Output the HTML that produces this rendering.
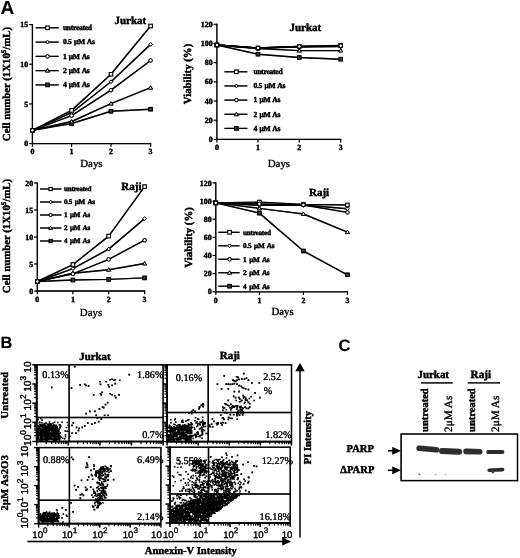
<!DOCTYPE html>
<html><head><meta charset="utf-8"><style>
html,body{margin:0;padding:0;background:#fff;}
svg{display:block;will-change:transform;}
</style></head><body>
<svg width="520" height="558" viewBox="0 0 520 558" text-rendering="geometricPrecision">
<defs><filter id="soft" x="0" y="0" width="520" height="558" filterUnits="userSpaceOnUse" color-interpolation-filters="sRGB">
<feGaussianBlur stdDeviation="0.3"/>
<feComponentTransfer><feFuncR type="gamma" exponent="1.3"/><feFuncG type="gamma" exponent="1.3"/><feFuncB type="gamma" exponent="1.3"/></feComponentTransfer>
</filter><filter id="bb" x="-20%" y="-60%" width="140%" height="220%"><feGaussianBlur stdDeviation="0.5"/></filter></defs>
<g filter="url(#soft)" font-family="Liberation Serif">
<rect width="520" height="558" fill="#fff"/>
<text x="0.60" y="14.20" font-family="Liberation Sans" font-size="19" font-weight="bold">A</text>
<g fill="none" stroke="#000">
<path d="M32.40 24.00L32.40 144.20" stroke="#000" stroke-width="1.3"/>
<path d="M31.80 143.60L151.20 143.60" stroke="#000" stroke-width="1.3"/>
<path d="M29.20 143.60L32.40 143.60" stroke="#000" stroke-width="1.1"/>
<path d="M29.20 103.93L32.40 103.93" stroke="#000" stroke-width="1.1"/>
<path d="M29.20 64.27L32.40 64.27" stroke="#000" stroke-width="1.1"/>
<path d="M29.20 24.60L32.40 24.60" stroke="#000" stroke-width="1.1"/>
<path d="M32.40 143.60L32.40 146.80" stroke="#000" stroke-width="1.1"/>
<path d="M71.60 143.60L71.60 146.80" stroke="#000" stroke-width="1.1"/>
<path d="M111.00 143.60L111.00 146.80" stroke="#000" stroke-width="1.1"/>
<path d="M150.60 143.60L150.60 146.80" stroke="#000" stroke-width="1.1"/>
<path d="M32.40 130.30L71.60 110.40L111.00 74.30L150.60 26.00" stroke-width="1.45" stroke-linejoin="round"/>
<path d="M32.40 130.30L71.60 112.70L111.00 81.70L150.60 44.40" stroke-width="1.45" stroke-linejoin="round"/>
<path d="M32.40 130.30L71.60 115.60L111.00 90.20L150.60 60.50" stroke-width="1.45" stroke-linejoin="round"/>
<path d="M32.40 130.30L71.60 121.50L111.00 103.60L150.60 87.70" stroke-width="1.45" stroke-linejoin="round"/>
<path d="M32.40 130.30L71.60 123.50L111.00 111.30L150.60 109.20" stroke-width="1.45" stroke-linejoin="round"/>
<path d="M35.60 27.80L58.70 27.80" stroke="#000" stroke-width="1.3"/>
<path d="M35.60 42.08L58.70 42.08" stroke="#000" stroke-width="1.3"/>
<path d="M35.60 56.36L58.70 56.36" stroke="#000" stroke-width="1.3"/>
<path d="M35.60 70.64L58.70 70.64" stroke="#000" stroke-width="1.3"/>
<path d="M35.60 84.92L58.70 84.92" stroke="#000" stroke-width="1.3"/>
</g><g stroke="#000">
<rect x="30.60" y="128.50" width="3.60" height="3.60" fill="#555" stroke-width="1"/>
<rect x="69.80" y="121.70" width="3.60" height="3.60" fill="#555" stroke-width="1"/>
<rect x="109.20" y="109.50" width="3.60" height="3.60" fill="#555" stroke-width="1"/>
<rect x="148.80" y="107.40" width="3.60" height="3.60" fill="#555" stroke-width="1"/>
<path d="M32.40 128.30L34.50 131.80L30.30 131.80Z" fill="#fff" stroke-width="1"/>
<path d="M71.60 119.50L73.70 123.00L69.50 123.00Z" fill="#fff" stroke-width="1"/>
<path d="M111.00 101.60L113.10 105.10L108.90 105.10Z" fill="#fff" stroke-width="1"/>
<path d="M150.60 85.70L152.70 89.20L148.50 89.20Z" fill="#fff" stroke-width="1"/>
<path d="M32.40 128.41L34.29 130.30L32.40 132.19L30.51 130.30Z" fill="#fff" stroke-width="1"/>
<path d="M71.60 110.81L73.49 112.70L71.60 114.59L69.71 112.70Z" fill="#fff" stroke-width="1"/>
<path d="M111.00 79.81L112.89 81.70L111.00 83.59L109.11 81.70Z" fill="#fff" stroke-width="1"/>
<path d="M150.60 42.51L152.49 44.40L150.60 46.29L148.71 44.40Z" fill="#fff" stroke-width="1"/>
<rect x="30.60" y="128.50" width="3.60" height="3.60" fill="#fff" stroke-width="1"/>
<rect x="69.80" y="108.60" width="3.60" height="3.60" fill="#fff" stroke-width="1"/>
<rect x="109.20" y="72.50" width="3.60" height="3.60" fill="#fff" stroke-width="1"/>
<rect x="148.80" y="24.20" width="3.60" height="3.60" fill="#fff" stroke-width="1"/>
<circle cx="32.40" cy="130.30" r="1.80" fill="#fff" stroke-width="1"/>
<circle cx="71.60" cy="115.60" r="1.80" fill="#fff" stroke-width="1"/>
<circle cx="111.00" cy="90.20" r="1.80" fill="#fff" stroke-width="1"/>
<circle cx="150.60" cy="60.50" r="1.80" fill="#fff" stroke-width="1"/>
<rect x="45.70" y="26.00" width="3.60" height="3.60" fill="#fff" stroke-width="1"/>
<path d="M47.50 40.19L49.39 42.08L47.50 43.97L45.61 42.08Z" fill="#fff" stroke-width="1"/>
<circle cx="47.50" cy="56.36" r="1.80" fill="#fff" stroke-width="1"/>
<path d="M47.50 68.64L49.60 72.14L45.40 72.14Z" fill="#fff" stroke-width="1"/>
<rect x="45.70" y="83.12" width="3.60" height="3.60" fill="#555" stroke-width="1"/>
</g>
<text x="28.20" y="146.20" font-size="7.9" font-weight="bold" stroke="#000" stroke-width="0.3" text-anchor="end">0</text>
<text x="28.20" y="106.53" font-size="7.9" font-weight="bold" stroke="#000" stroke-width="0.3" text-anchor="end">5</text>
<text x="28.20" y="66.87" font-size="7.9" font-weight="bold" stroke="#000" stroke-width="0.3" text-anchor="end">10</text>
<text x="28.20" y="27.20" font-size="7.9" font-weight="bold" stroke="#000" stroke-width="0.3" text-anchor="end">15</text>
<text x="32.40" y="154.40" font-size="7.9" font-weight="bold" stroke="#000" stroke-width="0.3" text-anchor="middle">0</text>
<text x="71.60" y="154.40" font-size="7.9" font-weight="bold" stroke="#000" stroke-width="0.3" text-anchor="middle">1</text>
<text x="111.00" y="154.40" font-size="7.9" font-weight="bold" stroke="#000" stroke-width="0.3" text-anchor="middle">2</text>
<text x="150.60" y="154.40" font-size="7.9" font-weight="bold" stroke="#000" stroke-width="0.3" text-anchor="middle">3</text>
<text x="62.90" y="30.10" font-size="7.6" font-weight="bold" stroke="#000" stroke-width="0.3" letter-spacing="-0.3" word-spacing="0.8">untreated</text>
<text x="62.90" y="44.38" font-size="7.6" font-weight="bold" stroke="#000" stroke-width="0.3" letter-spacing="-0.3" word-spacing="0.8">0.5 &#956;M As</text>
<text x="62.90" y="58.66" font-size="7.6" font-weight="bold" stroke="#000" stroke-width="0.3" letter-spacing="-0.3" word-spacing="0.8">1 &#956;M As</text>
<text x="62.90" y="72.94" font-size="7.6" font-weight="bold" stroke="#000" stroke-width="0.3" letter-spacing="-0.3" word-spacing="0.8">2 &#956;M As</text>
<text x="62.90" y="87.22" font-size="7.6" font-weight="bold" stroke="#000" stroke-width="0.3" letter-spacing="-0.3" word-spacing="0.8">4 &#956;M As</text>
<text x="114.40" y="24.20" font-size="11" font-weight="bold" stroke="#000" stroke-width="0.3">Jurkat</text>
<text x="80.20" y="166.60" font-size="10.9" stroke="#000" stroke-width="0.22">Days</text>
<text x="9.70" y="84.00" font-size="10.8" font-weight="bold" stroke="#000" stroke-width="0.3" text-anchor="middle" transform="rotate(-90 9.70 84.00)">Cell number (1X10<tspan font-size="7" dy="-4">5</tspan><tspan dy="4">/mL)</tspan></text>
<g fill="none" stroke="#000">
<path d="M216.90 23.70L216.90 140.00" stroke="#000" stroke-width="1.3"/>
<path d="M216.30 139.40L341.30 139.40" stroke="#000" stroke-width="1.3"/>
<path d="M213.70 139.40L216.90 139.40" stroke="#000" stroke-width="1.1"/>
<path d="M213.70 120.22L216.90 120.22" stroke="#000" stroke-width="1.1"/>
<path d="M213.70 101.03L216.90 101.03" stroke="#000" stroke-width="1.1"/>
<path d="M213.70 81.85L216.90 81.85" stroke="#000" stroke-width="1.1"/>
<path d="M213.70 62.67L216.90 62.67" stroke="#000" stroke-width="1.1"/>
<path d="M213.70 43.48L216.90 43.48" stroke="#000" stroke-width="1.1"/>
<path d="M213.70 24.30L216.90 24.30" stroke="#000" stroke-width="1.1"/>
<path d="M216.90 139.40L216.90 142.60" stroke="#000" stroke-width="1.1"/>
<path d="M258.00 139.40L258.00 142.60" stroke="#000" stroke-width="1.1"/>
<path d="M299.30 139.40L299.30 142.60" stroke="#000" stroke-width="1.1"/>
<path d="M340.70 139.40L340.70 142.60" stroke="#000" stroke-width="1.1"/>
<path d="M216.90 45.00L258.00 48.00L299.30 46.50L340.70 45.40" stroke-width="1.45" stroke-linejoin="round"/>
<path d="M216.90 45.00L258.00 48.00L299.30 47.00L340.70 46.60" stroke-width="1.45" stroke-linejoin="round"/>
<path d="M216.90 45.00L258.00 48.00L299.30 46.50L340.70 45.80" stroke-width="1.45" stroke-linejoin="round"/>
<path d="M216.90 45.00L258.00 48.50L299.30 50.60L340.70 50.60" stroke-width="1.45" stroke-linejoin="round"/>
<path d="M216.90 45.00L258.00 54.20L299.30 57.50L340.70 59.20" stroke-width="1.45" stroke-linejoin="round"/>
<path d="M224.40 71.80L247.40 71.80" stroke="#000" stroke-width="1.3"/>
<path d="M224.40 85.95L247.40 85.95" stroke="#000" stroke-width="1.3"/>
<path d="M224.40 100.10L247.40 100.10" stroke="#000" stroke-width="1.3"/>
<path d="M224.40 114.25L247.40 114.25" stroke="#000" stroke-width="1.3"/>
<path d="M224.40 128.40L247.40 128.40" stroke="#000" stroke-width="1.3"/>
</g><g stroke="#000">
<rect x="215.10" y="43.20" width="3.60" height="3.60" fill="#555" stroke-width="1"/>
<rect x="256.20" y="52.40" width="3.60" height="3.60" fill="#555" stroke-width="1"/>
<rect x="297.50" y="55.70" width="3.60" height="3.60" fill="#555" stroke-width="1"/>
<rect x="338.90" y="57.40" width="3.60" height="3.60" fill="#555" stroke-width="1"/>
<path d="M216.90 43.00L219.00 46.50L214.80 46.50Z" fill="#fff" stroke-width="1"/>
<path d="M258.00 46.50L260.10 50.00L255.90 50.00Z" fill="#fff" stroke-width="1"/>
<path d="M299.30 48.60L301.40 52.10L297.20 52.10Z" fill="#fff" stroke-width="1"/>
<path d="M340.70 48.60L342.80 52.10L338.60 52.10Z" fill="#fff" stroke-width="1"/>
<path d="M216.90 43.11L218.79 45.00L216.90 46.89L215.01 45.00Z" fill="#fff" stroke-width="1"/>
<path d="M258.00 46.11L259.89 48.00L258.00 49.89L256.11 48.00Z" fill="#fff" stroke-width="1"/>
<path d="M299.30 45.11L301.19 47.00L299.30 48.89L297.41 47.00Z" fill="#fff" stroke-width="1"/>
<path d="M340.70 44.71L342.59 46.60L340.70 48.49L338.81 46.60Z" fill="#fff" stroke-width="1"/>
<rect x="215.10" y="43.20" width="3.60" height="3.60" fill="#fff" stroke-width="1"/>
<rect x="256.20" y="46.20" width="3.60" height="3.60" fill="#fff" stroke-width="1"/>
<rect x="297.50" y="44.70" width="3.60" height="3.60" fill="#fff" stroke-width="1"/>
<rect x="338.90" y="43.60" width="3.60" height="3.60" fill="#fff" stroke-width="1"/>
<circle cx="216.90" cy="45.00" r="1.80" fill="#fff" stroke-width="1"/>
<circle cx="258.00" cy="48.00" r="1.80" fill="#fff" stroke-width="1"/>
<circle cx="299.30" cy="46.50" r="1.80" fill="#fff" stroke-width="1"/>
<circle cx="340.70" cy="45.80" r="1.80" fill="#fff" stroke-width="1"/>
<rect x="234.60" y="70.00" width="3.60" height="3.60" fill="#fff" stroke-width="1"/>
<path d="M236.40 84.06L238.29 85.95L236.40 87.84L234.51 85.95Z" fill="#fff" stroke-width="1"/>
<circle cx="236.40" cy="100.10" r="1.80" fill="#fff" stroke-width="1"/>
<path d="M236.40 112.25L238.50 115.75L234.30 115.75Z" fill="#fff" stroke-width="1"/>
<rect x="234.60" y="126.60" width="3.60" height="3.60" fill="#555" stroke-width="1"/>
</g>
<text x="212.70" y="142.00" font-size="7.9" font-weight="bold" stroke="#000" stroke-width="0.3" text-anchor="end">0</text>
<text x="212.70" y="122.82" font-size="7.9" font-weight="bold" stroke="#000" stroke-width="0.3" text-anchor="end">20</text>
<text x="212.70" y="103.63" font-size="7.9" font-weight="bold" stroke="#000" stroke-width="0.3" text-anchor="end">40</text>
<text x="212.70" y="84.45" font-size="7.9" font-weight="bold" stroke="#000" stroke-width="0.3" text-anchor="end">60</text>
<text x="212.70" y="65.27" font-size="7.9" font-weight="bold" stroke="#000" stroke-width="0.3" text-anchor="end">80</text>
<text x="212.70" y="46.08" font-size="7.9" font-weight="bold" stroke="#000" stroke-width="0.3" text-anchor="end">100</text>
<text x="212.70" y="26.90" font-size="7.9" font-weight="bold" stroke="#000" stroke-width="0.3" text-anchor="end">120</text>
<text x="216.90" y="150.20" font-size="7.9" font-weight="bold" stroke="#000" stroke-width="0.3" text-anchor="middle">0</text>
<text x="258.00" y="150.20" font-size="7.9" font-weight="bold" stroke="#000" stroke-width="0.3" text-anchor="middle">1</text>
<text x="299.30" y="150.20" font-size="7.9" font-weight="bold" stroke="#000" stroke-width="0.3" text-anchor="middle">2</text>
<text x="340.70" y="150.20" font-size="7.9" font-weight="bold" stroke="#000" stroke-width="0.3" text-anchor="middle">3</text>
<text x="253.50" y="74.10" font-size="7.6" font-weight="bold" stroke="#000" stroke-width="0.3" letter-spacing="-0.3" word-spacing="0.8">untreated</text>
<text x="253.50" y="88.25" font-size="7.6" font-weight="bold" stroke="#000" stroke-width="0.3" letter-spacing="-0.3" word-spacing="0.8">0.5 &#956;M As</text>
<text x="253.50" y="102.40" font-size="7.6" font-weight="bold" stroke="#000" stroke-width="0.3" letter-spacing="-0.3" word-spacing="0.8">1 &#956;M As</text>
<text x="253.50" y="116.55" font-size="7.6" font-weight="bold" stroke="#000" stroke-width="0.3" letter-spacing="-0.3" word-spacing="0.8">2 &#956;M As</text>
<text x="253.50" y="130.70" font-size="7.6" font-weight="bold" stroke="#000" stroke-width="0.3" letter-spacing="-0.3" word-spacing="0.8">4 &#956;M As</text>
<text x="289.50" y="31.20" font-size="11" font-weight="bold" stroke="#000" stroke-width="0.3">Jurkat</text>
<text x="267.70" y="166.50" font-size="10.9" stroke="#000" stroke-width="0.22">Days</text>
<text x="191.20" y="74.00" font-size="10.8" font-weight="bold" stroke="#000" stroke-width="0.3" text-anchor="middle" transform="rotate(-90 191.20 74.00)">Viability (%)</text>
<g fill="none" stroke="#000">
<path d="M37.30 182.40L37.30 291.60" stroke="#000" stroke-width="1.3"/>
<path d="M36.70 291.00L145.20 291.00" stroke="#000" stroke-width="1.3"/>
<path d="M34.10 291.00L37.30 291.00" stroke="#000" stroke-width="1.1"/>
<path d="M34.10 264.00L37.30 264.00" stroke="#000" stroke-width="1.1"/>
<path d="M34.10 237.00L37.30 237.00" stroke="#000" stroke-width="1.1"/>
<path d="M34.10 210.00L37.30 210.00" stroke="#000" stroke-width="1.1"/>
<path d="M34.10 183.00L37.30 183.00" stroke="#000" stroke-width="1.1"/>
<path d="M37.30 291.00L37.30 294.20" stroke="#000" stroke-width="1.1"/>
<path d="M72.90 291.00L72.90 294.20" stroke="#000" stroke-width="1.1"/>
<path d="M108.70 291.00L108.70 294.20" stroke="#000" stroke-width="1.1"/>
<path d="M144.60 291.00L144.60 294.20" stroke="#000" stroke-width="1.1"/>
<path d="M37.30 281.50L72.90 264.60L108.70 236.10L144.60 186.60" stroke-width="1.45" stroke-linejoin="round"/>
<path d="M37.30 281.50L72.90 268.60L108.70 249.10L144.60 218.60" stroke-width="1.45" stroke-linejoin="round"/>
<path d="M37.30 281.50L72.90 273.80L108.70 259.40L144.60 240.20" stroke-width="1.45" stroke-linejoin="round"/>
<path d="M37.30 281.50L72.90 273.30L108.70 269.70L144.60 263.50" stroke-width="1.45" stroke-linejoin="round"/>
<path d="M37.30 281.50L72.90 280.00L108.70 279.40L144.60 277.90" stroke-width="1.45" stroke-linejoin="round"/>
<path d="M40.00 189.00L61.50 189.00" stroke="#000" stroke-width="1.3"/>
<path d="M40.00 202.00L61.50 202.00" stroke="#000" stroke-width="1.3"/>
<path d="M40.00 215.00L61.50 215.00" stroke="#000" stroke-width="1.3"/>
<path d="M40.00 228.00L61.50 228.00" stroke="#000" stroke-width="1.3"/>
<path d="M40.00 241.00L61.50 241.00" stroke="#000" stroke-width="1.3"/>
</g><g stroke="#000">
<rect x="35.50" y="279.70" width="3.60" height="3.60" fill="#555" stroke-width="1"/>
<rect x="71.10" y="278.20" width="3.60" height="3.60" fill="#555" stroke-width="1"/>
<rect x="106.90" y="277.60" width="3.60" height="3.60" fill="#555" stroke-width="1"/>
<rect x="142.80" y="276.10" width="3.60" height="3.60" fill="#555" stroke-width="1"/>
<path d="M37.30 279.50L39.40 283.00L35.20 283.00Z" fill="#fff" stroke-width="1"/>
<path d="M72.90 271.30L75.00 274.80L70.80 274.80Z" fill="#fff" stroke-width="1"/>
<path d="M108.70 267.70L110.80 271.20L106.60 271.20Z" fill="#fff" stroke-width="1"/>
<path d="M144.60 261.50L146.70 265.00L142.50 265.00Z" fill="#fff" stroke-width="1"/>
<path d="M37.30 279.61L39.19 281.50L37.30 283.39L35.41 281.50Z" fill="#fff" stroke-width="1"/>
<path d="M72.90 266.71L74.79 268.60L72.90 270.49L71.01 268.60Z" fill="#fff" stroke-width="1"/>
<path d="M108.70 247.21L110.59 249.10L108.70 250.99L106.81 249.10Z" fill="#fff" stroke-width="1"/>
<path d="M144.60 216.71L146.49 218.60L144.60 220.49L142.71 218.60Z" fill="#fff" stroke-width="1"/>
<rect x="35.50" y="279.70" width="3.60" height="3.60" fill="#fff" stroke-width="1"/>
<rect x="71.10" y="262.80" width="3.60" height="3.60" fill="#fff" stroke-width="1"/>
<rect x="106.90" y="234.30" width="3.60" height="3.60" fill="#fff" stroke-width="1"/>
<rect x="142.80" y="184.80" width="3.60" height="3.60" fill="#fff" stroke-width="1"/>
<circle cx="37.30" cy="281.50" r="1.80" fill="#fff" stroke-width="1"/>
<circle cx="72.90" cy="273.80" r="1.80" fill="#fff" stroke-width="1"/>
<circle cx="108.70" cy="259.40" r="1.80" fill="#fff" stroke-width="1"/>
<circle cx="144.60" cy="240.20" r="1.80" fill="#fff" stroke-width="1"/>
<rect x="49.00" y="187.40" width="3.20" height="3.20" fill="#fff" stroke-width="1"/>
<path d="M50.60 200.32L52.28 202.00L50.60 203.68L48.92 202.00Z" fill="#fff" stroke-width="1"/>
<circle cx="50.60" cy="215.00" r="1.60" fill="#fff" stroke-width="1"/>
<path d="M50.60 226.20L52.50 229.30L48.70 229.30Z" fill="#fff" stroke-width="1"/>
<rect x="49.00" y="239.40" width="3.20" height="3.20" fill="#555" stroke-width="1"/>
</g>
<text x="33.10" y="293.60" font-size="7.9" font-weight="bold" stroke="#000" stroke-width="0.3" text-anchor="end">0</text>
<text x="33.10" y="266.60" font-size="7.9" font-weight="bold" stroke="#000" stroke-width="0.3" text-anchor="end">5</text>
<text x="33.10" y="239.60" font-size="7.9" font-weight="bold" stroke="#000" stroke-width="0.3" text-anchor="end">10</text>
<text x="33.10" y="212.60" font-size="7.9" font-weight="bold" stroke="#000" stroke-width="0.3" text-anchor="end">15</text>
<text x="33.10" y="185.60" font-size="7.9" font-weight="bold" stroke="#000" stroke-width="0.3" text-anchor="end">20</text>
<text x="37.30" y="301.80" font-size="7.9" font-weight="bold" stroke="#000" stroke-width="0.3" text-anchor="middle">0</text>
<text x="72.90" y="301.80" font-size="7.9" font-weight="bold" stroke="#000" stroke-width="0.3" text-anchor="middle">1</text>
<text x="108.70" y="301.80" font-size="7.9" font-weight="bold" stroke="#000" stroke-width="0.3" text-anchor="middle">2</text>
<text x="144.60" y="301.80" font-size="7.9" font-weight="bold" stroke="#000" stroke-width="0.3" text-anchor="middle">3</text>
<text x="64.00" y="191.30" font-size="7.1" font-weight="bold" stroke="#000" stroke-width="0.3" letter-spacing="-0.25" word-spacing="1.2">untreated</text>
<text x="64.00" y="204.30" font-size="7.1" font-weight="bold" stroke="#000" stroke-width="0.3" letter-spacing="-0.25" word-spacing="1.2">0.5 &#956;M As</text>
<text x="64.00" y="217.30" font-size="7.1" font-weight="bold" stroke="#000" stroke-width="0.3" letter-spacing="-0.25" word-spacing="1.2">1 &#956;M As</text>
<text x="64.00" y="230.30" font-size="7.1" font-weight="bold" stroke="#000" stroke-width="0.3" letter-spacing="-0.25" word-spacing="1.2">2 &#956;M As</text>
<text x="64.00" y="243.30" font-size="7.1" font-weight="bold" stroke="#000" stroke-width="0.3" letter-spacing="-0.25" word-spacing="1.2">4 &#956;M As</text>
<text x="121.30" y="189.90" font-size="11" font-weight="bold" stroke="#000" stroke-width="0.3">Raji</text>
<text x="79.80" y="315.60" font-size="10.9" stroke="#000" stroke-width="0.22">Days</text>
<text x="9.70" y="236.00" font-size="10.8" font-weight="bold" stroke="#000" stroke-width="0.3" text-anchor="middle" transform="rotate(-90 9.70 236.00)">Cell number (1X10<tspan font-size="7" dy="-4">5</tspan><tspan dy="4">/mL)</tspan></text>
<g fill="none" stroke="#000">
<path d="M215.80 182.30L215.80 292.40" stroke="#000" stroke-width="1.3"/>
<path d="M215.20 291.80L348.00 291.80" stroke="#000" stroke-width="1.3"/>
<path d="M212.60 291.80L215.80 291.80" stroke="#000" stroke-width="1.1"/>
<path d="M212.60 273.65L215.80 273.65" stroke="#000" stroke-width="1.1"/>
<path d="M212.60 255.50L215.80 255.50" stroke="#000" stroke-width="1.1"/>
<path d="M212.60 237.35L215.80 237.35" stroke="#000" stroke-width="1.1"/>
<path d="M212.60 219.20L215.80 219.20" stroke="#000" stroke-width="1.1"/>
<path d="M212.60 201.05L215.80 201.05" stroke="#000" stroke-width="1.1"/>
<path d="M212.60 182.90L215.80 182.90" stroke="#000" stroke-width="1.1"/>
<path d="M215.80 291.80L215.80 295.00" stroke="#000" stroke-width="1.1"/>
<path d="M259.40 291.80L259.40 295.00" stroke="#000" stroke-width="1.1"/>
<path d="M303.40 291.80L303.40 295.00" stroke="#000" stroke-width="1.1"/>
<path d="M347.40 291.80L347.40 295.00" stroke="#000" stroke-width="1.1"/>
<path d="M215.80 202.90L259.40 202.10L303.40 204.40L347.40 205.00" stroke-width="1.45" stroke-linejoin="round"/>
<path d="M215.80 202.90L259.40 205.30L303.40 205.00L347.40 208.70" stroke-width="1.45" stroke-linejoin="round"/>
<path d="M215.80 202.90L259.40 204.00L303.40 205.00L347.40 212.40" stroke-width="1.45" stroke-linejoin="round"/>
<path d="M215.80 202.90L259.40 208.40L303.40 214.00L347.40 232.10" stroke-width="1.45" stroke-linejoin="round"/>
<path d="M215.80 202.90L259.40 213.10L303.40 251.00L347.40 274.80" stroke-width="1.45" stroke-linejoin="round"/>
<path d="M218.30 232.30L239.60 232.30" stroke="#000" stroke-width="1.3"/>
<path d="M218.30 245.78L239.60 245.78" stroke="#000" stroke-width="1.3"/>
<path d="M218.30 259.26L239.60 259.26" stroke="#000" stroke-width="1.3"/>
<path d="M218.30 272.74L239.60 272.74" stroke="#000" stroke-width="1.3"/>
<path d="M218.30 286.22L239.60 286.22" stroke="#000" stroke-width="1.3"/>
</g><g stroke="#000">
<rect x="214.00" y="201.10" width="3.60" height="3.60" fill="#555" stroke-width="1"/>
<rect x="257.60" y="211.30" width="3.60" height="3.60" fill="#555" stroke-width="1"/>
<rect x="301.60" y="249.20" width="3.60" height="3.60" fill="#555" stroke-width="1"/>
<rect x="345.60" y="273.00" width="3.60" height="3.60" fill="#555" stroke-width="1"/>
<path d="M215.80 200.90L217.90 204.40L213.70 204.40Z" fill="#fff" stroke-width="1"/>
<path d="M259.40 206.40L261.50 209.90L257.30 209.90Z" fill="#fff" stroke-width="1"/>
<path d="M303.40 212.00L305.50 215.50L301.30 215.50Z" fill="#fff" stroke-width="1"/>
<path d="M347.40 230.10L349.50 233.60L345.30 233.60Z" fill="#fff" stroke-width="1"/>
<path d="M215.80 201.01L217.69 202.90L215.80 204.79L213.91 202.90Z" fill="#fff" stroke-width="1"/>
<path d="M259.40 203.41L261.29 205.30L259.40 207.19L257.51 205.30Z" fill="#fff" stroke-width="1"/>
<path d="M303.40 203.11L305.29 205.00L303.40 206.89L301.51 205.00Z" fill="#fff" stroke-width="1"/>
<path d="M347.40 206.81L349.29 208.70L347.40 210.59L345.51 208.70Z" fill="#fff" stroke-width="1"/>
<rect x="214.00" y="201.10" width="3.60" height="3.60" fill="#fff" stroke-width="1"/>
<rect x="257.60" y="200.30" width="3.60" height="3.60" fill="#fff" stroke-width="1"/>
<rect x="301.60" y="202.60" width="3.60" height="3.60" fill="#fff" stroke-width="1"/>
<rect x="345.60" y="203.20" width="3.60" height="3.60" fill="#fff" stroke-width="1"/>
<circle cx="215.80" cy="202.90" r="1.80" fill="#fff" stroke-width="1"/>
<circle cx="259.40" cy="204.00" r="1.80" fill="#fff" stroke-width="1"/>
<circle cx="303.40" cy="205.00" r="1.80" fill="#fff" stroke-width="1"/>
<circle cx="347.40" cy="212.40" r="1.80" fill="#fff" stroke-width="1"/>
<rect x="227.80" y="230.50" width="3.60" height="3.60" fill="#fff" stroke-width="1"/>
<path d="M229.60 243.89L231.49 245.78L229.60 247.67L227.71 245.78Z" fill="#fff" stroke-width="1"/>
<circle cx="229.60" cy="259.26" r="1.80" fill="#fff" stroke-width="1"/>
<path d="M229.60 270.74L231.70 274.24L227.50 274.24Z" fill="#fff" stroke-width="1"/>
<rect x="227.80" y="284.42" width="3.60" height="3.60" fill="#555" stroke-width="1"/>
</g>
<text x="211.60" y="294.40" font-size="7.9" font-weight="bold" stroke="#000" stroke-width="0.3" text-anchor="end">0</text>
<text x="211.60" y="276.25" font-size="7.9" font-weight="bold" stroke="#000" stroke-width="0.3" text-anchor="end">20</text>
<text x="211.60" y="258.10" font-size="7.9" font-weight="bold" stroke="#000" stroke-width="0.3" text-anchor="end">40</text>
<text x="211.60" y="239.95" font-size="7.9" font-weight="bold" stroke="#000" stroke-width="0.3" text-anchor="end">60</text>
<text x="211.60" y="221.80" font-size="7.9" font-weight="bold" stroke="#000" stroke-width="0.3" text-anchor="end">80</text>
<text x="211.60" y="203.65" font-size="7.9" font-weight="bold" stroke="#000" stroke-width="0.3" text-anchor="end">100</text>
<text x="211.60" y="185.50" font-size="7.9" font-weight="bold" stroke="#000" stroke-width="0.3" text-anchor="end">120</text>
<text x="215.80" y="302.60" font-size="7.9" font-weight="bold" stroke="#000" stroke-width="0.3" text-anchor="middle">0</text>
<text x="259.40" y="302.60" font-size="7.9" font-weight="bold" stroke="#000" stroke-width="0.3" text-anchor="middle">1</text>
<text x="303.40" y="302.60" font-size="7.9" font-weight="bold" stroke="#000" stroke-width="0.3" text-anchor="middle">2</text>
<text x="347.40" y="302.60" font-size="7.9" font-weight="bold" stroke="#000" stroke-width="0.3" text-anchor="middle">3</text>
<text x="243.10" y="234.60" font-size="7.2" font-weight="bold" stroke="#000" stroke-width="0.3" letter-spacing="-0.25" word-spacing="1.2">untreated</text>
<text x="243.10" y="248.08" font-size="7.2" font-weight="bold" stroke="#000" stroke-width="0.3" letter-spacing="-0.25" word-spacing="1.2">0.5 &#956;M As</text>
<text x="243.10" y="261.56" font-size="7.2" font-weight="bold" stroke="#000" stroke-width="0.3" letter-spacing="-0.25" word-spacing="1.2">1 &#956;M As</text>
<text x="243.10" y="275.04" font-size="7.2" font-weight="bold" stroke="#000" stroke-width="0.3" letter-spacing="-0.25" word-spacing="1.2">2 &#956;M As</text>
<text x="243.10" y="288.52" font-size="7.2" font-weight="bold" stroke="#000" stroke-width="0.3" letter-spacing="-0.25" word-spacing="1.2">4 &#956;M As</text>
<text x="309.00" y="196.10" font-size="11" font-weight="bold" stroke="#000" stroke-width="0.3">Raji</text>
<text x="271.40" y="315.00" font-size="10.9" stroke="#000" stroke-width="0.22">Days</text>
<text x="192.50" y="237.40" font-size="10.8" font-weight="bold" stroke="#000" stroke-width="0.3" text-anchor="middle" transform="rotate(-90 192.50 237.40)">Viability (%)</text>
<path d="M40.1 417.7h1.5v1.5h-1.5zM37.3 418.7h1.5v1.5h-1.5zM41.4 419.6h1.5v1.5h-1.5zM48.7 421.2h1.5v1.5h-1.5zM53.9 421.4h1.5v1.5h-1.5zM61.3 421.5h1.5v1.5h-1.5zM38.6 422.0h1.5v1.5h-1.5zM39.0 421.6h1.5v1.5h-1.5zM41.1 421.9h1.5v1.5h-1.5zM57.1 421.7h1.5v1.5h-1.5zM66.7 421.7h1.5v1.5h-1.5zM45.3 422.2h1.5v1.5h-1.5zM44.0 422.8h1.5v1.5h-1.5zM49.3 423.0h1.5v1.5h-1.5zM52.2 422.6h1.5v1.5h-1.5zM42.6 423.4h1.5v1.5h-1.5zM44.2 423.1h1.5v1.5h-1.5zM47.3 423.5h1.5v1.5h-1.5zM49.8 423.3h1.5v1.5h-1.5zM50.6 423.4h1.5v1.5h-1.5zM39.6 423.8h1.5v1.5h-1.5zM46.7 423.6h1.5v1.5h-1.5zM48.3 423.6h1.5v1.5h-1.5zM58.7 424.0h1.5v1.5h-1.5zM38.8 424.1h1.5v1.5h-1.5zM40.3 424.2h1.5v1.5h-1.5zM41.5 424.2h1.5v1.5h-1.5zM50.1 424.2h1.5v1.5h-1.5zM50.4 424.4h1.5v1.5h-1.5zM50.4 424.4h1.5v1.5h-1.5zM53.0 424.2h1.5v1.5h-1.5zM55.3 424.4h1.5v1.5h-1.5zM58.5 424.2h1.5v1.5h-1.5zM59.4 424.2h1.5v1.5h-1.5zM67.5 424.4h1.5v1.5h-1.5zM39.6 424.6h1.5v1.5h-1.5zM41.8 424.7h1.5v1.5h-1.5zM42.4 425.0h1.5v1.5h-1.5zM44.0 424.6h1.5v1.5h-1.5zM44.6 425.0h1.5v1.5h-1.5zM47.6 424.7h1.5v1.5h-1.5zM48.9 424.7h1.5v1.5h-1.5zM49.4 424.6h1.5v1.5h-1.5zM51.4 424.8h1.5v1.5h-1.5zM52.1 424.7h1.5v1.5h-1.5zM53.1 425.0h1.5v1.5h-1.5zM53.6 424.6h1.5v1.5h-1.5zM37.3 425.1h1.5v1.5h-1.5zM40.4 425.5h1.5v1.5h-1.5zM40.4 425.4h1.5v1.5h-1.5zM45.2 425.3h1.5v1.5h-1.5zM45.9 425.5h1.5v1.5h-1.5zM47.1 425.4h1.5v1.5h-1.5zM48.5 425.5h1.5v1.5h-1.5zM49.9 425.4h1.5v1.5h-1.5zM49.7 425.3h1.5v1.5h-1.5zM50.3 425.2h1.5v1.5h-1.5zM52.1 425.3h1.5v1.5h-1.5zM54.1 425.3h1.5v1.5h-1.5zM54.9 425.3h1.5v1.5h-1.5zM59.9 425.3h1.5v1.5h-1.5zM37.6 425.8h1.5v1.5h-1.5zM37.8 426.0h1.5v1.5h-1.5zM40.7 425.6h1.5v1.5h-1.5zM40.5 425.8h1.5v1.5h-1.5zM43.6 425.8h1.5v1.5h-1.5zM45.5 425.7h1.5v1.5h-1.5zM45.5 426.0h1.5v1.5h-1.5zM45.7 425.6h1.5v1.5h-1.5zM46.9 426.0h1.5v1.5h-1.5zM46.8 425.8h1.5v1.5h-1.5zM47.3 425.8h1.5v1.5h-1.5zM47.6 425.6h1.5v1.5h-1.5zM49.9 426.0h1.5v1.5h-1.5zM50.4 425.9h1.5v1.5h-1.5zM51.9 425.8h1.5v1.5h-1.5zM53.9 426.0h1.5v1.5h-1.5zM54.2 425.6h1.5v1.5h-1.5zM55.8 425.7h1.5v1.5h-1.5zM38.6 426.5h1.5v1.5h-1.5zM39.0 426.1h1.5v1.5h-1.5zM41.7 426.5h1.5v1.5h-1.5zM42.1 426.1h1.5v1.5h-1.5zM42.4 426.3h1.5v1.5h-1.5zM43.0 426.3h1.5v1.5h-1.5zM44.6 426.1h1.5v1.5h-1.5zM45.1 426.1h1.5v1.5h-1.5zM45.4 426.5h1.5v1.5h-1.5zM47.1 426.5h1.5v1.5h-1.5zM47.8 426.4h1.5v1.5h-1.5zM48.3 426.1h1.5v1.5h-1.5zM49.4 426.5h1.5v1.5h-1.5zM51.3 426.2h1.5v1.5h-1.5zM52.1 426.1h1.5v1.5h-1.5zM52.3 426.4h1.5v1.5h-1.5zM53.1 426.3h1.5v1.5h-1.5zM55.9 426.3h1.5v1.5h-1.5zM56.4 426.1h1.5v1.5h-1.5zM59.3 426.5h1.5v1.5h-1.5zM37.6 426.8h1.5v1.5h-1.5zM44.4 426.9h1.5v1.5h-1.5zM44.8 427.0h1.5v1.5h-1.5zM44.5 427.0h1.5v1.5h-1.5zM45.4 426.9h1.5v1.5h-1.5zM46.6 426.9h1.5v1.5h-1.5zM47.6 427.0h1.5v1.5h-1.5zM48.6 427.0h1.5v1.5h-1.5zM49.4 426.9h1.5v1.5h-1.5zM50.2 426.9h1.5v1.5h-1.5zM51.5 427.0h1.5v1.5h-1.5zM55.2 426.8h1.5v1.5h-1.5zM65.8 426.8h1.5v1.5h-1.5zM37.7 427.5h1.5v1.5h-1.5zM42.9 427.5h1.5v1.5h-1.5zM43.9 427.1h1.5v1.5h-1.5zM44.0 427.2h1.5v1.5h-1.5zM44.6 427.4h1.5v1.5h-1.5zM45.9 427.2h1.5v1.5h-1.5zM46.0 427.1h1.5v1.5h-1.5zM47.4 427.5h1.5v1.5h-1.5zM47.2 427.1h1.5v1.5h-1.5zM48.2 427.4h1.5v1.5h-1.5zM52.2 427.2h1.5v1.5h-1.5zM54.4 427.2h1.5v1.5h-1.5zM54.7 427.2h1.5v1.5h-1.5zM56.6 427.4h1.5v1.5h-1.5zM59.4 427.1h1.5v1.5h-1.5zM39.2 428.0h1.5v1.5h-1.5zM40.2 427.8h1.5v1.5h-1.5zM42.5 428.0h1.5v1.5h-1.5zM43.6 427.9h1.5v1.5h-1.5zM48.6 427.8h1.5v1.5h-1.5zM49.9 427.7h1.5v1.5h-1.5zM50.2 427.8h1.5v1.5h-1.5zM54.0 428.0h1.5v1.5h-1.5zM37.3 428.2h1.5v1.5h-1.5zM39.4 428.2h1.5v1.5h-1.5zM39.5 428.2h1.5v1.5h-1.5zM43.5 428.5h1.5v1.5h-1.5zM51.5 428.3h1.5v1.5h-1.5zM52.2 428.4h1.5v1.5h-1.5zM52.8 428.2h1.5v1.5h-1.5zM55.3 428.5h1.5v1.5h-1.5zM55.9 428.5h1.5v1.5h-1.5zM56.9 428.1h1.5v1.5h-1.5zM57.7 428.4h1.5v1.5h-1.5zM37.9 428.8h1.5v1.5h-1.5zM40.1 428.9h1.5v1.5h-1.5zM41.8 428.6h1.5v1.5h-1.5zM42.9 428.6h1.5v1.5h-1.5zM43.0 428.8h1.5v1.5h-1.5zM44.4 428.9h1.5v1.5h-1.5zM45.8 428.6h1.5v1.5h-1.5zM47.7 428.6h1.5v1.5h-1.5zM48.1 429.0h1.5v1.5h-1.5zM50.3 428.9h1.5v1.5h-1.5zM52.8 429.0h1.5v1.5h-1.5zM53.8 428.6h1.5v1.5h-1.5zM54.5 428.6h1.5v1.5h-1.5zM55.2 429.0h1.5v1.5h-1.5zM58.5 428.7h1.5v1.5h-1.5zM37.2 429.4h1.5v1.5h-1.5zM37.6 429.1h1.5v1.5h-1.5zM38.2 429.4h1.5v1.5h-1.5zM41.6 429.3h1.5v1.5h-1.5zM44.6 429.2h1.5v1.5h-1.5zM46.8 429.2h1.5v1.5h-1.5zM47.7 429.1h1.5v1.5h-1.5zM47.5 429.5h1.5v1.5h-1.5zM49.0 429.3h1.5v1.5h-1.5zM50.0 429.2h1.5v1.5h-1.5zM51.2 429.5h1.5v1.5h-1.5zM53.0 429.4h1.5v1.5h-1.5zM56.4 429.1h1.5v1.5h-1.5zM58.0 429.1h1.5v1.5h-1.5zM37.8 429.9h1.5v1.5h-1.5zM39.1 429.6h1.5v1.5h-1.5zM42.5 430.0h1.5v1.5h-1.5zM42.5 430.0h1.5v1.5h-1.5zM43.3 429.8h1.5v1.5h-1.5zM43.0 429.6h1.5v1.5h-1.5zM43.8 429.9h1.5v1.5h-1.5zM44.4 429.7h1.5v1.5h-1.5zM45.7 430.0h1.5v1.5h-1.5zM45.9 429.6h1.5v1.5h-1.5zM47.0 429.9h1.5v1.5h-1.5zM47.6 429.6h1.5v1.5h-1.5zM50.8 429.6h1.5v1.5h-1.5zM51.8 429.9h1.5v1.5h-1.5zM51.6 429.8h1.5v1.5h-1.5zM52.1 429.9h1.5v1.5h-1.5zM52.0 429.6h1.5v1.5h-1.5zM40.0 430.3h1.5v1.5h-1.5zM41.4 430.2h1.5v1.5h-1.5zM41.4 430.2h1.5v1.5h-1.5zM42.1 430.5h1.5v1.5h-1.5zM42.0 430.4h1.5v1.5h-1.5zM43.4 430.4h1.5v1.5h-1.5zM44.0 430.1h1.5v1.5h-1.5zM44.7 430.5h1.5v1.5h-1.5zM47.4 430.1h1.5v1.5h-1.5zM47.3 430.2h1.5v1.5h-1.5zM47.5 430.1h1.5v1.5h-1.5zM51.2 430.4h1.5v1.5h-1.5zM51.7 430.4h1.5v1.5h-1.5zM53.9 430.3h1.5v1.5h-1.5zM54.2 430.5h1.5v1.5h-1.5zM55.6 430.5h1.5v1.5h-1.5zM55.5 430.3h1.5v1.5h-1.5zM56.8 430.5h1.5v1.5h-1.5zM58.2 430.4h1.5v1.5h-1.5zM64.5 430.2h1.5v1.5h-1.5zM37.4 430.8h1.5v1.5h-1.5zM40.7 430.8h1.5v1.5h-1.5zM40.7 430.6h1.5v1.5h-1.5zM41.2 430.7h1.5v1.5h-1.5zM41.6 430.6h1.5v1.5h-1.5zM43.1 431.0h1.5v1.5h-1.5zM44.8 430.9h1.5v1.5h-1.5zM45.5 431.0h1.5v1.5h-1.5zM48.5 430.7h1.5v1.5h-1.5zM53.2 430.7h1.5v1.5h-1.5zM54.7 430.8h1.5v1.5h-1.5zM57.3 430.6h1.5v1.5h-1.5zM57.3 431.0h1.5v1.5h-1.5zM57.6 430.9h1.5v1.5h-1.5zM58.0 430.8h1.5v1.5h-1.5zM66.3 430.6h1.5v1.5h-1.5zM67.7 430.8h1.5v1.5h-1.5zM36.9 431.1h1.5v1.5h-1.5zM37.1 431.2h1.5v1.5h-1.5zM37.3 431.3h1.5v1.5h-1.5zM37.2 431.2h1.5v1.5h-1.5zM39.1 431.4h1.5v1.5h-1.5zM39.9 431.3h1.5v1.5h-1.5zM43.2 431.2h1.5v1.5h-1.5zM43.6 431.3h1.5v1.5h-1.5zM44.3 431.1h1.5v1.5h-1.5zM44.8 431.4h1.5v1.5h-1.5zM45.5 431.5h1.5v1.5h-1.5zM46.4 431.2h1.5v1.5h-1.5zM47.8 431.1h1.5v1.5h-1.5zM48.7 431.2h1.5v1.5h-1.5zM49.3 431.5h1.5v1.5h-1.5zM51.4 431.3h1.5v1.5h-1.5zM51.2 431.1h1.5v1.5h-1.5zM54.2 431.3h1.5v1.5h-1.5zM57.0 431.1h1.5v1.5h-1.5zM57.5 431.4h1.5v1.5h-1.5zM38.9 431.7h1.5v1.5h-1.5zM39.0 431.9h1.5v1.5h-1.5zM40.9 431.9h1.5v1.5h-1.5zM42.4 431.6h1.5v1.5h-1.5zM42.3 431.8h1.5v1.5h-1.5zM43.3 431.9h1.5v1.5h-1.5zM47.1 431.7h1.5v1.5h-1.5zM48.9 431.7h1.5v1.5h-1.5zM49.2 432.0h1.5v1.5h-1.5zM52.6 432.0h1.5v1.5h-1.5zM54.1 431.7h1.5v1.5h-1.5zM56.5 431.6h1.5v1.5h-1.5zM57.4 431.7h1.5v1.5h-1.5zM57.3 431.7h1.5v1.5h-1.5zM36.9 432.3h1.5v1.5h-1.5zM40.0 432.5h1.5v1.5h-1.5zM41.2 432.4h1.5v1.5h-1.5zM42.4 432.3h1.5v1.5h-1.5zM42.2 432.3h1.5v1.5h-1.5zM43.7 432.3h1.5v1.5h-1.5zM44.2 432.3h1.5v1.5h-1.5zM44.2 432.4h1.5v1.5h-1.5zM44.1 432.3h1.5v1.5h-1.5zM44.7 432.1h1.5v1.5h-1.5zM52.2 432.4h1.5v1.5h-1.5zM52.5 432.5h1.5v1.5h-1.5zM53.3 432.2h1.5v1.5h-1.5zM53.2 432.1h1.5v1.5h-1.5zM53.6 432.4h1.5v1.5h-1.5zM55.6 432.2h1.5v1.5h-1.5zM55.7 432.2h1.5v1.5h-1.5zM56.8 432.1h1.5v1.5h-1.5zM59.5 432.2h1.5v1.5h-1.5zM38.6 432.7h1.5v1.5h-1.5zM39.5 432.6h1.5v1.5h-1.5zM42.6 432.7h1.5v1.5h-1.5zM43.0 432.6h1.5v1.5h-1.5zM43.8 432.8h1.5v1.5h-1.5zM43.5 433.0h1.5v1.5h-1.5zM44.2 432.6h1.5v1.5h-1.5zM44.7 432.7h1.5v1.5h-1.5zM45.2 432.6h1.5v1.5h-1.5zM45.6 432.6h1.5v1.5h-1.5zM49.8 432.6h1.5v1.5h-1.5zM50.0 432.7h1.5v1.5h-1.5zM51.9 432.6h1.5v1.5h-1.5zM52.0 432.6h1.5v1.5h-1.5zM53.6 432.8h1.5v1.5h-1.5zM54.9 432.6h1.5v1.5h-1.5zM56.5 432.9h1.5v1.5h-1.5zM56.5 433.0h1.5v1.5h-1.5zM57.5 432.9h1.5v1.5h-1.5zM58.6 432.9h1.5v1.5h-1.5zM38.6 433.1h1.5v1.5h-1.5zM39.7 433.3h1.5v1.5h-1.5zM40.3 433.5h1.5v1.5h-1.5zM43.9 433.4h1.5v1.5h-1.5zM44.1 433.4h1.5v1.5h-1.5zM44.8 433.1h1.5v1.5h-1.5zM46.3 433.5h1.5v1.5h-1.5zM46.8 433.3h1.5v1.5h-1.5zM47.7 433.2h1.5v1.5h-1.5zM49.6 433.5h1.5v1.5h-1.5zM50.2 433.5h1.5v1.5h-1.5zM50.5 433.5h1.5v1.5h-1.5zM50.6 433.4h1.5v1.5h-1.5zM51.1 433.5h1.5v1.5h-1.5zM51.4 433.1h1.5v1.5h-1.5zM51.7 433.3h1.5v1.5h-1.5zM52.2 433.3h1.5v1.5h-1.5zM53.1 433.1h1.5v1.5h-1.5zM53.1 433.3h1.5v1.5h-1.5zM55.6 433.4h1.5v1.5h-1.5zM57.0 433.2h1.5v1.5h-1.5zM57.0 433.1h1.5v1.5h-1.5zM57.1 433.1h1.5v1.5h-1.5zM57.5 433.2h1.5v1.5h-1.5zM38.0 433.9h1.5v1.5h-1.5zM39.0 434.0h1.5v1.5h-1.5zM39.2 433.8h1.5v1.5h-1.5zM43.5 433.9h1.5v1.5h-1.5zM45.3 433.6h1.5v1.5h-1.5zM46.9 433.7h1.5v1.5h-1.5zM48.0 433.9h1.5v1.5h-1.5zM48.5 433.8h1.5v1.5h-1.5zM48.7 433.8h1.5v1.5h-1.5zM48.6 433.7h1.5v1.5h-1.5zM50.3 433.7h1.5v1.5h-1.5zM50.2 433.8h1.5v1.5h-1.5zM51.0 433.9h1.5v1.5h-1.5zM51.7 434.0h1.5v1.5h-1.5zM53.1 433.8h1.5v1.5h-1.5zM53.5 433.7h1.5v1.5h-1.5zM53.7 433.7h1.5v1.5h-1.5zM56.7 433.8h1.5v1.5h-1.5zM57.8 433.7h1.5v1.5h-1.5zM58.2 433.9h1.5v1.5h-1.5zM36.8 434.1h1.5v1.5h-1.5zM36.9 434.1h1.5v1.5h-1.5zM37.1 434.2h1.5v1.5h-1.5zM37.9 434.4h1.5v1.5h-1.5zM39.2 434.2h1.5v1.5h-1.5zM40.0 434.5h1.5v1.5h-1.5zM41.1 434.1h1.5v1.5h-1.5zM42.7 434.4h1.5v1.5h-1.5zM43.8 434.1h1.5v1.5h-1.5zM46.3 434.3h1.5v1.5h-1.5zM50.5 434.4h1.5v1.5h-1.5zM51.9 434.1h1.5v1.5h-1.5zM54.3 434.2h1.5v1.5h-1.5zM57.2 434.1h1.5v1.5h-1.5zM57.1 434.2h1.5v1.5h-1.5zM58.7 434.5h1.5v1.5h-1.5zM64.7 434.2h1.5v1.5h-1.5zM36.9 435.0h1.5v1.5h-1.5zM36.9 434.7h1.5v1.5h-1.5zM36.8 435.0h1.5v1.5h-1.5zM39.4 434.6h1.5v1.5h-1.5zM39.3 434.8h1.5v1.5h-1.5zM41.8 434.7h1.5v1.5h-1.5zM41.6 434.9h1.5v1.5h-1.5zM43.9 434.9h1.5v1.5h-1.5zM45.4 434.6h1.5v1.5h-1.5zM48.0 434.7h1.5v1.5h-1.5zM48.7 434.6h1.5v1.5h-1.5zM52.1 435.0h1.5v1.5h-1.5zM53.7 434.9h1.5v1.5h-1.5zM54.9 434.7h1.5v1.5h-1.5zM58.5 434.7h1.5v1.5h-1.5zM39.3 435.1h1.5v1.5h-1.5zM39.8 435.1h1.5v1.5h-1.5zM40.2 435.3h1.5v1.5h-1.5zM44.3 435.1h1.5v1.5h-1.5zM44.9 435.2h1.5v1.5h-1.5zM45.6 435.1h1.5v1.5h-1.5zM47.5 435.3h1.5v1.5h-1.5zM52.0 435.2h1.5v1.5h-1.5zM52.2 435.2h1.5v1.5h-1.5zM52.5 435.2h1.5v1.5h-1.5zM53.7 435.3h1.5v1.5h-1.5zM53.5 435.3h1.5v1.5h-1.5zM54.2 435.2h1.5v1.5h-1.5zM56.1 435.4h1.5v1.5h-1.5zM56.5 435.4h1.5v1.5h-1.5zM57.2 435.3h1.5v1.5h-1.5zM57.8 435.5h1.5v1.5h-1.5zM59.2 435.4h1.5v1.5h-1.5zM37.0 435.8h1.5v1.5h-1.5zM39.8 435.9h1.5v1.5h-1.5zM39.8 436.0h1.5v1.5h-1.5zM39.7 435.7h1.5v1.5h-1.5zM39.5 435.6h1.5v1.5h-1.5zM40.7 435.8h1.5v1.5h-1.5zM40.6 435.7h1.5v1.5h-1.5zM41.3 436.0h1.5v1.5h-1.5zM43.4 435.7h1.5v1.5h-1.5zM45.4 435.8h1.5v1.5h-1.5zM47.0 435.6h1.5v1.5h-1.5zM47.7 435.8h1.5v1.5h-1.5zM47.7 436.0h1.5v1.5h-1.5zM49.7 436.0h1.5v1.5h-1.5zM50.8 435.6h1.5v1.5h-1.5zM51.4 435.8h1.5v1.5h-1.5zM51.5 435.6h1.5v1.5h-1.5zM52.5 435.7h1.5v1.5h-1.5zM52.8 436.0h1.5v1.5h-1.5zM54.0 435.7h1.5v1.5h-1.5zM55.0 435.9h1.5v1.5h-1.5zM55.9 435.6h1.5v1.5h-1.5zM57.3 436.0h1.5v1.5h-1.5zM57.4 436.0h1.5v1.5h-1.5zM57.6 435.7h1.5v1.5h-1.5zM69.1 435.6h1.5v1.5h-1.5zM37.5 436.2h1.5v1.5h-1.5zM39.6 436.4h1.5v1.5h-1.5zM40.2 436.4h1.5v1.5h-1.5zM40.0 436.1h1.5v1.5h-1.5zM41.2 436.4h1.5v1.5h-1.5zM45.3 436.5h1.5v1.5h-1.5zM47.2 436.2h1.5v1.5h-1.5zM49.5 436.1h1.5v1.5h-1.5zM50.5 436.2h1.5v1.5h-1.5zM52.4 436.2h1.5v1.5h-1.5zM52.8 436.1h1.5v1.5h-1.5zM53.9 436.4h1.5v1.5h-1.5zM53.8 436.5h1.5v1.5h-1.5zM55.4 436.3h1.5v1.5h-1.5zM56.3 436.3h1.5v1.5h-1.5zM57.7 436.3h1.5v1.5h-1.5zM58.5 436.1h1.5v1.5h-1.5zM58.7 436.2h1.5v1.5h-1.5zM60.3 436.5h1.5v1.5h-1.5zM64.8 436.1h1.5v1.5h-1.5zM36.8 436.7h1.5v1.5h-1.5zM40.2 436.8h1.5v1.5h-1.5zM40.8 437.0h1.5v1.5h-1.5zM42.0 436.7h1.5v1.5h-1.5zM45.1 436.7h1.5v1.5h-1.5zM45.3 436.7h1.5v1.5h-1.5zM45.8 436.9h1.5v1.5h-1.5zM47.2 436.7h1.5v1.5h-1.5zM47.2 436.8h1.5v1.5h-1.5zM47.5 436.6h1.5v1.5h-1.5zM47.8 436.8h1.5v1.5h-1.5zM54.4 436.9h1.5v1.5h-1.5zM55.1 436.6h1.5v1.5h-1.5zM55.5 436.6h1.5v1.5h-1.5zM58.4 436.8h1.5v1.5h-1.5zM58.3 437.0h1.5v1.5h-1.5zM37.7 437.2h1.5v1.5h-1.5zM40.0 437.4h1.5v1.5h-1.5zM40.7 437.5h1.5v1.5h-1.5zM44.2 437.1h1.5v1.5h-1.5zM44.7 437.1h1.5v1.5h-1.5zM45.1 437.3h1.5v1.5h-1.5zM45.5 437.1h1.5v1.5h-1.5zM46.9 437.5h1.5v1.5h-1.5zM46.9 437.3h1.5v1.5h-1.5zM54.5 437.2h1.5v1.5h-1.5zM57.8 437.1h1.5v1.5h-1.5zM61.9 437.5h1.5v1.5h-1.5zM36.9 438.0h1.5v1.5h-1.5zM40.5 437.9h1.5v1.5h-1.5zM41.5 437.8h1.5v1.5h-1.5zM42.0 437.6h1.5v1.5h-1.5zM45.4 437.9h1.5v1.5h-1.5zM47.0 438.0h1.5v1.5h-1.5zM48.4 437.6h1.5v1.5h-1.5zM49.2 437.6h1.5v1.5h-1.5zM49.8 437.7h1.5v1.5h-1.5zM50.4 438.0h1.5v1.5h-1.5zM50.3 437.9h1.5v1.5h-1.5zM53.3 438.0h1.5v1.5h-1.5zM54.7 438.0h1.5v1.5h-1.5zM54.6 437.9h1.5v1.5h-1.5zM55.3 438.0h1.5v1.5h-1.5zM59.1 438.0h1.5v1.5h-1.5zM63.9 437.9h1.5v1.5h-1.5zM37.4 438.3h1.5v1.5h-1.5zM38.9 438.4h1.5v1.5h-1.5zM39.8 438.2h1.5v1.5h-1.5zM39.9 438.2h1.5v1.5h-1.5zM41.9 438.3h1.5v1.5h-1.5zM43.6 438.4h1.5v1.5h-1.5zM45.9 438.3h1.5v1.5h-1.5zM49.4 438.2h1.5v1.5h-1.5zM50.4 438.4h1.5v1.5h-1.5zM52.1 438.1h1.5v1.5h-1.5zM52.6 438.2h1.5v1.5h-1.5zM54.4 438.3h1.5v1.5h-1.5zM56.1 438.1h1.5v1.5h-1.5zM56.7 438.1h1.5v1.5h-1.5zM56.9 438.5h1.5v1.5h-1.5zM56.5 438.2h1.5v1.5h-1.5zM57.4 438.2h1.5v1.5h-1.5zM57.2 438.5h1.5v1.5h-1.5zM57.0 438.5h1.5v1.5h-1.5zM38.4 438.8h1.5v1.5h-1.5zM38.7 438.8h1.5v1.5h-1.5zM39.6 438.9h1.5v1.5h-1.5zM40.2 438.8h1.5v1.5h-1.5zM41.8 438.7h1.5v1.5h-1.5zM43.1 438.7h1.5v1.5h-1.5zM44.2 438.9h1.5v1.5h-1.5zM45.9 438.8h1.5v1.5h-1.5zM46.6 438.6h1.5v1.5h-1.5zM47.1 438.7h1.5v1.5h-1.5zM48.0 438.6h1.5v1.5h-1.5zM51.9 438.7h1.5v1.5h-1.5zM52.9 438.9h1.5v1.5h-1.5zM53.0 438.8h1.5v1.5h-1.5zM53.1 438.6h1.5v1.5h-1.5zM54.3 438.8h1.5v1.5h-1.5zM55.3 438.9h1.5v1.5h-1.5zM55.6 438.9h1.5v1.5h-1.5zM38.8 439.4h1.5v1.5h-1.5zM39.9 439.2h1.5v1.5h-1.5zM41.4 439.2h1.5v1.5h-1.5zM42.2 439.3h1.5v1.5h-1.5zM45.7 439.4h1.5v1.5h-1.5zM47.1 439.2h1.5v1.5h-1.5zM53.0 439.5h1.5v1.5h-1.5zM53.0 439.4h1.5v1.5h-1.5zM53.7 439.4h1.5v1.5h-1.5zM55.4 439.3h1.5v1.5h-1.5zM55.9 439.5h1.5v1.5h-1.5zM58.8 439.2h1.5v1.5h-1.5zM250.4 395.9h1.5v1.5h-1.5zM242.8 397.2h1.5v1.5h-1.5zM248.6 397.7h1.5v1.5h-1.5zM244.6 399.0h1.5v1.5h-1.5zM245.4 399.4h1.5v1.5h-1.5zM235.5 399.8h1.5v1.5h-1.5zM253.4 399.8h1.5v1.5h-1.5zM238.7 401.0h1.5v1.5h-1.5zM239.9 400.7h1.5v1.5h-1.5zM244.3 401.4h1.5v1.5h-1.5zM243.7 402.5h1.5v1.5h-1.5zM234.6 405.2h1.5v1.5h-1.5zM236.0 405.2h1.5v1.5h-1.5zM236.7 405.4h1.5v1.5h-1.5zM222.0 406.3h1.5v1.5h-1.5zM231.3 406.1h1.5v1.5h-1.5zM233.4 406.1h1.5v1.5h-1.5zM223.7 407.0h1.5v1.5h-1.5zM229.3 407.0h1.5v1.5h-1.5zM236.5 407.0h1.5v1.5h-1.5zM230.4 407.9h1.5v1.5h-1.5zM235.9 408.5h1.5v1.5h-1.5zM225.5 409.1h1.5v1.5h-1.5zM230.0 409.3h1.5v1.5h-1.5zM201.9 416.4h1.5v1.5h-1.5zM194.8 417.1h1.5v1.5h-1.5zM174.5 418.1h1.5v1.5h-1.5zM197.0 418.2h1.5v1.5h-1.5zM197.8 418.4h1.5v1.5h-1.5zM169.9 419.0h1.5v1.5h-1.5zM174.0 418.9h1.5v1.5h-1.5zM188.1 418.9h1.5v1.5h-1.5zM182.0 419.4h1.5v1.5h-1.5zM186.9 419.4h1.5v1.5h-1.5zM201.9 419.4h1.5v1.5h-1.5zM181.1 420.0h1.5v1.5h-1.5zM181.8 420.4h1.5v1.5h-1.5zM185.3 420.3h1.5v1.5h-1.5zM194.3 420.1h1.5v1.5h-1.5zM185.1 420.6h1.5v1.5h-1.5zM196.3 421.0h1.5v1.5h-1.5zM201.8 420.6h1.5v1.5h-1.5zM175.0 421.3h1.5v1.5h-1.5zM181.3 421.2h1.5v1.5h-1.5zM182.3 421.4h1.5v1.5h-1.5zM200.7 421.4h1.5v1.5h-1.5zM202.8 421.5h1.5v1.5h-1.5zM170.1 421.9h1.5v1.5h-1.5zM199.4 421.6h1.5v1.5h-1.5zM204.5 421.9h1.5v1.5h-1.5zM190.4 422.1h1.5v1.5h-1.5zM195.3 422.3h1.5v1.5h-1.5zM201.7 422.4h1.5v1.5h-1.5zM202.4 422.1h1.5v1.5h-1.5zM203.1 422.5h1.5v1.5h-1.5zM203.9 422.3h1.5v1.5h-1.5zM187.6 423.0h1.5v1.5h-1.5zM197.2 422.7h1.5v1.5h-1.5zM198.9 423.0h1.5v1.5h-1.5zM202.1 423.0h1.5v1.5h-1.5zM204.3 423.0h1.5v1.5h-1.5zM190.8 423.1h1.5v1.5h-1.5zM191.5 423.5h1.5v1.5h-1.5zM173.2 423.6h1.5v1.5h-1.5zM179.1 424.0h1.5v1.5h-1.5zM183.9 424.0h1.5v1.5h-1.5zM188.2 423.9h1.5v1.5h-1.5zM188.5 423.7h1.5v1.5h-1.5zM189.4 423.9h1.5v1.5h-1.5zM199.2 424.0h1.5v1.5h-1.5zM199.5 423.7h1.5v1.5h-1.5zM202.8 423.7h1.5v1.5h-1.5zM174.3 424.1h1.5v1.5h-1.5zM177.6 424.1h1.5v1.5h-1.5zM189.5 424.2h1.5v1.5h-1.5zM197.0 424.3h1.5v1.5h-1.5zM202.1 424.5h1.5v1.5h-1.5zM168.6 424.6h1.5v1.5h-1.5zM176.0 424.9h1.5v1.5h-1.5zM181.8 425.0h1.5v1.5h-1.5zM182.0 424.6h1.5v1.5h-1.5zM182.9 425.0h1.5v1.5h-1.5zM184.3 424.8h1.5v1.5h-1.5zM186.1 424.7h1.5v1.5h-1.5zM197.0 424.9h1.5v1.5h-1.5zM179.3 425.1h1.5v1.5h-1.5zM183.6 425.4h1.5v1.5h-1.5zM185.6 425.4h1.5v1.5h-1.5zM187.5 425.4h1.5v1.5h-1.5zM190.8 425.5h1.5v1.5h-1.5zM202.9 425.4h1.5v1.5h-1.5zM169.4 425.6h1.5v1.5h-1.5zM170.6 426.0h1.5v1.5h-1.5zM173.2 425.9h1.5v1.5h-1.5zM176.7 425.6h1.5v1.5h-1.5zM178.0 426.0h1.5v1.5h-1.5zM178.7 425.9h1.5v1.5h-1.5zM180.6 426.0h1.5v1.5h-1.5zM180.4 425.8h1.5v1.5h-1.5zM181.7 425.9h1.5v1.5h-1.5zM183.7 425.8h1.5v1.5h-1.5zM184.2 425.7h1.5v1.5h-1.5zM184.6 425.6h1.5v1.5h-1.5zM185.1 426.0h1.5v1.5h-1.5zM185.8 425.9h1.5v1.5h-1.5zM186.3 425.6h1.5v1.5h-1.5zM187.1 425.9h1.5v1.5h-1.5zM188.0 425.7h1.5v1.5h-1.5zM196.0 425.8h1.5v1.5h-1.5zM202.7 426.0h1.5v1.5h-1.5zM204.8 425.8h1.5v1.5h-1.5zM167.5 426.4h1.5v1.5h-1.5zM168.4 426.4h1.5v1.5h-1.5zM173.2 426.2h1.5v1.5h-1.5zM176.7 426.2h1.5v1.5h-1.5zM177.4 426.3h1.5v1.5h-1.5zM178.9 426.5h1.5v1.5h-1.5zM182.2 426.2h1.5v1.5h-1.5zM184.7 426.3h1.5v1.5h-1.5zM184.6 426.5h1.5v1.5h-1.5zM185.7 426.3h1.5v1.5h-1.5zM185.6 426.5h1.5v1.5h-1.5zM185.6 426.2h1.5v1.5h-1.5zM188.7 426.3h1.5v1.5h-1.5zM200.8 426.5h1.5v1.5h-1.5zM167.9 426.7h1.5v1.5h-1.5zM174.8 426.7h1.5v1.5h-1.5zM176.1 427.0h1.5v1.5h-1.5zM177.3 426.6h1.5v1.5h-1.5zM179.0 426.8h1.5v1.5h-1.5zM180.2 426.9h1.5v1.5h-1.5zM181.3 426.8h1.5v1.5h-1.5zM184.1 426.8h1.5v1.5h-1.5zM184.5 426.6h1.5v1.5h-1.5zM188.1 426.6h1.5v1.5h-1.5zM191.5 426.8h1.5v1.5h-1.5zM193.6 426.7h1.5v1.5h-1.5zM168.8 427.4h1.5v1.5h-1.5zM168.9 427.5h1.5v1.5h-1.5zM169.5 427.1h1.5v1.5h-1.5zM170.3 427.3h1.5v1.5h-1.5zM171.3 427.2h1.5v1.5h-1.5zM174.6 427.1h1.5v1.5h-1.5zM181.6 427.3h1.5v1.5h-1.5zM181.6 427.1h1.5v1.5h-1.5zM182.2 427.4h1.5v1.5h-1.5zM183.9 427.2h1.5v1.5h-1.5zM184.3 427.2h1.5v1.5h-1.5zM187.3 427.2h1.5v1.5h-1.5zM187.3 427.5h1.5v1.5h-1.5zM187.4 427.5h1.5v1.5h-1.5zM189.2 427.1h1.5v1.5h-1.5zM189.1 427.4h1.5v1.5h-1.5zM190.2 427.1h1.5v1.5h-1.5zM190.5 427.5h1.5v1.5h-1.5zM201.3 427.1h1.5v1.5h-1.5zM170.5 427.7h1.5v1.5h-1.5zM172.3 427.6h1.5v1.5h-1.5zM173.8 427.9h1.5v1.5h-1.5zM175.2 428.0h1.5v1.5h-1.5zM178.0 427.7h1.5v1.5h-1.5zM179.1 427.6h1.5v1.5h-1.5zM179.3 427.9h1.5v1.5h-1.5zM181.8 427.8h1.5v1.5h-1.5zM181.5 427.7h1.5v1.5h-1.5zM184.3 427.6h1.5v1.5h-1.5zM185.7 427.7h1.5v1.5h-1.5zM187.3 427.9h1.5v1.5h-1.5zM188.3 427.7h1.5v1.5h-1.5zM188.4 427.9h1.5v1.5h-1.5zM189.1 427.6h1.5v1.5h-1.5zM199.6 427.7h1.5v1.5h-1.5zM199.7 427.8h1.5v1.5h-1.5zM169.5 428.2h1.5v1.5h-1.5zM175.0 428.4h1.5v1.5h-1.5zM175.5 428.4h1.5v1.5h-1.5zM175.9 428.4h1.5v1.5h-1.5zM176.5 428.2h1.5v1.5h-1.5zM180.0 428.2h1.5v1.5h-1.5zM182.9 428.5h1.5v1.5h-1.5zM185.5 428.5h1.5v1.5h-1.5zM186.1 428.3h1.5v1.5h-1.5zM186.4 428.5h1.5v1.5h-1.5zM198.8 428.2h1.5v1.5h-1.5zM170.6 428.7h1.5v1.5h-1.5zM171.4 428.8h1.5v1.5h-1.5zM174.0 428.7h1.5v1.5h-1.5zM174.2 428.8h1.5v1.5h-1.5zM177.2 428.8h1.5v1.5h-1.5zM177.1 429.0h1.5v1.5h-1.5zM180.8 428.6h1.5v1.5h-1.5zM181.9 428.7h1.5v1.5h-1.5zM188.3 428.6h1.5v1.5h-1.5zM189.1 428.6h1.5v1.5h-1.5zM194.0 428.6h1.5v1.5h-1.5zM201.7 428.7h1.5v1.5h-1.5zM202.6 428.9h1.5v1.5h-1.5zM170.1 429.2h1.5v1.5h-1.5zM171.6 429.5h1.5v1.5h-1.5zM172.8 429.3h1.5v1.5h-1.5zM173.6 429.1h1.5v1.5h-1.5zM177.0 429.2h1.5v1.5h-1.5zM177.0 429.3h1.5v1.5h-1.5zM182.3 429.4h1.5v1.5h-1.5zM182.5 429.4h1.5v1.5h-1.5zM183.8 429.1h1.5v1.5h-1.5zM184.0 429.4h1.5v1.5h-1.5zM186.1 429.1h1.5v1.5h-1.5zM187.3 429.5h1.5v1.5h-1.5zM189.0 429.1h1.5v1.5h-1.5zM189.3 429.4h1.5v1.5h-1.5zM190.1 429.1h1.5v1.5h-1.5zM201.2 429.2h1.5v1.5h-1.5zM168.5 430.0h1.5v1.5h-1.5zM171.3 429.9h1.5v1.5h-1.5zM172.5 429.7h1.5v1.5h-1.5zM174.7 429.7h1.5v1.5h-1.5zM174.4 430.0h1.5v1.5h-1.5zM177.6 429.6h1.5v1.5h-1.5zM177.8 430.0h1.5v1.5h-1.5zM178.1 429.6h1.5v1.5h-1.5zM179.3 429.9h1.5v1.5h-1.5zM179.1 429.6h1.5v1.5h-1.5zM183.2 429.6h1.5v1.5h-1.5zM185.4 429.7h1.5v1.5h-1.5zM185.7 429.9h1.5v1.5h-1.5zM186.6 430.0h1.5v1.5h-1.5zM189.8 429.8h1.5v1.5h-1.5zM189.7 429.7h1.5v1.5h-1.5zM190.3 429.8h1.5v1.5h-1.5zM203.8 429.8h1.5v1.5h-1.5zM167.2 430.2h1.5v1.5h-1.5zM168.6 430.2h1.5v1.5h-1.5zM169.4 430.1h1.5v1.5h-1.5zM171.6 430.1h1.5v1.5h-1.5zM173.4 430.1h1.5v1.5h-1.5zM173.9 430.4h1.5v1.5h-1.5zM177.8 430.4h1.5v1.5h-1.5zM179.1 430.3h1.5v1.5h-1.5zM181.1 430.1h1.5v1.5h-1.5zM181.6 430.4h1.5v1.5h-1.5zM181.7 430.4h1.5v1.5h-1.5zM182.1 430.3h1.5v1.5h-1.5zM182.9 430.1h1.5v1.5h-1.5zM186.1 430.2h1.5v1.5h-1.5zM186.5 430.1h1.5v1.5h-1.5zM187.6 430.5h1.5v1.5h-1.5zM188.0 430.2h1.5v1.5h-1.5zM189.0 430.1h1.5v1.5h-1.5zM190.0 430.2h1.5v1.5h-1.5zM190.8 430.1h1.5v1.5h-1.5zM190.8 430.5h1.5v1.5h-1.5zM190.5 430.3h1.5v1.5h-1.5zM201.7 430.5h1.5v1.5h-1.5zM167.2 430.8h1.5v1.5h-1.5zM168.5 430.8h1.5v1.5h-1.5zM168.8 431.0h1.5v1.5h-1.5zM170.2 430.6h1.5v1.5h-1.5zM170.9 431.0h1.5v1.5h-1.5zM177.6 430.9h1.5v1.5h-1.5zM179.0 430.8h1.5v1.5h-1.5zM181.6 431.0h1.5v1.5h-1.5zM185.7 430.8h1.5v1.5h-1.5zM185.7 431.0h1.5v1.5h-1.5zM185.7 431.0h1.5v1.5h-1.5zM189.5 430.8h1.5v1.5h-1.5zM200.8 430.6h1.5v1.5h-1.5zM169.4 431.3h1.5v1.5h-1.5zM171.3 431.1h1.5v1.5h-1.5zM173.2 431.1h1.5v1.5h-1.5zM173.9 431.5h1.5v1.5h-1.5zM176.2 431.5h1.5v1.5h-1.5zM177.1 431.1h1.5v1.5h-1.5zM182.0 431.3h1.5v1.5h-1.5zM182.8 431.2h1.5v1.5h-1.5zM186.3 431.4h1.5v1.5h-1.5zM187.4 431.1h1.5v1.5h-1.5zM190.2 431.2h1.5v1.5h-1.5zM189.9 431.1h1.5v1.5h-1.5zM190.9 431.1h1.5v1.5h-1.5zM191.0 431.5h1.5v1.5h-1.5zM196.9 431.1h1.5v1.5h-1.5zM201.9 431.2h1.5v1.5h-1.5zM169.8 431.9h1.5v1.5h-1.5zM172.0 431.7h1.5v1.5h-1.5zM172.4 431.6h1.5v1.5h-1.5zM175.5 432.0h1.5v1.5h-1.5zM175.7 432.0h1.5v1.5h-1.5zM178.1 431.9h1.5v1.5h-1.5zM178.5 432.0h1.5v1.5h-1.5zM179.9 431.9h1.5v1.5h-1.5zM179.9 432.0h1.5v1.5h-1.5zM181.0 432.0h1.5v1.5h-1.5zM183.0 431.7h1.5v1.5h-1.5zM184.7 431.7h1.5v1.5h-1.5zM185.8 431.8h1.5v1.5h-1.5zM186.0 431.6h1.5v1.5h-1.5zM187.5 431.9h1.5v1.5h-1.5zM195.9 432.0h1.5v1.5h-1.5zM197.1 432.0h1.5v1.5h-1.5zM201.6 431.8h1.5v1.5h-1.5zM172.1 432.2h1.5v1.5h-1.5zM173.6 432.3h1.5v1.5h-1.5zM174.2 432.1h1.5v1.5h-1.5zM175.8 432.1h1.5v1.5h-1.5zM176.4 432.5h1.5v1.5h-1.5zM178.7 432.5h1.5v1.5h-1.5zM178.6 432.3h1.5v1.5h-1.5zM180.0 432.2h1.5v1.5h-1.5zM180.7 432.2h1.5v1.5h-1.5zM182.2 432.2h1.5v1.5h-1.5zM187.3 432.2h1.5v1.5h-1.5zM189.0 432.2h1.5v1.5h-1.5zM190.4 432.4h1.5v1.5h-1.5zM191.0 432.1h1.5v1.5h-1.5zM196.8 432.4h1.5v1.5h-1.5zM197.3 432.5h1.5v1.5h-1.5zM174.2 432.9h1.5v1.5h-1.5zM175.2 432.6h1.5v1.5h-1.5zM179.7 433.0h1.5v1.5h-1.5zM180.2 432.6h1.5v1.5h-1.5zM179.9 432.8h1.5v1.5h-1.5zM180.0 432.6h1.5v1.5h-1.5zM182.8 432.9h1.5v1.5h-1.5zM184.3 432.9h1.5v1.5h-1.5zM187.2 432.8h1.5v1.5h-1.5zM187.4 432.6h1.5v1.5h-1.5zM188.1 432.7h1.5v1.5h-1.5zM189.3 432.9h1.5v1.5h-1.5zM201.4 432.6h1.5v1.5h-1.5zM205.5 432.7h1.5v1.5h-1.5zM206.5 432.8h1.5v1.5h-1.5zM170.5 433.5h1.5v1.5h-1.5zM173.3 433.3h1.5v1.5h-1.5zM174.2 433.5h1.5v1.5h-1.5zM174.8 433.1h1.5v1.5h-1.5zM175.4 433.1h1.5v1.5h-1.5zM176.1 433.5h1.5v1.5h-1.5zM176.8 433.4h1.5v1.5h-1.5zM176.6 433.3h1.5v1.5h-1.5zM177.5 433.1h1.5v1.5h-1.5zM179.0 433.4h1.5v1.5h-1.5zM180.8 433.1h1.5v1.5h-1.5zM180.9 433.3h1.5v1.5h-1.5zM181.1 433.3h1.5v1.5h-1.5zM182.9 433.4h1.5v1.5h-1.5zM184.2 433.2h1.5v1.5h-1.5zM189.3 433.1h1.5v1.5h-1.5zM194.3 433.4h1.5v1.5h-1.5zM197.1 433.4h1.5v1.5h-1.5zM197.6 433.2h1.5v1.5h-1.5zM201.9 433.2h1.5v1.5h-1.5zM168.0 433.9h1.5v1.5h-1.5zM168.3 433.9h1.5v1.5h-1.5zM169.5 433.7h1.5v1.5h-1.5zM170.2 433.8h1.5v1.5h-1.5zM169.9 434.0h1.5v1.5h-1.5zM173.9 433.7h1.5v1.5h-1.5zM176.5 433.8h1.5v1.5h-1.5zM178.5 433.8h1.5v1.5h-1.5zM181.2 433.9h1.5v1.5h-1.5zM181.1 433.7h1.5v1.5h-1.5zM181.3 433.7h1.5v1.5h-1.5zM182.6 434.0h1.5v1.5h-1.5zM184.1 433.6h1.5v1.5h-1.5zM185.9 433.8h1.5v1.5h-1.5zM195.3 434.0h1.5v1.5h-1.5zM168.3 434.4h1.5v1.5h-1.5zM168.9 434.4h1.5v1.5h-1.5zM172.3 434.1h1.5v1.5h-1.5zM172.3 434.3h1.5v1.5h-1.5zM173.4 434.2h1.5v1.5h-1.5zM183.1 434.4h1.5v1.5h-1.5zM183.7 434.1h1.5v1.5h-1.5zM185.4 434.5h1.5v1.5h-1.5zM193.4 434.4h1.5v1.5h-1.5zM194.3 434.3h1.5v1.5h-1.5zM201.7 434.1h1.5v1.5h-1.5zM167.9 434.6h1.5v1.5h-1.5zM168.8 434.8h1.5v1.5h-1.5zM169.8 434.7h1.5v1.5h-1.5zM172.6 434.7h1.5v1.5h-1.5zM175.8 434.7h1.5v1.5h-1.5zM176.7 435.0h1.5v1.5h-1.5zM180.8 434.8h1.5v1.5h-1.5zM181.6 435.0h1.5v1.5h-1.5zM183.3 434.8h1.5v1.5h-1.5zM183.8 435.0h1.5v1.5h-1.5zM191.1 434.8h1.5v1.5h-1.5zM192.2 434.7h1.5v1.5h-1.5zM192.1 434.7h1.5v1.5h-1.5zM194.7 434.9h1.5v1.5h-1.5zM199.1 434.9h1.5v1.5h-1.5zM200.4 434.6h1.5v1.5h-1.5zM168.6 435.1h1.5v1.5h-1.5zM168.9 435.5h1.5v1.5h-1.5zM170.7 435.1h1.5v1.5h-1.5zM172.3 435.3h1.5v1.5h-1.5zM174.7 435.2h1.5v1.5h-1.5zM179.2 435.5h1.5v1.5h-1.5zM184.2 435.2h1.5v1.5h-1.5zM186.0 435.4h1.5v1.5h-1.5zM187.6 435.4h1.5v1.5h-1.5zM188.9 435.5h1.5v1.5h-1.5zM189.5 435.1h1.5v1.5h-1.5zM192.0 435.3h1.5v1.5h-1.5zM195.7 435.3h1.5v1.5h-1.5zM167.5 436.0h1.5v1.5h-1.5zM167.5 435.9h1.5v1.5h-1.5zM167.4 435.8h1.5v1.5h-1.5zM173.9 435.6h1.5v1.5h-1.5zM180.7 436.0h1.5v1.5h-1.5zM185.1 435.8h1.5v1.5h-1.5zM186.5 435.8h1.5v1.5h-1.5zM188.6 435.6h1.5v1.5h-1.5zM190.2 435.6h1.5v1.5h-1.5zM190.4 435.8h1.5v1.5h-1.5zM190.9 435.9h1.5v1.5h-1.5zM197.5 435.7h1.5v1.5h-1.5zM170.6 436.5h1.5v1.5h-1.5zM170.5 436.5h1.5v1.5h-1.5zM171.9 436.2h1.5v1.5h-1.5zM172.5 436.2h1.5v1.5h-1.5zM175.3 436.1h1.5v1.5h-1.5zM182.6 436.1h1.5v1.5h-1.5zM183.5 436.2h1.5v1.5h-1.5zM184.6 436.2h1.5v1.5h-1.5zM195.1 436.5h1.5v1.5h-1.5zM199.2 436.1h1.5v1.5h-1.5zM169.1 436.8h1.5v1.5h-1.5zM169.6 437.0h1.5v1.5h-1.5zM172.2 436.9h1.5v1.5h-1.5zM177.3 436.7h1.5v1.5h-1.5zM179.0 436.8h1.5v1.5h-1.5zM184.4 436.8h1.5v1.5h-1.5zM186.3 437.0h1.5v1.5h-1.5zM187.5 436.7h1.5v1.5h-1.5zM188.9 436.9h1.5v1.5h-1.5zM189.2 436.9h1.5v1.5h-1.5zM189.0 436.8h1.5v1.5h-1.5zM189.9 436.9h1.5v1.5h-1.5zM167.4 437.4h1.5v1.5h-1.5zM170.6 437.3h1.5v1.5h-1.5zM171.4 437.1h1.5v1.5h-1.5zM173.8 437.4h1.5v1.5h-1.5zM179.9 437.5h1.5v1.5h-1.5zM182.0 437.3h1.5v1.5h-1.5zM182.3 437.2h1.5v1.5h-1.5zM184.8 437.4h1.5v1.5h-1.5zM185.3 437.1h1.5v1.5h-1.5zM184.9 437.2h1.5v1.5h-1.5zM186.6 437.1h1.5v1.5h-1.5zM190.0 437.5h1.5v1.5h-1.5zM167.5 437.9h1.5v1.5h-1.5zM170.1 437.9h1.5v1.5h-1.5zM169.9 438.0h1.5v1.5h-1.5zM171.7 437.9h1.5v1.5h-1.5zM172.6 438.0h1.5v1.5h-1.5zM173.8 438.0h1.5v1.5h-1.5zM174.2 437.9h1.5v1.5h-1.5zM175.8 437.8h1.5v1.5h-1.5zM177.3 438.0h1.5v1.5h-1.5zM177.0 437.8h1.5v1.5h-1.5zM178.4 438.0h1.5v1.5h-1.5zM180.1 437.6h1.5v1.5h-1.5zM180.2 437.7h1.5v1.5h-1.5zM180.8 437.7h1.5v1.5h-1.5zM181.6 437.7h1.5v1.5h-1.5zM181.8 437.7h1.5v1.5h-1.5zM182.9 438.0h1.5v1.5h-1.5zM184.8 437.7h1.5v1.5h-1.5zM184.4 437.7h1.5v1.5h-1.5zM189.4 438.0h1.5v1.5h-1.5zM192.5 437.7h1.5v1.5h-1.5zM201.3 437.6h1.5v1.5h-1.5zM167.3 438.4h1.5v1.5h-1.5zM171.1 438.3h1.5v1.5h-1.5zM179.4 438.5h1.5v1.5h-1.5zM180.2 438.3h1.5v1.5h-1.5zM185.9 438.5h1.5v1.5h-1.5zM189.6 438.3h1.5v1.5h-1.5zM190.2 438.4h1.5v1.5h-1.5zM167.9 438.8h1.5v1.5h-1.5zM168.0 438.9h1.5v1.5h-1.5zM169.0 438.6h1.5v1.5h-1.5zM170.5 439.0h1.5v1.5h-1.5zM170.4 438.6h1.5v1.5h-1.5zM171.0 438.6h1.5v1.5h-1.5zM175.6 438.8h1.5v1.5h-1.5zM178.6 438.8h1.5v1.5h-1.5zM178.7 439.0h1.5v1.5h-1.5zM179.2 438.9h1.5v1.5h-1.5zM179.8 438.8h1.5v1.5h-1.5zM184.5 438.7h1.5v1.5h-1.5zM184.4 439.0h1.5v1.5h-1.5zM186.2 438.9h1.5v1.5h-1.5zM186.9 438.8h1.5v1.5h-1.5zM187.5 438.6h1.5v1.5h-1.5zM168.4 439.5h1.5v1.5h-1.5zM169.5 439.2h1.5v1.5h-1.5zM170.2 439.1h1.5v1.5h-1.5zM170.2 439.3h1.5v1.5h-1.5zM171.4 439.1h1.5v1.5h-1.5zM172.1 439.3h1.5v1.5h-1.5zM173.6 439.4h1.5v1.5h-1.5zM175.7 439.3h1.5v1.5h-1.5zM176.0 439.1h1.5v1.5h-1.5zM177.3 439.4h1.5v1.5h-1.5zM177.1 439.4h1.5v1.5h-1.5zM180.1 439.1h1.5v1.5h-1.5zM184.4 439.1h1.5v1.5h-1.5zM185.7 439.4h1.5v1.5h-1.5zM185.6 439.4h1.5v1.5h-1.5zM186.9 439.4h1.5v1.5h-1.5zM188.6 439.3h1.5v1.5h-1.5zM190.3 439.4h1.5v1.5h-1.5zM104.5 465.4h1.5v1.5h-1.5zM102.5 466.1h1.5v1.5h-1.5zM100.5 466.6h1.5v1.5h-1.5zM101.8 466.5h1.5v1.5h-1.5zM105.9 466.4h1.5v1.5h-1.5zM101.6 467.2h1.5v1.5h-1.5zM107.0 467.0h1.5v1.5h-1.5zM99.8 467.5h1.5v1.5h-1.5zM101.4 467.7h1.5v1.5h-1.5zM102.1 467.5h1.5v1.5h-1.5zM102.9 467.4h1.5v1.5h-1.5zM104.6 467.8h1.5v1.5h-1.5zM106.1 467.5h1.5v1.5h-1.5zM99.9 468.0h1.5v1.5h-1.5zM103.1 468.2h1.5v1.5h-1.5zM103.9 468.0h1.5v1.5h-1.5zM106.2 468.2h1.5v1.5h-1.5zM99.2 468.7h1.5v1.5h-1.5zM100.7 468.8h1.5v1.5h-1.5zM100.9 468.4h1.5v1.5h-1.5zM102.4 468.7h1.5v1.5h-1.5zM98.4 469.3h1.5v1.5h-1.5zM99.4 469.1h1.5v1.5h-1.5zM107.0 469.1h1.5v1.5h-1.5zM98.7 469.6h1.5v1.5h-1.5zM103.6 469.8h1.5v1.5h-1.5zM103.8 469.6h1.5v1.5h-1.5zM104.4 469.8h1.5v1.5h-1.5zM107.6 469.4h1.5v1.5h-1.5zM107.9 469.7h1.5v1.5h-1.5zM96.7 470.1h1.5v1.5h-1.5zM98.4 470.2h1.5v1.5h-1.5zM102.4 469.9h1.5v1.5h-1.5zM104.3 470.0h1.5v1.5h-1.5zM95.2 470.6h1.5v1.5h-1.5zM95.4 470.8h1.5v1.5h-1.5zM99.9 470.6h1.5v1.5h-1.5zM100.2 470.4h1.5v1.5h-1.5zM103.1 470.6h1.5v1.5h-1.5zM106.3 470.8h1.5v1.5h-1.5zM97.8 471.1h1.5v1.5h-1.5zM98.1 471.3h1.5v1.5h-1.5zM98.8 471.0h1.5v1.5h-1.5zM101.8 471.0h1.5v1.5h-1.5zM103.3 471.1h1.5v1.5h-1.5zM104.0 471.1h1.5v1.5h-1.5zM95.1 471.5h1.5v1.5h-1.5zM95.5 471.7h1.5v1.5h-1.5zM101.4 471.6h1.5v1.5h-1.5zM108.2 471.6h1.5v1.5h-1.5zM94.9 472.3h1.5v1.5h-1.5zM96.6 472.0h1.5v1.5h-1.5zM97.5 472.2h1.5v1.5h-1.5zM99.6 472.2h1.5v1.5h-1.5zM95.6 472.7h1.5v1.5h-1.5zM100.5 472.4h1.5v1.5h-1.5zM100.5 472.8h1.5v1.5h-1.5zM101.5 472.8h1.5v1.5h-1.5zM98.3 473.2h1.5v1.5h-1.5zM98.0 472.9h1.5v1.5h-1.5zM99.2 473.2h1.5v1.5h-1.5zM104.4 473.0h1.5v1.5h-1.5zM98.8 473.7h1.5v1.5h-1.5zM94.3 474.3h1.5v1.5h-1.5zM95.6 474.3h1.5v1.5h-1.5zM98.7 474.2h1.5v1.5h-1.5zM99.1 474.0h1.5v1.5h-1.5zM99.9 474.0h1.5v1.5h-1.5zM102.2 473.9h1.5v1.5h-1.5zM105.1 473.9h1.5v1.5h-1.5zM99.8 474.5h1.5v1.5h-1.5zM99.9 474.8h1.5v1.5h-1.5zM102.8 474.4h1.5v1.5h-1.5zM107.0 474.4h1.5v1.5h-1.5zM98.7 475.2h1.5v1.5h-1.5zM98.8 475.1h1.5v1.5h-1.5zM100.2 474.9h1.5v1.5h-1.5zM101.1 475.0h1.5v1.5h-1.5zM95.4 475.5h1.5v1.5h-1.5zM98.0 475.5h1.5v1.5h-1.5zM106.3 475.4h1.5v1.5h-1.5zM104.4 476.3h1.5v1.5h-1.5zM99.8 476.8h1.5v1.5h-1.5zM104.4 476.6h1.5v1.5h-1.5zM97.6 477.0h1.5v1.5h-1.5zM98.4 477.3h1.5v1.5h-1.5zM104.4 477.2h1.5v1.5h-1.5zM104.4 476.9h1.5v1.5h-1.5zM104.4 477.0h1.5v1.5h-1.5zM105.6 477.0h1.5v1.5h-1.5zM100.2 477.4h1.5v1.5h-1.5zM98.9 478.1h1.5v1.5h-1.5zM101.8 478.3h1.5v1.5h-1.5zM102.5 478.3h1.5v1.5h-1.5zM103.3 478.8h1.5v1.5h-1.5zM98.6 479.1h1.5v1.5h-1.5zM98.9 479.1h1.5v1.5h-1.5zM104.9 479.3h1.5v1.5h-1.5zM99.1 479.6h1.5v1.5h-1.5zM104.5 480.3h1.5v1.5h-1.5zM105.0 480.3h1.5v1.5h-1.5zM103.1 480.8h1.5v1.5h-1.5zM101.1 481.2h1.5v1.5h-1.5zM96.7 481.6h1.5v1.5h-1.5zM97.1 481.7h1.5v1.5h-1.5zM96.3 482.1h1.5v1.5h-1.5zM96.9 482.0h1.5v1.5h-1.5zM98.7 482.1h1.5v1.5h-1.5zM97.6 482.7h1.5v1.5h-1.5zM101.1 482.6h1.5v1.5h-1.5zM98.9 483.1h1.5v1.5h-1.5zM102.1 483.3h1.5v1.5h-1.5zM98.9 483.7h1.5v1.5h-1.5zM101.9 483.7h1.5v1.5h-1.5zM106.7 483.7h1.5v1.5h-1.5zM99.0 484.1h1.5v1.5h-1.5zM99.6 484.2h1.5v1.5h-1.5zM100.1 484.0h1.5v1.5h-1.5zM102.7 484.2h1.5v1.5h-1.5zM100.1 484.7h1.5v1.5h-1.5zM102.6 484.7h1.5v1.5h-1.5zM97.8 485.8h1.5v1.5h-1.5zM106.3 485.5h1.5v1.5h-1.5zM97.4 485.9h1.5v1.5h-1.5zM103.7 486.3h1.5v1.5h-1.5zM105.2 486.1h1.5v1.5h-1.5zM101.6 486.5h1.5v1.5h-1.5zM101.9 486.8h1.5v1.5h-1.5zM104.3 486.7h1.5v1.5h-1.5zM96.1 487.0h1.5v1.5h-1.5zM100.0 487.0h1.5v1.5h-1.5zM102.7 487.3h1.5v1.5h-1.5zM101.3 487.8h1.5v1.5h-1.5zM104.5 487.7h1.5v1.5h-1.5zM105.1 487.4h1.5v1.5h-1.5zM97.9 487.9h1.5v1.5h-1.5zM98.2 488.3h1.5v1.5h-1.5zM102.5 488.6h1.5v1.5h-1.5zM102.7 489.0h1.5v1.5h-1.5zM96.6 489.8h1.5v1.5h-1.5zM99.2 489.7h1.5v1.5h-1.5zM101.7 490.1h1.5v1.5h-1.5zM102.9 490.1h1.5v1.5h-1.5zM96.7 490.7h1.5v1.5h-1.5zM100.9 490.4h1.5v1.5h-1.5zM104.6 490.4h1.5v1.5h-1.5zM101.9 491.2h1.5v1.5h-1.5zM94.5 491.8h1.5v1.5h-1.5zM101.6 491.8h1.5v1.5h-1.5zM102.2 491.7h1.5v1.5h-1.5zM101.9 491.8h1.5v1.5h-1.5zM103.2 491.7h1.5v1.5h-1.5zM103.8 491.6h1.5v1.5h-1.5zM100.5 492.1h1.5v1.5h-1.5zM103.3 491.9h1.5v1.5h-1.5zM94.5 492.4h1.5v1.5h-1.5zM101.3 492.4h1.5v1.5h-1.5zM102.1 492.7h1.5v1.5h-1.5zM104.0 492.8h1.5v1.5h-1.5zM104.9 492.6h1.5v1.5h-1.5zM97.4 493.3h1.5v1.5h-1.5zM99.3 492.9h1.5v1.5h-1.5zM95.0 493.5h1.5v1.5h-1.5zM99.6 493.4h1.5v1.5h-1.5zM105.6 493.4h1.5v1.5h-1.5zM101.7 494.3h1.5v1.5h-1.5zM103.0 493.9h1.5v1.5h-1.5zM96.7 494.7h1.5v1.5h-1.5zM98.2 494.4h1.5v1.5h-1.5zM98.7 494.8h1.5v1.5h-1.5zM102.5 494.5h1.5v1.5h-1.5zM103.1 494.7h1.5v1.5h-1.5zM105.7 494.6h1.5v1.5h-1.5zM94.4 494.9h1.5v1.5h-1.5zM100.1 495.3h1.5v1.5h-1.5zM100.7 495.2h1.5v1.5h-1.5zM96.1 495.6h1.5v1.5h-1.5zM96.1 495.6h1.5v1.5h-1.5zM103.9 495.8h1.5v1.5h-1.5zM99.0 496.2h1.5v1.5h-1.5zM101.3 496.3h1.5v1.5h-1.5zM98.2 496.8h1.5v1.5h-1.5zM99.3 496.8h1.5v1.5h-1.5zM99.7 496.6h1.5v1.5h-1.5zM103.6 497.0h1.5v1.5h-1.5zM104.1 497.0h1.5v1.5h-1.5zM105.1 496.9h1.5v1.5h-1.5zM96.9 497.6h1.5v1.5h-1.5zM99.1 497.7h1.5v1.5h-1.5zM97.2 497.9h1.5v1.5h-1.5zM99.6 498.3h1.5v1.5h-1.5zM100.3 498.2h1.5v1.5h-1.5zM101.4 498.1h1.5v1.5h-1.5zM95.0 498.4h1.5v1.5h-1.5zM98.0 498.7h1.5v1.5h-1.5zM96.7 499.2h1.5v1.5h-1.5zM101.9 499.2h1.5v1.5h-1.5zM101.9 498.9h1.5v1.5h-1.5zM97.7 499.7h1.5v1.5h-1.5zM102.3 499.6h1.5v1.5h-1.5zM103.2 499.6h1.5v1.5h-1.5zM97.1 500.0h1.5v1.5h-1.5zM97.8 500.1h1.5v1.5h-1.5zM95.9 500.7h1.5v1.5h-1.5zM96.5 501.2h1.5v1.5h-1.5zM94.4 501.6h1.5v1.5h-1.5zM98.5 501.4h1.5v1.5h-1.5zM99.3 501.8h1.5v1.5h-1.5zM97.3 502.2h1.5v1.5h-1.5zM97.6 502.2h1.5v1.5h-1.5zM102.1 502.0h1.5v1.5h-1.5zM94.1 502.7h1.5v1.5h-1.5zM97.5 502.5h1.5v1.5h-1.5zM97.8 502.5h1.5v1.5h-1.5zM100.5 502.7h1.5v1.5h-1.5zM98.7 503.3h1.5v1.5h-1.5zM99.5 503.1h1.5v1.5h-1.5zM98.9 503.4h1.5v1.5h-1.5zM98.6 504.2h1.5v1.5h-1.5zM94.5 504.8h1.5v1.5h-1.5zM96.9 504.4h1.5v1.5h-1.5zM97.7 504.8h1.5v1.5h-1.5zM92.0 505.3h1.5v1.5h-1.5zM97.1 505.1h1.5v1.5h-1.5zM96.7 505.4h1.5v1.5h-1.5zM92.0 506.1h1.5v1.5h-1.5zM92.8 506.2h1.5v1.5h-1.5zM97.3 506.1h1.5v1.5h-1.5zM97.3 506.7h1.5v1.5h-1.5zM96.2 507.1h1.5v1.5h-1.5zM93.4 508.8h1.5v1.5h-1.5zM93.9 509.0h1.5v1.5h-1.5zM45.8 511.2h1.5v1.5h-1.5zM48.8 511.6h1.5v1.5h-1.5zM56.6 511.5h1.5v1.5h-1.5zM43.2 511.9h1.5v1.5h-1.5zM44.4 512.0h1.5v1.5h-1.5zM53.5 512.2h1.5v1.5h-1.5zM42.6 512.5h1.5v1.5h-1.5zM46.7 512.7h1.5v1.5h-1.5zM47.0 512.7h1.5v1.5h-1.5zM47.2 512.5h1.5v1.5h-1.5zM47.9 512.4h1.5v1.5h-1.5zM49.5 512.7h1.5v1.5h-1.5zM49.8 512.7h1.5v1.5h-1.5zM51.4 512.5h1.5v1.5h-1.5zM53.1 512.6h1.5v1.5h-1.5zM39.7 512.9h1.5v1.5h-1.5zM43.4 513.0h1.5v1.5h-1.5zM46.4 513.3h1.5v1.5h-1.5zM47.5 512.9h1.5v1.5h-1.5zM47.8 513.3h1.5v1.5h-1.5zM49.2 513.3h1.5v1.5h-1.5zM52.9 513.2h1.5v1.5h-1.5zM54.0 513.2h1.5v1.5h-1.5zM54.6 513.2h1.5v1.5h-1.5zM56.7 513.0h1.5v1.5h-1.5zM57.3 512.9h1.5v1.5h-1.5zM57.5 513.3h1.5v1.5h-1.5zM62.6 513.3h1.5v1.5h-1.5zM42.0 513.8h1.5v1.5h-1.5zM42.7 513.7h1.5v1.5h-1.5zM42.7 513.5h1.5v1.5h-1.5zM44.3 513.4h1.5v1.5h-1.5zM45.2 513.7h1.5v1.5h-1.5zM45.5 513.6h1.5v1.5h-1.5zM46.2 513.7h1.5v1.5h-1.5zM46.8 513.6h1.5v1.5h-1.5zM47.4 513.6h1.5v1.5h-1.5zM50.8 513.7h1.5v1.5h-1.5zM52.0 513.4h1.5v1.5h-1.5zM55.8 513.4h1.5v1.5h-1.5zM41.7 514.0h1.5v1.5h-1.5zM41.9 514.2h1.5v1.5h-1.5zM41.9 514.1h1.5v1.5h-1.5zM43.7 514.0h1.5v1.5h-1.5zM43.8 514.1h1.5v1.5h-1.5zM45.2 514.2h1.5v1.5h-1.5zM46.0 514.2h1.5v1.5h-1.5zM47.4 514.3h1.5v1.5h-1.5zM47.7 514.1h1.5v1.5h-1.5zM54.2 514.0h1.5v1.5h-1.5zM39.7 514.5h1.5v1.5h-1.5zM41.6 514.8h1.5v1.5h-1.5zM42.1 514.7h1.5v1.5h-1.5zM43.0 514.5h1.5v1.5h-1.5zM47.0 514.7h1.5v1.5h-1.5zM50.6 514.4h1.5v1.5h-1.5zM51.1 514.8h1.5v1.5h-1.5zM51.5 514.6h1.5v1.5h-1.5zM53.0 514.4h1.5v1.5h-1.5zM53.4 514.5h1.5v1.5h-1.5zM53.5 514.6h1.5v1.5h-1.5zM54.2 514.7h1.5v1.5h-1.5zM56.8 514.8h1.5v1.5h-1.5zM65.7 514.4h1.5v1.5h-1.5zM40.2 515.0h1.5v1.5h-1.5zM40.4 515.1h1.5v1.5h-1.5zM43.3 515.0h1.5v1.5h-1.5zM44.3 514.9h1.5v1.5h-1.5zM45.1 515.0h1.5v1.5h-1.5zM45.9 514.9h1.5v1.5h-1.5zM47.4 515.3h1.5v1.5h-1.5zM48.7 514.9h1.5v1.5h-1.5zM51.6 515.0h1.5v1.5h-1.5zM52.1 514.9h1.5v1.5h-1.5zM52.6 515.3h1.5v1.5h-1.5zM55.1 514.9h1.5v1.5h-1.5zM55.2 515.3h1.5v1.5h-1.5zM56.6 515.2h1.5v1.5h-1.5zM56.5 515.1h1.5v1.5h-1.5zM58.2 515.0h1.5v1.5h-1.5zM39.0 515.6h1.5v1.5h-1.5zM39.5 515.7h1.5v1.5h-1.5zM40.7 515.8h1.5v1.5h-1.5zM46.0 515.8h1.5v1.5h-1.5zM46.4 515.7h1.5v1.5h-1.5zM48.0 515.5h1.5v1.5h-1.5zM48.8 515.4h1.5v1.5h-1.5zM49.7 515.7h1.5v1.5h-1.5zM52.1 515.8h1.5v1.5h-1.5zM66.2 515.5h1.5v1.5h-1.5zM38.8 516.1h1.5v1.5h-1.5zM39.3 516.0h1.5v1.5h-1.5zM39.4 516.3h1.5v1.5h-1.5zM42.3 516.3h1.5v1.5h-1.5zM42.3 516.0h1.5v1.5h-1.5zM43.4 516.3h1.5v1.5h-1.5zM50.1 516.1h1.5v1.5h-1.5zM52.0 516.3h1.5v1.5h-1.5zM53.1 516.1h1.5v1.5h-1.5zM57.8 515.9h1.5v1.5h-1.5zM40.2 516.7h1.5v1.5h-1.5zM39.9 516.4h1.5v1.5h-1.5zM41.7 516.7h1.5v1.5h-1.5zM42.8 516.4h1.5v1.5h-1.5zM43.0 516.4h1.5v1.5h-1.5zM45.4 516.4h1.5v1.5h-1.5zM50.9 516.4h1.5v1.5h-1.5zM53.1 516.5h1.5v1.5h-1.5zM53.8 516.6h1.5v1.5h-1.5zM55.9 516.4h1.5v1.5h-1.5zM56.6 516.8h1.5v1.5h-1.5zM39.0 516.9h1.5v1.5h-1.5zM39.5 516.9h1.5v1.5h-1.5zM40.8 517.0h1.5v1.5h-1.5zM40.9 516.9h1.5v1.5h-1.5zM40.9 517.3h1.5v1.5h-1.5zM42.3 517.3h1.5v1.5h-1.5zM43.0 516.9h1.5v1.5h-1.5zM46.5 516.9h1.5v1.5h-1.5zM48.6 517.3h1.5v1.5h-1.5zM49.2 517.1h1.5v1.5h-1.5zM51.9 516.9h1.5v1.5h-1.5zM56.4 517.2h1.5v1.5h-1.5zM58.2 516.9h1.5v1.5h-1.5zM61.3 517.3h1.5v1.5h-1.5zM39.0 517.8h1.5v1.5h-1.5zM42.9 517.4h1.5v1.5h-1.5zM43.7 517.5h1.5v1.5h-1.5zM46.6 517.5h1.5v1.5h-1.5zM48.0 517.6h1.5v1.5h-1.5zM48.2 517.6h1.5v1.5h-1.5zM48.7 517.7h1.5v1.5h-1.5zM48.5 517.4h1.5v1.5h-1.5zM49.6 517.7h1.5v1.5h-1.5zM50.7 517.4h1.5v1.5h-1.5zM53.1 517.7h1.5v1.5h-1.5zM56.3 517.6h1.5v1.5h-1.5zM57.0 517.5h1.5v1.5h-1.5zM57.5 517.6h1.5v1.5h-1.5zM40.0 518.1h1.5v1.5h-1.5zM40.2 518.2h1.5v1.5h-1.5zM43.3 518.2h1.5v1.5h-1.5zM43.3 518.3h1.5v1.5h-1.5zM44.7 518.2h1.5v1.5h-1.5zM44.4 517.9h1.5v1.5h-1.5zM45.4 518.1h1.5v1.5h-1.5zM48.6 518.2h1.5v1.5h-1.5zM49.2 518.0h1.5v1.5h-1.5zM49.7 518.3h1.5v1.5h-1.5zM51.3 518.0h1.5v1.5h-1.5zM52.2 518.1h1.5v1.5h-1.5zM52.8 518.0h1.5v1.5h-1.5zM53.5 517.9h1.5v1.5h-1.5zM54.3 518.1h1.5v1.5h-1.5zM54.9 518.2h1.5v1.5h-1.5zM55.9 517.9h1.5v1.5h-1.5zM38.7 518.4h1.5v1.5h-1.5zM40.5 518.4h1.5v1.5h-1.5zM40.9 518.4h1.5v1.5h-1.5zM41.7 518.6h1.5v1.5h-1.5zM42.4 518.6h1.5v1.5h-1.5zM43.7 518.5h1.5v1.5h-1.5zM44.0 518.7h1.5v1.5h-1.5zM46.6 518.4h1.5v1.5h-1.5zM46.4 518.5h1.5v1.5h-1.5zM47.9 518.8h1.5v1.5h-1.5zM49.8 518.7h1.5v1.5h-1.5zM49.7 518.4h1.5v1.5h-1.5zM50.0 518.8h1.5v1.5h-1.5zM51.5 518.4h1.5v1.5h-1.5zM52.1 518.5h1.5v1.5h-1.5zM54.3 518.7h1.5v1.5h-1.5zM53.9 518.6h1.5v1.5h-1.5zM55.0 518.5h1.5v1.5h-1.5zM56.3 518.4h1.5v1.5h-1.5zM40.3 519.0h1.5v1.5h-1.5zM40.0 519.2h1.5v1.5h-1.5zM42.8 519.3h1.5v1.5h-1.5zM44.3 519.3h1.5v1.5h-1.5zM47.4 519.2h1.5v1.5h-1.5zM47.6 519.2h1.5v1.5h-1.5zM49.5 519.2h1.5v1.5h-1.5zM51.3 519.0h1.5v1.5h-1.5zM53.8 519.0h1.5v1.5h-1.5zM56.4 518.9h1.5v1.5h-1.5zM42.0 519.8h1.5v1.5h-1.5zM44.0 519.5h1.5v1.5h-1.5zM44.0 519.6h1.5v1.5h-1.5zM44.7 519.6h1.5v1.5h-1.5zM45.6 519.8h1.5v1.5h-1.5zM46.6 519.5h1.5v1.5h-1.5zM47.2 519.6h1.5v1.5h-1.5zM50.6 519.4h1.5v1.5h-1.5zM51.2 519.8h1.5v1.5h-1.5zM52.8 519.4h1.5v1.5h-1.5zM53.6 519.4h1.5v1.5h-1.5zM55.1 519.7h1.5v1.5h-1.5zM55.8 519.4h1.5v1.5h-1.5zM56.7 519.4h1.5v1.5h-1.5zM40.3 519.9h1.5v1.5h-1.5zM40.1 520.0h1.5v1.5h-1.5zM41.3 520.2h1.5v1.5h-1.5zM42.6 519.9h1.5v1.5h-1.5zM43.8 520.2h1.5v1.5h-1.5zM44.6 520.2h1.5v1.5h-1.5zM44.9 519.9h1.5v1.5h-1.5zM46.1 520.2h1.5v1.5h-1.5zM46.5 520.1h1.5v1.5h-1.5zM50.2 520.3h1.5v1.5h-1.5zM52.7 520.2h1.5v1.5h-1.5zM52.9 520.1h1.5v1.5h-1.5zM53.0 519.9h1.5v1.5h-1.5zM55.6 520.2h1.5v1.5h-1.5zM56.2 520.3h1.5v1.5h-1.5zM57.6 520.3h1.5v1.5h-1.5zM57.5 520.3h1.5v1.5h-1.5zM41.6 520.6h1.5v1.5h-1.5zM42.0 520.5h1.5v1.5h-1.5zM42.7 520.6h1.5v1.5h-1.5zM43.8 520.4h1.5v1.5h-1.5zM44.1 520.5h1.5v1.5h-1.5zM44.5 520.4h1.5v1.5h-1.5zM45.2 520.4h1.5v1.5h-1.5zM46.1 520.6h1.5v1.5h-1.5zM47.9 520.5h1.5v1.5h-1.5zM48.3 520.5h1.5v1.5h-1.5zM48.6 520.7h1.5v1.5h-1.5zM52.5 520.6h1.5v1.5h-1.5zM52.9 520.4h1.5v1.5h-1.5zM54.3 520.6h1.5v1.5h-1.5zM41.4 521.3h1.5v1.5h-1.5zM42.6 521.3h1.5v1.5h-1.5zM44.2 520.9h1.5v1.5h-1.5zM45.6 521.0h1.5v1.5h-1.5zM45.6 520.9h1.5v1.5h-1.5zM46.2 521.1h1.5v1.5h-1.5zM47.7 521.1h1.5v1.5h-1.5zM50.3 521.3h1.5v1.5h-1.5zM51.3 521.2h1.5v1.5h-1.5zM51.8 521.0h1.5v1.5h-1.5zM51.6 521.1h1.5v1.5h-1.5zM52.8 521.2h1.5v1.5h-1.5zM52.6 521.1h1.5v1.5h-1.5zM57.7 520.9h1.5v1.5h-1.5zM62.2 521.2h1.5v1.5h-1.5zM225.7 457.3h1.5v1.5h-1.5zM215.4 458.8h1.5v1.5h-1.5zM219.1 458.7h1.5v1.5h-1.5zM200.0 459.0h1.5v1.5h-1.5zM213.6 459.4h1.5v1.5h-1.5zM216.8 459.3h1.5v1.5h-1.5zM217.8 459.1h1.5v1.5h-1.5zM222.9 459.0h1.5v1.5h-1.5zM222.9 459.1h1.5v1.5h-1.5zM193.6 459.5h1.5v1.5h-1.5zM203.8 459.8h1.5v1.5h-1.5zM205.5 459.6h1.5v1.5h-1.5zM228.3 459.7h1.5v1.5h-1.5zM228.6 459.6h1.5v1.5h-1.5zM192.3 460.0h1.5v1.5h-1.5zM193.6 460.2h1.5v1.5h-1.5zM194.4 460.4h1.5v1.5h-1.5zM195.6 460.1h1.5v1.5h-1.5zM196.6 460.3h1.5v1.5h-1.5zM197.5 460.2h1.5v1.5h-1.5zM198.9 460.3h1.5v1.5h-1.5zM200.5 460.2h1.5v1.5h-1.5zM202.7 460.2h1.5v1.5h-1.5zM222.1 460.2h1.5v1.5h-1.5zM235.2 460.3h1.5v1.5h-1.5zM236.7 460.3h1.5v1.5h-1.5zM194.5 460.8h1.5v1.5h-1.5zM196.5 460.8h1.5v1.5h-1.5zM199.1 460.8h1.5v1.5h-1.5zM203.5 460.6h1.5v1.5h-1.5zM212.0 460.5h1.5v1.5h-1.5zM217.2 460.5h1.5v1.5h-1.5zM220.2 460.9h1.5v1.5h-1.5zM221.3 460.7h1.5v1.5h-1.5zM226.5 460.9h1.5v1.5h-1.5zM230.9 460.6h1.5v1.5h-1.5zM235.3 460.7h1.5v1.5h-1.5zM193.9 461.4h1.5v1.5h-1.5zM197.0 461.1h1.5v1.5h-1.5zM203.8 461.0h1.5v1.5h-1.5zM204.6 461.2h1.5v1.5h-1.5zM212.5 461.4h1.5v1.5h-1.5zM220.2 461.1h1.5v1.5h-1.5zM231.5 461.4h1.5v1.5h-1.5zM235.5 461.2h1.5v1.5h-1.5zM194.9 461.9h1.5v1.5h-1.5zM220.9 461.7h1.5v1.5h-1.5zM222.4 461.9h1.5v1.5h-1.5zM222.9 461.9h1.5v1.5h-1.5zM229.6 461.8h1.5v1.5h-1.5zM231.8 461.6h1.5v1.5h-1.5zM192.1 462.3h1.5v1.5h-1.5zM192.1 462.3h1.5v1.5h-1.5zM193.8 462.2h1.5v1.5h-1.5zM197.5 462.2h1.5v1.5h-1.5zM198.1 462.2h1.5v1.5h-1.5zM211.6 462.3h1.5v1.5h-1.5zM212.7 462.1h1.5v1.5h-1.5zM213.4 462.3h1.5v1.5h-1.5zM215.3 462.1h1.5v1.5h-1.5zM217.8 462.2h1.5v1.5h-1.5zM225.0 462.1h1.5v1.5h-1.5zM232.8 462.3h1.5v1.5h-1.5zM197.1 462.8h1.5v1.5h-1.5zM196.8 462.8h1.5v1.5h-1.5zM199.2 462.6h1.5v1.5h-1.5zM204.3 462.7h1.5v1.5h-1.5zM216.6 462.9h1.5v1.5h-1.5zM219.3 462.5h1.5v1.5h-1.5zM219.7 462.7h1.5v1.5h-1.5zM223.1 462.7h1.5v1.5h-1.5zM228.9 462.7h1.5v1.5h-1.5zM234.3 462.6h1.5v1.5h-1.5zM178.8 463.2h1.5v1.5h-1.5zM195.0 463.0h1.5v1.5h-1.5zM202.4 463.3h1.5v1.5h-1.5zM207.7 463.3h1.5v1.5h-1.5zM217.0 463.0h1.5v1.5h-1.5zM220.1 463.2h1.5v1.5h-1.5zM220.5 463.1h1.5v1.5h-1.5zM221.5 463.0h1.5v1.5h-1.5zM223.1 463.0h1.5v1.5h-1.5zM223.2 463.4h1.5v1.5h-1.5zM223.9 463.2h1.5v1.5h-1.5zM224.2 463.1h1.5v1.5h-1.5zM225.4 463.3h1.5v1.5h-1.5zM226.0 463.2h1.5v1.5h-1.5zM191.8 463.6h1.5v1.5h-1.5zM195.4 463.9h1.5v1.5h-1.5zM195.7 463.5h1.5v1.5h-1.5zM196.5 463.6h1.5v1.5h-1.5zM198.2 463.6h1.5v1.5h-1.5zM198.9 463.6h1.5v1.5h-1.5zM201.7 463.5h1.5v1.5h-1.5zM205.3 463.9h1.5v1.5h-1.5zM205.4 463.9h1.5v1.5h-1.5zM213.1 463.5h1.5v1.5h-1.5zM216.7 463.6h1.5v1.5h-1.5zM219.6 463.7h1.5v1.5h-1.5zM222.5 463.7h1.5v1.5h-1.5zM227.3 463.5h1.5v1.5h-1.5zM228.1 463.9h1.5v1.5h-1.5zM229.2 463.7h1.5v1.5h-1.5zM229.2 463.5h1.5v1.5h-1.5zM231.4 463.8h1.5v1.5h-1.5zM235.0 463.5h1.5v1.5h-1.5zM188.7 464.3h1.5v1.5h-1.5zM193.6 464.4h1.5v1.5h-1.5zM199.3 464.2h1.5v1.5h-1.5zM199.9 464.4h1.5v1.5h-1.5zM200.5 464.0h1.5v1.5h-1.5zM213.6 464.3h1.5v1.5h-1.5zM218.7 464.3h1.5v1.5h-1.5zM227.5 464.2h1.5v1.5h-1.5zM229.4 464.4h1.5v1.5h-1.5zM229.5 464.1h1.5v1.5h-1.5zM233.0 464.0h1.5v1.5h-1.5zM232.8 464.3h1.5v1.5h-1.5zM233.1 464.1h1.5v1.5h-1.5zM233.4 464.0h1.5v1.5h-1.5zM236.6 464.3h1.5v1.5h-1.5zM192.9 464.5h1.5v1.5h-1.5zM202.2 464.9h1.5v1.5h-1.5zM212.7 464.8h1.5v1.5h-1.5zM216.7 464.5h1.5v1.5h-1.5zM222.3 464.6h1.5v1.5h-1.5zM222.5 464.7h1.5v1.5h-1.5zM233.1 464.6h1.5v1.5h-1.5zM235.6 464.6h1.5v1.5h-1.5zM198.1 465.1h1.5v1.5h-1.5zM199.6 465.1h1.5v1.5h-1.5zM203.2 465.4h1.5v1.5h-1.5zM205.1 465.4h1.5v1.5h-1.5zM215.5 465.3h1.5v1.5h-1.5zM216.8 465.2h1.5v1.5h-1.5zM221.1 465.0h1.5v1.5h-1.5zM221.6 465.2h1.5v1.5h-1.5zM232.7 465.3h1.5v1.5h-1.5zM173.9 465.9h1.5v1.5h-1.5zM192.6 465.9h1.5v1.5h-1.5zM193.8 465.5h1.5v1.5h-1.5zM197.7 465.5h1.5v1.5h-1.5zM200.2 465.9h1.5v1.5h-1.5zM201.4 465.8h1.5v1.5h-1.5zM202.9 465.8h1.5v1.5h-1.5zM211.7 465.5h1.5v1.5h-1.5zM217.4 465.7h1.5v1.5h-1.5zM218.7 465.9h1.5v1.5h-1.5zM224.1 465.5h1.5v1.5h-1.5zM224.6 465.6h1.5v1.5h-1.5zM234.7 465.6h1.5v1.5h-1.5zM180.2 466.2h1.5v1.5h-1.5zM195.7 466.2h1.5v1.5h-1.5zM196.0 466.3h1.5v1.5h-1.5zM200.4 466.3h1.5v1.5h-1.5zM216.2 466.2h1.5v1.5h-1.5zM216.7 466.2h1.5v1.5h-1.5zM221.6 466.1h1.5v1.5h-1.5zM223.7 466.2h1.5v1.5h-1.5zM227.0 466.4h1.5v1.5h-1.5zM228.0 466.4h1.5v1.5h-1.5zM233.2 466.2h1.5v1.5h-1.5zM233.9 466.4h1.5v1.5h-1.5zM235.8 466.3h1.5v1.5h-1.5zM236.3 466.1h1.5v1.5h-1.5zM176.9 466.7h1.5v1.5h-1.5zM199.8 466.9h1.5v1.5h-1.5zM203.8 466.8h1.5v1.5h-1.5zM204.6 466.7h1.5v1.5h-1.5zM211.9 466.7h1.5v1.5h-1.5zM213.6 466.8h1.5v1.5h-1.5zM216.3 466.7h1.5v1.5h-1.5zM226.1 466.5h1.5v1.5h-1.5zM227.7 466.6h1.5v1.5h-1.5zM231.2 466.8h1.5v1.5h-1.5zM230.9 466.5h1.5v1.5h-1.5zM231.4 466.7h1.5v1.5h-1.5zM233.6 466.5h1.5v1.5h-1.5zM235.6 466.5h1.5v1.5h-1.5zM198.5 467.1h1.5v1.5h-1.5zM200.2 467.4h1.5v1.5h-1.5zM206.0 467.4h1.5v1.5h-1.5zM209.2 467.2h1.5v1.5h-1.5zM212.7 467.0h1.5v1.5h-1.5zM216.4 467.2h1.5v1.5h-1.5zM218.2 467.3h1.5v1.5h-1.5zM220.5 467.3h1.5v1.5h-1.5zM221.1 467.2h1.5v1.5h-1.5zM224.9 467.1h1.5v1.5h-1.5zM226.3 467.4h1.5v1.5h-1.5zM229.8 467.1h1.5v1.5h-1.5zM234.9 467.1h1.5v1.5h-1.5zM236.5 467.0h1.5v1.5h-1.5zM195.6 467.7h1.5v1.5h-1.5zM198.9 467.6h1.5v1.5h-1.5zM201.1 467.5h1.5v1.5h-1.5zM203.2 467.6h1.5v1.5h-1.5zM205.0 467.6h1.5v1.5h-1.5zM205.4 467.7h1.5v1.5h-1.5zM206.4 467.5h1.5v1.5h-1.5zM212.6 467.6h1.5v1.5h-1.5zM217.1 467.5h1.5v1.5h-1.5zM218.7 467.9h1.5v1.5h-1.5zM219.5 467.6h1.5v1.5h-1.5zM219.7 467.6h1.5v1.5h-1.5zM224.2 467.5h1.5v1.5h-1.5zM226.1 467.8h1.5v1.5h-1.5zM229.7 467.5h1.5v1.5h-1.5zM231.2 467.9h1.5v1.5h-1.5zM231.3 467.8h1.5v1.5h-1.5zM232.1 467.8h1.5v1.5h-1.5zM232.7 467.6h1.5v1.5h-1.5zM236.6 467.9h1.5v1.5h-1.5zM236.8 467.5h1.5v1.5h-1.5zM192.1 468.4h1.5v1.5h-1.5zM193.1 468.4h1.5v1.5h-1.5zM204.9 468.0h1.5v1.5h-1.5zM210.5 468.4h1.5v1.5h-1.5zM214.6 468.3h1.5v1.5h-1.5zM216.7 468.3h1.5v1.5h-1.5zM218.9 468.0h1.5v1.5h-1.5zM233.9 468.4h1.5v1.5h-1.5zM234.2 468.0h1.5v1.5h-1.5zM235.9 468.0h1.5v1.5h-1.5zM202.6 468.5h1.5v1.5h-1.5zM202.7 468.7h1.5v1.5h-1.5zM202.8 468.8h1.5v1.5h-1.5zM203.9 468.8h1.5v1.5h-1.5zM212.1 468.9h1.5v1.5h-1.5zM214.4 468.8h1.5v1.5h-1.5zM218.0 468.9h1.5v1.5h-1.5zM225.1 468.6h1.5v1.5h-1.5zM226.0 468.9h1.5v1.5h-1.5zM229.8 468.8h1.5v1.5h-1.5zM231.6 468.9h1.5v1.5h-1.5zM236.1 468.6h1.5v1.5h-1.5zM194.3 469.1h1.5v1.5h-1.5zM200.1 469.0h1.5v1.5h-1.5zM201.1 469.0h1.5v1.5h-1.5zM204.2 469.4h1.5v1.5h-1.5zM220.3 469.0h1.5v1.5h-1.5zM236.7 469.0h1.5v1.5h-1.5zM236.3 469.3h1.5v1.5h-1.5zM237.2 469.1h1.5v1.5h-1.5zM238.2 469.2h1.5v1.5h-1.5zM190.5 469.5h1.5v1.5h-1.5zM191.9 469.9h1.5v1.5h-1.5zM193.0 469.7h1.5v1.5h-1.5zM194.4 469.9h1.5v1.5h-1.5zM196.0 469.8h1.5v1.5h-1.5zM199.4 469.7h1.5v1.5h-1.5zM202.9 469.9h1.5v1.5h-1.5zM203.4 469.9h1.5v1.5h-1.5zM215.5 469.6h1.5v1.5h-1.5zM215.6 469.6h1.5v1.5h-1.5zM215.4 469.5h1.5v1.5h-1.5zM222.6 469.7h1.5v1.5h-1.5zM223.4 469.5h1.5v1.5h-1.5zM229.7 469.9h1.5v1.5h-1.5zM233.5 469.8h1.5v1.5h-1.5zM234.3 469.6h1.5v1.5h-1.5zM236.5 469.6h1.5v1.5h-1.5zM194.2 470.3h1.5v1.5h-1.5zM198.3 470.4h1.5v1.5h-1.5zM198.9 470.3h1.5v1.5h-1.5zM200.4 470.2h1.5v1.5h-1.5zM201.8 470.2h1.5v1.5h-1.5zM204.6 470.4h1.5v1.5h-1.5zM204.6 470.1h1.5v1.5h-1.5zM205.9 470.3h1.5v1.5h-1.5zM213.8 470.0h1.5v1.5h-1.5zM221.0 470.2h1.5v1.5h-1.5zM221.2 470.0h1.5v1.5h-1.5zM223.9 470.0h1.5v1.5h-1.5zM227.7 470.0h1.5v1.5h-1.5zM229.2 470.4h1.5v1.5h-1.5zM233.3 470.0h1.5v1.5h-1.5zM237.0 470.0h1.5v1.5h-1.5zM198.8 470.8h1.5v1.5h-1.5zM199.0 470.8h1.5v1.5h-1.5zM199.7 470.8h1.5v1.5h-1.5zM201.0 470.9h1.5v1.5h-1.5zM201.4 470.9h1.5v1.5h-1.5zM205.6 470.9h1.5v1.5h-1.5zM205.9 470.8h1.5v1.5h-1.5zM207.8 470.9h1.5v1.5h-1.5zM218.2 470.6h1.5v1.5h-1.5zM229.7 470.9h1.5v1.5h-1.5zM233.1 470.8h1.5v1.5h-1.5zM236.4 470.7h1.5v1.5h-1.5zM197.6 471.4h1.5v1.5h-1.5zM198.7 471.1h1.5v1.5h-1.5zM198.6 471.3h1.5v1.5h-1.5zM204.0 471.2h1.5v1.5h-1.5zM204.2 471.3h1.5v1.5h-1.5zM203.9 471.3h1.5v1.5h-1.5zM212.2 471.4h1.5v1.5h-1.5zM216.2 471.0h1.5v1.5h-1.5zM221.6 471.1h1.5v1.5h-1.5zM221.9 471.3h1.5v1.5h-1.5zM221.9 471.3h1.5v1.5h-1.5zM222.2 471.2h1.5v1.5h-1.5zM235.6 471.4h1.5v1.5h-1.5zM236.5 471.2h1.5v1.5h-1.5zM176.9 471.7h1.5v1.5h-1.5zM197.6 471.8h1.5v1.5h-1.5zM200.1 471.9h1.5v1.5h-1.5zM201.5 471.6h1.5v1.5h-1.5zM224.2 471.6h1.5v1.5h-1.5zM225.8 471.8h1.5v1.5h-1.5zM229.9 471.7h1.5v1.5h-1.5zM230.7 471.6h1.5v1.5h-1.5zM233.5 471.8h1.5v1.5h-1.5zM195.2 472.3h1.5v1.5h-1.5zM197.2 472.3h1.5v1.5h-1.5zM203.4 472.3h1.5v1.5h-1.5zM205.6 472.2h1.5v1.5h-1.5zM211.8 472.4h1.5v1.5h-1.5zM213.2 472.3h1.5v1.5h-1.5zM218.9 472.2h1.5v1.5h-1.5zM218.8 472.2h1.5v1.5h-1.5zM221.9 472.4h1.5v1.5h-1.5zM223.0 472.4h1.5v1.5h-1.5zM225.2 472.1h1.5v1.5h-1.5zM227.6 472.2h1.5v1.5h-1.5zM230.0 472.3h1.5v1.5h-1.5zM233.8 472.3h1.5v1.5h-1.5zM199.2 472.5h1.5v1.5h-1.5zM199.7 472.9h1.5v1.5h-1.5zM211.8 472.6h1.5v1.5h-1.5zM215.6 472.7h1.5v1.5h-1.5zM222.5 472.5h1.5v1.5h-1.5zM224.7 472.8h1.5v1.5h-1.5zM230.2 472.7h1.5v1.5h-1.5zM230.5 472.7h1.5v1.5h-1.5zM230.7 472.8h1.5v1.5h-1.5zM233.5 472.8h1.5v1.5h-1.5zM210.6 473.3h1.5v1.5h-1.5zM215.9 473.2h1.5v1.5h-1.5zM216.6 473.3h1.5v1.5h-1.5zM221.7 473.0h1.5v1.5h-1.5zM225.2 473.2h1.5v1.5h-1.5zM227.7 473.4h1.5v1.5h-1.5zM228.1 473.3h1.5v1.5h-1.5zM228.6 473.0h1.5v1.5h-1.5zM229.1 473.1h1.5v1.5h-1.5zM231.6 473.0h1.5v1.5h-1.5zM187.4 473.6h1.5v1.5h-1.5zM220.4 473.8h1.5v1.5h-1.5zM223.2 473.7h1.5v1.5h-1.5zM222.8 473.6h1.5v1.5h-1.5zM224.8 473.9h1.5v1.5h-1.5zM228.1 473.8h1.5v1.5h-1.5zM178.5 474.0h1.5v1.5h-1.5zM180.1 474.3h1.5v1.5h-1.5zM199.0 474.0h1.5v1.5h-1.5zM199.8 474.4h1.5v1.5h-1.5zM202.9 474.0h1.5v1.5h-1.5zM203.7 474.1h1.5v1.5h-1.5zM209.1 474.1h1.5v1.5h-1.5zM213.5 474.3h1.5v1.5h-1.5zM218.5 474.2h1.5v1.5h-1.5zM221.8 474.4h1.5v1.5h-1.5zM225.2 474.2h1.5v1.5h-1.5zM230.1 474.3h1.5v1.5h-1.5zM234.0 474.1h1.5v1.5h-1.5zM236.0 474.3h1.5v1.5h-1.5zM236.8 474.3h1.5v1.5h-1.5zM192.5 474.8h1.5v1.5h-1.5zM201.8 474.5h1.5v1.5h-1.5zM213.8 474.9h1.5v1.5h-1.5zM215.4 474.9h1.5v1.5h-1.5zM217.9 474.5h1.5v1.5h-1.5zM225.6 474.8h1.5v1.5h-1.5zM229.3 474.6h1.5v1.5h-1.5zM235.5 474.5h1.5v1.5h-1.5zM171.7 475.1h1.5v1.5h-1.5zM194.9 475.1h1.5v1.5h-1.5zM214.9 475.4h1.5v1.5h-1.5zM223.0 475.2h1.5v1.5h-1.5zM222.8 475.1h1.5v1.5h-1.5zM224.1 475.3h1.5v1.5h-1.5zM225.2 475.2h1.5v1.5h-1.5zM225.7 475.3h1.5v1.5h-1.5zM227.8 475.4h1.5v1.5h-1.5zM231.1 475.4h1.5v1.5h-1.5zM233.0 475.3h1.5v1.5h-1.5zM190.5 475.7h1.5v1.5h-1.5zM197.9 475.6h1.5v1.5h-1.5zM205.5 475.5h1.5v1.5h-1.5zM205.8 475.5h1.5v1.5h-1.5zM214.9 475.5h1.5v1.5h-1.5zM218.9 475.8h1.5v1.5h-1.5zM221.5 475.6h1.5v1.5h-1.5zM223.5 475.5h1.5v1.5h-1.5zM224.0 475.6h1.5v1.5h-1.5zM224.4 475.7h1.5v1.5h-1.5zM225.0 475.6h1.5v1.5h-1.5zM225.1 475.9h1.5v1.5h-1.5zM232.0 475.5h1.5v1.5h-1.5zM232.9 475.5h1.5v1.5h-1.5zM233.9 475.9h1.5v1.5h-1.5zM233.9 475.7h1.5v1.5h-1.5zM173.1 476.3h1.5v1.5h-1.5zM209.2 476.2h1.5v1.5h-1.5zM215.8 476.1h1.5v1.5h-1.5zM216.9 476.0h1.5v1.5h-1.5zM216.8 476.0h1.5v1.5h-1.5zM217.4 476.3h1.5v1.5h-1.5zM224.3 476.1h1.5v1.5h-1.5zM224.8 476.3h1.5v1.5h-1.5zM226.3 476.4h1.5v1.5h-1.5zM226.8 476.3h1.5v1.5h-1.5zM226.9 476.0h1.5v1.5h-1.5zM228.7 476.0h1.5v1.5h-1.5zM233.8 476.0h1.5v1.5h-1.5zM198.9 476.5h1.5v1.5h-1.5zM204.4 476.9h1.5v1.5h-1.5zM214.9 476.8h1.5v1.5h-1.5zM214.8 476.9h1.5v1.5h-1.5zM216.0 476.6h1.5v1.5h-1.5zM219.8 476.5h1.5v1.5h-1.5zM225.0 476.8h1.5v1.5h-1.5zM226.9 476.9h1.5v1.5h-1.5zM230.5 476.6h1.5v1.5h-1.5zM231.3 476.8h1.5v1.5h-1.5zM233.2 476.5h1.5v1.5h-1.5zM237.3 476.9h1.5v1.5h-1.5zM190.2 477.1h1.5v1.5h-1.5zM195.9 477.4h1.5v1.5h-1.5zM217.1 477.2h1.5v1.5h-1.5zM218.2 477.1h1.5v1.5h-1.5zM220.3 477.0h1.5v1.5h-1.5zM220.3 477.3h1.5v1.5h-1.5zM221.1 477.4h1.5v1.5h-1.5zM224.8 477.0h1.5v1.5h-1.5zM229.7 477.2h1.5v1.5h-1.5zM232.3 477.1h1.5v1.5h-1.5zM248.0 477.1h1.5v1.5h-1.5zM192.1 477.6h1.5v1.5h-1.5zM196.5 477.6h1.5v1.5h-1.5zM208.3 477.9h1.5v1.5h-1.5zM214.3 477.8h1.5v1.5h-1.5zM214.9 477.9h1.5v1.5h-1.5zM218.2 477.8h1.5v1.5h-1.5zM220.3 477.9h1.5v1.5h-1.5zM221.9 477.9h1.5v1.5h-1.5zM223.9 477.8h1.5v1.5h-1.5zM225.4 477.9h1.5v1.5h-1.5zM231.5 477.5h1.5v1.5h-1.5zM231.9 477.8h1.5v1.5h-1.5zM237.4 477.9h1.5v1.5h-1.5zM182.9 478.0h1.5v1.5h-1.5zM224.8 478.3h1.5v1.5h-1.5zM229.5 478.2h1.5v1.5h-1.5zM229.9 478.4h1.5v1.5h-1.5zM233.2 478.2h1.5v1.5h-1.5zM243.3 478.4h1.5v1.5h-1.5zM187.6 478.6h1.5v1.5h-1.5zM196.7 478.7h1.5v1.5h-1.5zM198.7 478.8h1.5v1.5h-1.5zM223.4 478.9h1.5v1.5h-1.5zM227.4 478.7h1.5v1.5h-1.5zM236.5 478.8h1.5v1.5h-1.5zM211.9 479.0h1.5v1.5h-1.5zM214.4 479.2h1.5v1.5h-1.5zM220.2 479.2h1.5v1.5h-1.5zM224.2 479.0h1.5v1.5h-1.5zM180.2 479.8h1.5v1.5h-1.5zM195.2 479.7h1.5v1.5h-1.5zM198.4 479.6h1.5v1.5h-1.5zM208.9 479.9h1.5v1.5h-1.5zM211.1 479.7h1.5v1.5h-1.5zM221.5 479.8h1.5v1.5h-1.5zM222.2 479.9h1.5v1.5h-1.5zM228.0 479.6h1.5v1.5h-1.5zM189.1 480.1h1.5v1.5h-1.5zM202.9 480.2h1.5v1.5h-1.5zM216.9 480.3h1.5v1.5h-1.5zM217.2 480.1h1.5v1.5h-1.5zM220.3 480.3h1.5v1.5h-1.5zM221.2 480.0h1.5v1.5h-1.5zM226.7 480.2h1.5v1.5h-1.5zM244.4 480.3h1.5v1.5h-1.5zM191.5 480.9h1.5v1.5h-1.5zM204.2 480.5h1.5v1.5h-1.5zM213.0 480.8h1.5v1.5h-1.5zM215.3 480.7h1.5v1.5h-1.5zM217.7 480.5h1.5v1.5h-1.5zM224.2 480.8h1.5v1.5h-1.5zM230.1 480.5h1.5v1.5h-1.5zM238.9 480.8h1.5v1.5h-1.5zM174.4 481.1h1.5v1.5h-1.5zM198.9 481.2h1.5v1.5h-1.5zM205.9 481.0h1.5v1.5h-1.5zM210.0 481.3h1.5v1.5h-1.5zM213.9 481.3h1.5v1.5h-1.5zM215.5 481.2h1.5v1.5h-1.5zM216.9 481.0h1.5v1.5h-1.5zM218.5 481.2h1.5v1.5h-1.5zM222.4 481.4h1.5v1.5h-1.5zM228.4 481.3h1.5v1.5h-1.5zM229.9 481.0h1.5v1.5h-1.5zM193.1 481.9h1.5v1.5h-1.5zM195.2 481.7h1.5v1.5h-1.5zM201.2 481.5h1.5v1.5h-1.5zM204.9 481.6h1.5v1.5h-1.5zM212.0 481.5h1.5v1.5h-1.5zM215.0 481.9h1.5v1.5h-1.5zM221.3 481.8h1.5v1.5h-1.5zM225.6 481.7h1.5v1.5h-1.5zM227.3 481.8h1.5v1.5h-1.5zM228.2 481.6h1.5v1.5h-1.5zM233.6 481.6h1.5v1.5h-1.5zM234.0 481.8h1.5v1.5h-1.5zM240.1 481.9h1.5v1.5h-1.5zM184.6 482.3h1.5v1.5h-1.5zM187.4 482.0h1.5v1.5h-1.5zM217.3 482.2h1.5v1.5h-1.5zM228.9 482.4h1.5v1.5h-1.5zM230.7 482.1h1.5v1.5h-1.5zM231.7 482.4h1.5v1.5h-1.5zM237.5 482.4h1.5v1.5h-1.5zM194.8 482.9h1.5v1.5h-1.5zM202.1 482.9h1.5v1.5h-1.5zM202.1 482.8h1.5v1.5h-1.5zM203.6 482.7h1.5v1.5h-1.5zM215.0 482.7h1.5v1.5h-1.5zM223.8 482.9h1.5v1.5h-1.5zM224.5 482.8h1.5v1.5h-1.5zM225.3 482.8h1.5v1.5h-1.5zM226.0 482.5h1.5v1.5h-1.5zM229.2 482.8h1.5v1.5h-1.5zM202.6 483.0h1.5v1.5h-1.5zM202.8 483.0h1.5v1.5h-1.5zM206.0 483.0h1.5v1.5h-1.5zM212.4 483.1h1.5v1.5h-1.5zM218.6 483.4h1.5v1.5h-1.5zM221.0 483.0h1.5v1.5h-1.5zM226.2 483.0h1.5v1.5h-1.5zM196.1 483.9h1.5v1.5h-1.5zM209.0 483.6h1.5v1.5h-1.5zM223.4 483.5h1.5v1.5h-1.5zM230.3 483.8h1.5v1.5h-1.5zM231.7 483.9h1.5v1.5h-1.5zM234.7 483.6h1.5v1.5h-1.5zM238.9 483.9h1.5v1.5h-1.5zM239.7 483.9h1.5v1.5h-1.5zM185.6 484.4h1.5v1.5h-1.5zM187.8 484.2h1.5v1.5h-1.5zM191.5 484.1h1.5v1.5h-1.5zM193.5 484.4h1.5v1.5h-1.5zM194.0 484.4h1.5v1.5h-1.5zM195.5 484.3h1.5v1.5h-1.5zM199.9 484.0h1.5v1.5h-1.5zM201.3 484.3h1.5v1.5h-1.5zM207.5 484.1h1.5v1.5h-1.5zM209.3 484.2h1.5v1.5h-1.5zM213.6 484.3h1.5v1.5h-1.5zM218.0 484.3h1.5v1.5h-1.5zM220.8 484.4h1.5v1.5h-1.5zM221.5 484.3h1.5v1.5h-1.5zM226.5 484.3h1.5v1.5h-1.5zM231.2 484.3h1.5v1.5h-1.5zM231.7 484.4h1.5v1.5h-1.5zM197.2 484.7h1.5v1.5h-1.5zM202.7 484.5h1.5v1.5h-1.5zM206.5 484.6h1.5v1.5h-1.5zM209.4 484.5h1.5v1.5h-1.5zM216.2 484.5h1.5v1.5h-1.5zM219.1 484.6h1.5v1.5h-1.5zM220.4 484.8h1.5v1.5h-1.5zM229.1 484.5h1.5v1.5h-1.5zM229.6 484.8h1.5v1.5h-1.5zM172.5 485.0h1.5v1.5h-1.5zM199.4 485.4h1.5v1.5h-1.5zM210.9 485.0h1.5v1.5h-1.5zM182.7 485.9h1.5v1.5h-1.5zM195.2 485.7h1.5v1.5h-1.5zM196.2 485.5h1.5v1.5h-1.5zM197.2 485.7h1.5v1.5h-1.5zM204.1 485.9h1.5v1.5h-1.5zM211.2 485.6h1.5v1.5h-1.5zM218.5 485.5h1.5v1.5h-1.5zM222.3 485.5h1.5v1.5h-1.5zM225.2 485.5h1.5v1.5h-1.5zM226.5 485.9h1.5v1.5h-1.5zM227.1 485.7h1.5v1.5h-1.5zM230.7 485.5h1.5v1.5h-1.5zM191.7 486.3h1.5v1.5h-1.5zM196.0 486.4h1.5v1.5h-1.5zM199.3 486.4h1.5v1.5h-1.5zM203.2 486.2h1.5v1.5h-1.5zM207.6 486.4h1.5v1.5h-1.5zM209.0 486.1h1.5v1.5h-1.5zM220.1 486.1h1.5v1.5h-1.5zM224.6 486.0h1.5v1.5h-1.5zM232.2 486.2h1.5v1.5h-1.5zM239.6 486.2h1.5v1.5h-1.5zM240.4 486.2h1.5v1.5h-1.5zM194.4 486.8h1.5v1.5h-1.5zM200.9 486.8h1.5v1.5h-1.5zM204.1 486.8h1.5v1.5h-1.5zM204.8 486.7h1.5v1.5h-1.5zM206.7 486.5h1.5v1.5h-1.5zM222.5 486.9h1.5v1.5h-1.5zM238.7 486.7h1.5v1.5h-1.5zM183.1 487.4h1.5v1.5h-1.5zM202.5 487.2h1.5v1.5h-1.5zM206.8 487.3h1.5v1.5h-1.5zM211.2 487.1h1.5v1.5h-1.5zM220.3 487.4h1.5v1.5h-1.5zM222.3 487.1h1.5v1.5h-1.5zM230.1 487.3h1.5v1.5h-1.5zM238.6 487.1h1.5v1.5h-1.5zM240.7 487.0h1.5v1.5h-1.5zM192.3 487.7h1.5v1.5h-1.5zM198.4 487.6h1.5v1.5h-1.5zM198.8 487.9h1.5v1.5h-1.5zM207.9 487.9h1.5v1.5h-1.5zM217.6 487.6h1.5v1.5h-1.5zM219.3 487.7h1.5v1.5h-1.5zM222.0 487.6h1.5v1.5h-1.5zM222.4 487.8h1.5v1.5h-1.5zM228.2 487.9h1.5v1.5h-1.5zM234.1 487.7h1.5v1.5h-1.5zM182.3 488.1h1.5v1.5h-1.5zM197.2 488.1h1.5v1.5h-1.5zM217.3 488.2h1.5v1.5h-1.5zM220.5 488.3h1.5v1.5h-1.5zM222.0 488.0h1.5v1.5h-1.5zM226.4 488.0h1.5v1.5h-1.5zM227.0 488.3h1.5v1.5h-1.5zM231.2 488.1h1.5v1.5h-1.5zM238.3 488.2h1.5v1.5h-1.5zM187.4 488.5h1.5v1.5h-1.5zM188.5 488.5h1.5v1.5h-1.5zM190.2 488.7h1.5v1.5h-1.5zM203.1 488.9h1.5v1.5h-1.5zM215.0 488.7h1.5v1.5h-1.5zM220.5 488.8h1.5v1.5h-1.5zM220.9 488.6h1.5v1.5h-1.5zM225.9 488.9h1.5v1.5h-1.5zM227.7 488.8h1.5v1.5h-1.5zM185.1 489.2h1.5v1.5h-1.5zM193.4 489.3h1.5v1.5h-1.5zM193.3 489.0h1.5v1.5h-1.5zM200.9 489.1h1.5v1.5h-1.5zM201.8 489.4h1.5v1.5h-1.5zM202.4 489.4h1.5v1.5h-1.5zM211.5 489.0h1.5v1.5h-1.5zM214.0 489.3h1.5v1.5h-1.5zM215.4 489.3h1.5v1.5h-1.5zM234.8 489.1h1.5v1.5h-1.5zM181.3 489.7h1.5v1.5h-1.5zM189.5 489.8h1.5v1.5h-1.5zM217.4 489.9h1.5v1.5h-1.5zM223.2 489.8h1.5v1.5h-1.5zM224.9 489.5h1.5v1.5h-1.5zM229.3 489.6h1.5v1.5h-1.5zM244.9 489.8h1.5v1.5h-1.5zM181.3 490.2h1.5v1.5h-1.5zM185.1 490.3h1.5v1.5h-1.5zM188.1 490.4h1.5v1.5h-1.5zM191.3 490.4h1.5v1.5h-1.5zM200.1 490.1h1.5v1.5h-1.5zM204.1 490.4h1.5v1.5h-1.5zM216.6 490.4h1.5v1.5h-1.5zM227.6 490.1h1.5v1.5h-1.5zM236.5 490.0h1.5v1.5h-1.5zM239.3 490.3h1.5v1.5h-1.5zM245.1 490.0h1.5v1.5h-1.5zM179.1 490.6h1.5v1.5h-1.5zM187.4 490.5h1.5v1.5h-1.5zM194.0 490.8h1.5v1.5h-1.5zM193.9 490.8h1.5v1.5h-1.5zM198.0 490.9h1.5v1.5h-1.5zM205.3 490.6h1.5v1.5h-1.5zM206.6 490.8h1.5v1.5h-1.5zM206.4 490.6h1.5v1.5h-1.5zM214.5 490.5h1.5v1.5h-1.5zM226.2 490.8h1.5v1.5h-1.5zM227.2 490.7h1.5v1.5h-1.5zM228.9 490.9h1.5v1.5h-1.5zM234.9 490.7h1.5v1.5h-1.5zM193.5 491.4h1.5v1.5h-1.5zM200.6 491.0h1.5v1.5h-1.5zM200.8 491.4h1.5v1.5h-1.5zM216.0 491.3h1.5v1.5h-1.5zM225.0 491.3h1.5v1.5h-1.5zM233.2 491.0h1.5v1.5h-1.5zM188.8 491.8h1.5v1.5h-1.5zM201.1 491.8h1.5v1.5h-1.5zM206.3 491.6h1.5v1.5h-1.5zM223.3 491.6h1.5v1.5h-1.5zM228.3 491.6h1.5v1.5h-1.5zM197.7 492.3h1.5v1.5h-1.5zM199.7 492.0h1.5v1.5h-1.5zM217.2 492.0h1.5v1.5h-1.5zM233.3 492.1h1.5v1.5h-1.5zM192.5 492.5h1.5v1.5h-1.5zM205.2 492.6h1.5v1.5h-1.5zM205.6 492.6h1.5v1.5h-1.5zM213.5 492.6h1.5v1.5h-1.5zM219.2 492.9h1.5v1.5h-1.5zM224.1 492.9h1.5v1.5h-1.5zM226.1 492.7h1.5v1.5h-1.5zM229.8 492.6h1.5v1.5h-1.5zM239.1 492.6h1.5v1.5h-1.5zM191.2 493.0h1.5v1.5h-1.5zM194.1 493.2h1.5v1.5h-1.5zM203.5 493.3h1.5v1.5h-1.5zM205.6 493.4h1.5v1.5h-1.5zM209.8 493.0h1.5v1.5h-1.5zM210.5 493.3h1.5v1.5h-1.5zM214.9 493.1h1.5v1.5h-1.5zM214.9 493.4h1.5v1.5h-1.5zM226.0 493.3h1.5v1.5h-1.5zM227.6 493.2h1.5v1.5h-1.5zM231.2 493.4h1.5v1.5h-1.5zM233.0 493.2h1.5v1.5h-1.5zM237.6 493.3h1.5v1.5h-1.5zM240.8 493.1h1.5v1.5h-1.5zM177.0 493.6h1.5v1.5h-1.5zM177.5 493.9h1.5v1.5h-1.5zM179.2 493.7h1.5v1.5h-1.5zM182.6 493.6h1.5v1.5h-1.5zM194.7 493.6h1.5v1.5h-1.5zM194.7 493.6h1.5v1.5h-1.5zM202.7 493.9h1.5v1.5h-1.5zM210.2 493.6h1.5v1.5h-1.5zM210.3 493.7h1.5v1.5h-1.5zM213.7 493.7h1.5v1.5h-1.5zM214.1 493.7h1.5v1.5h-1.5zM215.2 493.7h1.5v1.5h-1.5zM218.5 493.6h1.5v1.5h-1.5zM219.6 493.5h1.5v1.5h-1.5zM222.7 493.7h1.5v1.5h-1.5zM223.5 493.9h1.5v1.5h-1.5zM228.8 493.6h1.5v1.5h-1.5zM231.0 493.5h1.5v1.5h-1.5zM185.9 494.2h1.5v1.5h-1.5zM193.3 494.1h1.5v1.5h-1.5zM193.9 494.0h1.5v1.5h-1.5zM198.2 494.4h1.5v1.5h-1.5zM202.1 494.3h1.5v1.5h-1.5zM209.9 494.0h1.5v1.5h-1.5zM212.5 494.1h1.5v1.5h-1.5zM213.7 494.1h1.5v1.5h-1.5zM215.2 494.1h1.5v1.5h-1.5zM223.7 494.1h1.5v1.5h-1.5zM224.0 494.1h1.5v1.5h-1.5zM225.0 494.2h1.5v1.5h-1.5zM224.9 494.3h1.5v1.5h-1.5zM226.9 494.4h1.5v1.5h-1.5zM227.2 494.1h1.5v1.5h-1.5zM229.8 494.1h1.5v1.5h-1.5zM232.9 494.0h1.5v1.5h-1.5zM236.6 494.1h1.5v1.5h-1.5zM180.3 494.6h1.5v1.5h-1.5zM193.3 494.7h1.5v1.5h-1.5zM194.7 494.9h1.5v1.5h-1.5zM203.4 494.8h1.5v1.5h-1.5zM204.0 494.9h1.5v1.5h-1.5zM204.3 494.5h1.5v1.5h-1.5zM204.6 494.7h1.5v1.5h-1.5zM204.8 494.8h1.5v1.5h-1.5zM205.9 494.7h1.5v1.5h-1.5zM212.2 494.7h1.5v1.5h-1.5zM213.0 494.9h1.5v1.5h-1.5zM213.4 494.7h1.5v1.5h-1.5zM216.5 494.6h1.5v1.5h-1.5zM219.0 494.5h1.5v1.5h-1.5zM219.3 494.9h1.5v1.5h-1.5zM220.9 494.5h1.5v1.5h-1.5zM223.6 494.9h1.5v1.5h-1.5zM223.8 494.8h1.5v1.5h-1.5zM224.1 494.5h1.5v1.5h-1.5zM226.5 494.7h1.5v1.5h-1.5zM228.1 494.8h1.5v1.5h-1.5zM228.5 494.6h1.5v1.5h-1.5zM231.4 494.9h1.5v1.5h-1.5zM235.3 494.7h1.5v1.5h-1.5zM236.4 494.9h1.5v1.5h-1.5zM238.4 494.8h1.5v1.5h-1.5zM176.0 495.0h1.5v1.5h-1.5zM193.3 495.3h1.5v1.5h-1.5zM198.8 495.2h1.5v1.5h-1.5zM200.5 495.1h1.5v1.5h-1.5zM203.8 495.4h1.5v1.5h-1.5zM208.0 495.2h1.5v1.5h-1.5zM208.5 495.3h1.5v1.5h-1.5zM209.2 495.3h1.5v1.5h-1.5zM210.1 495.4h1.5v1.5h-1.5zM210.7 495.1h1.5v1.5h-1.5zM212.3 495.0h1.5v1.5h-1.5zM216.5 495.2h1.5v1.5h-1.5zM218.6 495.3h1.5v1.5h-1.5zM218.5 495.2h1.5v1.5h-1.5zM219.3 495.4h1.5v1.5h-1.5zM220.1 495.2h1.5v1.5h-1.5zM223.9 495.2h1.5v1.5h-1.5zM224.5 495.2h1.5v1.5h-1.5zM225.8 495.3h1.5v1.5h-1.5zM231.0 495.1h1.5v1.5h-1.5zM233.1 495.3h1.5v1.5h-1.5zM234.5 495.0h1.5v1.5h-1.5zM235.1 495.0h1.5v1.5h-1.5zM235.8 495.4h1.5v1.5h-1.5zM236.8 495.0h1.5v1.5h-1.5zM200.3 495.6h1.5v1.5h-1.5zM200.3 495.7h1.5v1.5h-1.5zM203.9 495.8h1.5v1.5h-1.5zM204.7 495.9h1.5v1.5h-1.5zM206.2 495.7h1.5v1.5h-1.5zM206.7 495.8h1.5v1.5h-1.5zM211.3 495.7h1.5v1.5h-1.5zM212.5 495.9h1.5v1.5h-1.5zM212.8 495.7h1.5v1.5h-1.5zM217.6 495.5h1.5v1.5h-1.5zM218.9 495.6h1.5v1.5h-1.5zM219.7 495.9h1.5v1.5h-1.5zM219.5 495.8h1.5v1.5h-1.5zM221.1 495.7h1.5v1.5h-1.5zM223.5 495.5h1.5v1.5h-1.5zM178.1 496.1h1.5v1.5h-1.5zM194.2 496.3h1.5v1.5h-1.5zM196.3 496.3h1.5v1.5h-1.5zM202.6 496.0h1.5v1.5h-1.5zM202.8 496.0h1.5v1.5h-1.5zM207.1 496.3h1.5v1.5h-1.5zM207.5 496.2h1.5v1.5h-1.5zM211.4 496.4h1.5v1.5h-1.5zM213.8 496.0h1.5v1.5h-1.5zM216.7 496.1h1.5v1.5h-1.5zM218.6 496.0h1.5v1.5h-1.5zM222.2 496.2h1.5v1.5h-1.5zM224.0 496.3h1.5v1.5h-1.5zM224.4 496.0h1.5v1.5h-1.5zM225.9 496.1h1.5v1.5h-1.5zM229.2 496.1h1.5v1.5h-1.5zM229.9 496.0h1.5v1.5h-1.5zM231.0 496.1h1.5v1.5h-1.5zM233.8 496.3h1.5v1.5h-1.5zM235.2 496.0h1.5v1.5h-1.5zM235.6 496.2h1.5v1.5h-1.5zM236.1 496.1h1.5v1.5h-1.5zM179.8 496.9h1.5v1.5h-1.5zM200.2 496.5h1.5v1.5h-1.5zM200.6 496.9h1.5v1.5h-1.5zM200.9 496.6h1.5v1.5h-1.5zM201.1 496.7h1.5v1.5h-1.5zM209.4 496.9h1.5v1.5h-1.5zM210.1 496.6h1.5v1.5h-1.5zM211.1 496.9h1.5v1.5h-1.5zM213.9 496.7h1.5v1.5h-1.5zM219.3 496.9h1.5v1.5h-1.5zM221.4 496.6h1.5v1.5h-1.5zM224.8 496.6h1.5v1.5h-1.5zM227.0 496.6h1.5v1.5h-1.5zM227.5 496.9h1.5v1.5h-1.5zM227.8 496.5h1.5v1.5h-1.5zM228.0 496.9h1.5v1.5h-1.5zM230.0 496.5h1.5v1.5h-1.5zM231.4 496.9h1.5v1.5h-1.5zM232.1 496.7h1.5v1.5h-1.5zM232.3 496.8h1.5v1.5h-1.5zM232.8 496.6h1.5v1.5h-1.5zM233.6 496.6h1.5v1.5h-1.5zM234.0 496.7h1.5v1.5h-1.5zM235.4 496.8h1.5v1.5h-1.5zM172.6 497.2h1.5v1.5h-1.5zM173.0 497.4h1.5v1.5h-1.5zM178.7 497.2h1.5v1.5h-1.5zM189.2 497.1h1.5v1.5h-1.5zM195.7 497.2h1.5v1.5h-1.5zM199.0 497.2h1.5v1.5h-1.5zM204.8 497.2h1.5v1.5h-1.5zM205.9 497.3h1.5v1.5h-1.5zM206.1 497.0h1.5v1.5h-1.5zM206.4 497.1h1.5v1.5h-1.5zM207.5 497.4h1.5v1.5h-1.5zM207.8 497.3h1.5v1.5h-1.5zM212.3 497.4h1.5v1.5h-1.5zM213.9 497.4h1.5v1.5h-1.5zM214.3 497.3h1.5v1.5h-1.5zM215.4 497.3h1.5v1.5h-1.5zM217.3 497.2h1.5v1.5h-1.5zM217.9 497.1h1.5v1.5h-1.5zM218.0 497.2h1.5v1.5h-1.5zM218.7 497.3h1.5v1.5h-1.5zM219.1 497.4h1.5v1.5h-1.5zM219.3 497.0h1.5v1.5h-1.5zM219.5 497.2h1.5v1.5h-1.5zM220.2 497.3h1.5v1.5h-1.5zM220.6 497.4h1.5v1.5h-1.5zM220.9 497.3h1.5v1.5h-1.5zM221.5 497.1h1.5v1.5h-1.5zM223.7 497.2h1.5v1.5h-1.5zM225.0 497.0h1.5v1.5h-1.5zM226.0 497.4h1.5v1.5h-1.5zM227.4 497.4h1.5v1.5h-1.5zM229.9 497.3h1.5v1.5h-1.5zM231.1 497.3h1.5v1.5h-1.5zM232.0 497.3h1.5v1.5h-1.5zM233.0 497.1h1.5v1.5h-1.5zM233.6 497.1h1.5v1.5h-1.5zM234.3 497.2h1.5v1.5h-1.5zM235.2 497.0h1.5v1.5h-1.5zM176.4 497.7h1.5v1.5h-1.5zM198.8 497.7h1.5v1.5h-1.5zM206.2 497.5h1.5v1.5h-1.5zM206.7 497.5h1.5v1.5h-1.5zM207.3 497.7h1.5v1.5h-1.5zM210.6 497.9h1.5v1.5h-1.5zM210.5 497.7h1.5v1.5h-1.5zM215.0 497.9h1.5v1.5h-1.5zM215.5 497.7h1.5v1.5h-1.5zM221.3 497.9h1.5v1.5h-1.5zM221.4 497.5h1.5v1.5h-1.5zM221.8 497.6h1.5v1.5h-1.5zM224.2 497.6h1.5v1.5h-1.5zM225.4 497.5h1.5v1.5h-1.5zM227.4 497.8h1.5v1.5h-1.5zM229.7 497.6h1.5v1.5h-1.5zM233.1 497.8h1.5v1.5h-1.5zM178.9 498.0h1.5v1.5h-1.5zM190.2 498.3h1.5v1.5h-1.5zM197.0 498.1h1.5v1.5h-1.5zM198.6 498.4h1.5v1.5h-1.5zM201.7 498.0h1.5v1.5h-1.5zM202.2 498.4h1.5v1.5h-1.5zM202.0 498.4h1.5v1.5h-1.5zM203.0 498.0h1.5v1.5h-1.5zM203.6 498.0h1.5v1.5h-1.5zM203.9 498.2h1.5v1.5h-1.5zM204.2 498.3h1.5v1.5h-1.5zM204.8 498.0h1.5v1.5h-1.5zM205.6 498.3h1.5v1.5h-1.5zM207.4 498.0h1.5v1.5h-1.5zM208.0 498.3h1.5v1.5h-1.5zM208.3 498.3h1.5v1.5h-1.5zM209.4 498.0h1.5v1.5h-1.5zM210.6 498.3h1.5v1.5h-1.5zM213.5 498.0h1.5v1.5h-1.5zM216.8 498.1h1.5v1.5h-1.5zM218.6 498.4h1.5v1.5h-1.5zM218.7 498.2h1.5v1.5h-1.5zM220.4 498.3h1.5v1.5h-1.5zM221.1 498.4h1.5v1.5h-1.5zM221.5 498.0h1.5v1.5h-1.5zM225.7 498.3h1.5v1.5h-1.5zM228.9 498.1h1.5v1.5h-1.5zM228.9 498.0h1.5v1.5h-1.5zM229.8 498.2h1.5v1.5h-1.5zM232.2 498.4h1.5v1.5h-1.5zM232.2 498.1h1.5v1.5h-1.5zM232.6 498.0h1.5v1.5h-1.5zM232.3 498.2h1.5v1.5h-1.5zM232.3 498.3h1.5v1.5h-1.5zM182.4 498.8h1.5v1.5h-1.5zM195.1 498.9h1.5v1.5h-1.5zM199.1 498.6h1.5v1.5h-1.5zM204.1 498.6h1.5v1.5h-1.5zM204.6 498.7h1.5v1.5h-1.5zM204.5 498.7h1.5v1.5h-1.5zM205.7 498.5h1.5v1.5h-1.5zM207.8 498.8h1.5v1.5h-1.5zM209.2 498.9h1.5v1.5h-1.5zM210.7 498.6h1.5v1.5h-1.5zM210.4 498.6h1.5v1.5h-1.5zM213.3 498.9h1.5v1.5h-1.5zM215.1 498.5h1.5v1.5h-1.5zM227.5 498.8h1.5v1.5h-1.5zM231.7 498.7h1.5v1.5h-1.5zM172.6 499.0h1.5v1.5h-1.5zM183.7 499.4h1.5v1.5h-1.5zM191.6 499.2h1.5v1.5h-1.5zM192.3 499.2h1.5v1.5h-1.5zM194.0 499.2h1.5v1.5h-1.5zM196.6 499.4h1.5v1.5h-1.5zM197.0 499.1h1.5v1.5h-1.5zM197.7 499.1h1.5v1.5h-1.5zM197.5 499.3h1.5v1.5h-1.5zM197.3 499.2h1.5v1.5h-1.5zM198.8 499.3h1.5v1.5h-1.5zM199.3 499.1h1.5v1.5h-1.5zM199.9 499.0h1.5v1.5h-1.5zM202.4 499.1h1.5v1.5h-1.5zM203.0 499.3h1.5v1.5h-1.5zM207.5 499.1h1.5v1.5h-1.5zM209.2 499.1h1.5v1.5h-1.5zM211.4 499.2h1.5v1.5h-1.5zM212.6 499.2h1.5v1.5h-1.5zM212.4 499.2h1.5v1.5h-1.5zM213.0 499.3h1.5v1.5h-1.5zM218.1 499.4h1.5v1.5h-1.5zM218.4 499.4h1.5v1.5h-1.5zM220.6 499.4h1.5v1.5h-1.5zM221.1 499.2h1.5v1.5h-1.5zM222.3 499.3h1.5v1.5h-1.5zM222.6 499.1h1.5v1.5h-1.5zM228.0 499.1h1.5v1.5h-1.5zM231.5 499.1h1.5v1.5h-1.5zM231.9 499.4h1.5v1.5h-1.5zM181.6 499.7h1.5v1.5h-1.5zM184.0 499.7h1.5v1.5h-1.5zM185.1 499.8h1.5v1.5h-1.5zM195.3 499.6h1.5v1.5h-1.5zM196.0 499.6h1.5v1.5h-1.5zM196.1 499.9h1.5v1.5h-1.5zM197.0 499.6h1.5v1.5h-1.5zM204.0 499.7h1.5v1.5h-1.5zM205.0 499.6h1.5v1.5h-1.5zM205.4 499.5h1.5v1.5h-1.5zM205.9 499.6h1.5v1.5h-1.5zM207.4 499.7h1.5v1.5h-1.5zM209.1 499.9h1.5v1.5h-1.5zM209.5 499.5h1.5v1.5h-1.5zM209.5 499.8h1.5v1.5h-1.5zM215.3 499.7h1.5v1.5h-1.5zM215.9 499.7h1.5v1.5h-1.5zM221.3 499.9h1.5v1.5h-1.5zM221.6 499.9h1.5v1.5h-1.5zM221.3 499.9h1.5v1.5h-1.5zM226.1 499.9h1.5v1.5h-1.5zM226.7 499.8h1.5v1.5h-1.5zM228.4 499.6h1.5v1.5h-1.5zM228.8 499.6h1.5v1.5h-1.5zM229.5 499.9h1.5v1.5h-1.5zM229.9 499.6h1.5v1.5h-1.5zM171.3 500.2h1.5v1.5h-1.5zM190.0 500.1h1.5v1.5h-1.5zM191.4 500.1h1.5v1.5h-1.5zM192.1 500.1h1.5v1.5h-1.5zM192.6 500.2h1.5v1.5h-1.5zM196.9 500.1h1.5v1.5h-1.5zM199.2 500.3h1.5v1.5h-1.5zM199.0 500.1h1.5v1.5h-1.5zM199.4 500.0h1.5v1.5h-1.5zM199.9 500.1h1.5v1.5h-1.5zM200.2 500.3h1.5v1.5h-1.5zM202.7 500.1h1.5v1.5h-1.5zM206.3 500.3h1.5v1.5h-1.5zM212.0 500.0h1.5v1.5h-1.5zM212.3 500.4h1.5v1.5h-1.5zM213.3 500.2h1.5v1.5h-1.5zM215.3 500.4h1.5v1.5h-1.5zM219.4 500.1h1.5v1.5h-1.5zM223.2 500.1h1.5v1.5h-1.5zM223.4 500.3h1.5v1.5h-1.5zM224.5 500.2h1.5v1.5h-1.5zM226.2 500.2h1.5v1.5h-1.5zM227.2 500.3h1.5v1.5h-1.5zM227.4 500.2h1.5v1.5h-1.5zM230.2 500.4h1.5v1.5h-1.5zM170.2 500.8h1.5v1.5h-1.5zM187.6 500.5h1.5v1.5h-1.5zM189.0 500.6h1.5v1.5h-1.5zM193.5 500.5h1.5v1.5h-1.5zM194.6 500.6h1.5v1.5h-1.5zM194.6 500.7h1.5v1.5h-1.5zM195.9 500.8h1.5v1.5h-1.5zM196.9 500.9h1.5v1.5h-1.5zM199.5 500.7h1.5v1.5h-1.5zM199.3 500.7h1.5v1.5h-1.5zM201.1 500.8h1.5v1.5h-1.5zM200.9 500.5h1.5v1.5h-1.5zM204.7 500.9h1.5v1.5h-1.5zM207.2 500.9h1.5v1.5h-1.5zM207.6 500.7h1.5v1.5h-1.5zM210.2 500.5h1.5v1.5h-1.5zM210.1 500.5h1.5v1.5h-1.5zM209.8 500.8h1.5v1.5h-1.5zM211.1 500.7h1.5v1.5h-1.5zM214.5 500.7h1.5v1.5h-1.5zM215.4 500.8h1.5v1.5h-1.5zM215.8 500.9h1.5v1.5h-1.5zM217.3 500.8h1.5v1.5h-1.5zM219.7 500.8h1.5v1.5h-1.5zM221.5 500.5h1.5v1.5h-1.5zM221.9 500.6h1.5v1.5h-1.5zM223.6 500.5h1.5v1.5h-1.5zM224.2 500.5h1.5v1.5h-1.5zM224.4 500.7h1.5v1.5h-1.5zM225.4 500.6h1.5v1.5h-1.5zM189.6 501.3h1.5v1.5h-1.5zM193.6 501.2h1.5v1.5h-1.5zM193.9 501.2h1.5v1.5h-1.5zM196.6 501.4h1.5v1.5h-1.5zM197.4 501.2h1.5v1.5h-1.5zM200.1 501.1h1.5v1.5h-1.5zM200.5 501.0h1.5v1.5h-1.5zM201.7 501.4h1.5v1.5h-1.5zM209.3 501.0h1.5v1.5h-1.5zM209.6 501.3h1.5v1.5h-1.5zM211.6 501.1h1.5v1.5h-1.5zM216.4 501.0h1.5v1.5h-1.5zM217.6 501.4h1.5v1.5h-1.5zM218.6 501.4h1.5v1.5h-1.5zM218.7 501.0h1.5v1.5h-1.5zM219.2 501.1h1.5v1.5h-1.5zM219.4 501.4h1.5v1.5h-1.5zM223.3 501.1h1.5v1.5h-1.5zM174.6 501.8h1.5v1.5h-1.5zM179.7 501.9h1.5v1.5h-1.5zM186.0 501.6h1.5v1.5h-1.5zM191.5 501.7h1.5v1.5h-1.5zM193.6 501.5h1.5v1.5h-1.5zM194.3 501.8h1.5v1.5h-1.5zM199.8 501.6h1.5v1.5h-1.5zM200.3 501.5h1.5v1.5h-1.5zM202.0 501.9h1.5v1.5h-1.5zM203.3 501.6h1.5v1.5h-1.5zM203.9 501.9h1.5v1.5h-1.5zM207.4 501.7h1.5v1.5h-1.5zM208.4 501.8h1.5v1.5h-1.5zM210.6 501.8h1.5v1.5h-1.5zM212.2 501.9h1.5v1.5h-1.5zM213.4 501.7h1.5v1.5h-1.5zM216.2 501.7h1.5v1.5h-1.5zM219.2 501.8h1.5v1.5h-1.5zM219.9 501.6h1.5v1.5h-1.5zM224.3 501.9h1.5v1.5h-1.5zM224.3 501.8h1.5v1.5h-1.5zM227.1 501.9h1.5v1.5h-1.5zM228.6 501.8h1.5v1.5h-1.5zM180.4 502.1h1.5v1.5h-1.5zM182.7 502.1h1.5v1.5h-1.5zM185.7 502.2h1.5v1.5h-1.5zM185.5 502.0h1.5v1.5h-1.5zM186.1 502.3h1.5v1.5h-1.5zM187.8 502.4h1.5v1.5h-1.5zM189.1 502.3h1.5v1.5h-1.5zM189.6 502.3h1.5v1.5h-1.5zM190.3 502.0h1.5v1.5h-1.5zM192.8 502.1h1.5v1.5h-1.5zM196.2 502.4h1.5v1.5h-1.5zM197.7 502.1h1.5v1.5h-1.5zM199.0 502.4h1.5v1.5h-1.5zM199.1 502.1h1.5v1.5h-1.5zM201.0 502.2h1.5v1.5h-1.5zM204.2 502.0h1.5v1.5h-1.5zM206.1 502.0h1.5v1.5h-1.5zM208.5 502.2h1.5v1.5h-1.5zM210.1 502.0h1.5v1.5h-1.5zM211.7 502.4h1.5v1.5h-1.5zM213.4 502.3h1.5v1.5h-1.5zM215.1 502.0h1.5v1.5h-1.5zM215.6 502.3h1.5v1.5h-1.5zM220.0 502.2h1.5v1.5h-1.5zM220.4 502.3h1.5v1.5h-1.5zM220.7 502.4h1.5v1.5h-1.5zM221.7 502.0h1.5v1.5h-1.5zM222.1 502.0h1.5v1.5h-1.5zM221.8 502.4h1.5v1.5h-1.5zM224.1 502.4h1.5v1.5h-1.5zM224.5 502.2h1.5v1.5h-1.5zM224.5 502.3h1.5v1.5h-1.5zM225.6 502.4h1.5v1.5h-1.5zM227.7 502.3h1.5v1.5h-1.5zM190.7 502.7h1.5v1.5h-1.5zM191.7 502.8h1.5v1.5h-1.5zM191.7 502.8h1.5v1.5h-1.5zM192.7 502.5h1.5v1.5h-1.5zM192.9 502.7h1.5v1.5h-1.5zM193.4 502.7h1.5v1.5h-1.5zM194.1 502.8h1.5v1.5h-1.5zM195.2 502.7h1.5v1.5h-1.5zM198.0 502.8h1.5v1.5h-1.5zM201.2 502.6h1.5v1.5h-1.5zM202.3 502.8h1.5v1.5h-1.5zM203.0 502.8h1.5v1.5h-1.5zM203.8 502.5h1.5v1.5h-1.5zM205.3 502.9h1.5v1.5h-1.5zM206.0 502.6h1.5v1.5h-1.5zM206.8 502.7h1.5v1.5h-1.5zM209.8 502.6h1.5v1.5h-1.5zM210.6 502.9h1.5v1.5h-1.5zM210.5 502.9h1.5v1.5h-1.5zM211.2 502.7h1.5v1.5h-1.5zM217.0 502.8h1.5v1.5h-1.5zM218.6 502.7h1.5v1.5h-1.5zM222.1 502.8h1.5v1.5h-1.5zM223.0 502.6h1.5v1.5h-1.5zM224.0 502.8h1.5v1.5h-1.5zM225.5 502.5h1.5v1.5h-1.5zM226.0 502.9h1.5v1.5h-1.5zM226.7 502.7h1.5v1.5h-1.5zM174.2 503.4h1.5v1.5h-1.5zM173.9 503.3h1.5v1.5h-1.5zM183.5 503.0h1.5v1.5h-1.5zM184.5 503.2h1.5v1.5h-1.5zM184.5 503.2h1.5v1.5h-1.5zM187.7 503.2h1.5v1.5h-1.5zM188.4 503.3h1.5v1.5h-1.5zM190.6 503.1h1.5v1.5h-1.5zM192.2 503.2h1.5v1.5h-1.5zM194.8 503.3h1.5v1.5h-1.5zM195.3 503.1h1.5v1.5h-1.5zM196.8 503.0h1.5v1.5h-1.5zM197.8 503.3h1.5v1.5h-1.5zM198.2 503.0h1.5v1.5h-1.5zM202.1 503.2h1.5v1.5h-1.5zM202.7 503.0h1.5v1.5h-1.5zM203.9 503.3h1.5v1.5h-1.5zM206.0 503.4h1.5v1.5h-1.5zM206.5 503.3h1.5v1.5h-1.5zM207.2 503.3h1.5v1.5h-1.5zM211.8 503.1h1.5v1.5h-1.5zM212.5 503.2h1.5v1.5h-1.5zM213.2 503.4h1.5v1.5h-1.5zM215.6 503.4h1.5v1.5h-1.5zM217.2 503.0h1.5v1.5h-1.5zM219.7 503.2h1.5v1.5h-1.5zM220.9 503.3h1.5v1.5h-1.5zM220.8 503.3h1.5v1.5h-1.5zM221.1 503.0h1.5v1.5h-1.5zM223.9 503.1h1.5v1.5h-1.5zM224.7 503.3h1.5v1.5h-1.5zM225.1 503.3h1.5v1.5h-1.5zM184.2 503.5h1.5v1.5h-1.5zM189.1 503.5h1.5v1.5h-1.5zM189.0 503.6h1.5v1.5h-1.5zM192.0 503.6h1.5v1.5h-1.5zM194.5 503.7h1.5v1.5h-1.5zM196.7 503.8h1.5v1.5h-1.5zM198.3 503.6h1.5v1.5h-1.5zM200.7 503.5h1.5v1.5h-1.5zM201.0 503.8h1.5v1.5h-1.5zM204.1 503.9h1.5v1.5h-1.5zM206.7 503.7h1.5v1.5h-1.5zM209.3 503.7h1.5v1.5h-1.5zM210.5 503.9h1.5v1.5h-1.5zM213.7 503.5h1.5v1.5h-1.5zM214.3 503.9h1.5v1.5h-1.5zM214.6 503.6h1.5v1.5h-1.5zM214.6 503.8h1.5v1.5h-1.5zM217.2 503.5h1.5v1.5h-1.5zM216.9 503.8h1.5v1.5h-1.5zM218.9 503.6h1.5v1.5h-1.5zM219.3 503.9h1.5v1.5h-1.5zM220.5 503.6h1.5v1.5h-1.5zM182.2 504.3h1.5v1.5h-1.5zM184.6 504.2h1.5v1.5h-1.5zM184.8 504.3h1.5v1.5h-1.5zM185.6 504.2h1.5v1.5h-1.5zM185.9 504.4h1.5v1.5h-1.5zM186.7 504.1h1.5v1.5h-1.5zM186.5 504.1h1.5v1.5h-1.5zM187.8 504.2h1.5v1.5h-1.5zM188.7 504.2h1.5v1.5h-1.5zM190.8 504.3h1.5v1.5h-1.5zM191.8 504.2h1.5v1.5h-1.5zM193.0 504.1h1.5v1.5h-1.5zM197.3 504.2h1.5v1.5h-1.5zM198.1 504.0h1.5v1.5h-1.5zM204.0 504.2h1.5v1.5h-1.5zM205.7 504.3h1.5v1.5h-1.5zM207.7 504.1h1.5v1.5h-1.5zM211.2 504.4h1.5v1.5h-1.5zM212.3 504.4h1.5v1.5h-1.5zM212.9 504.4h1.5v1.5h-1.5zM213.2 504.0h1.5v1.5h-1.5zM217.9 504.1h1.5v1.5h-1.5zM217.9 504.0h1.5v1.5h-1.5zM219.7 504.4h1.5v1.5h-1.5zM222.0 504.0h1.5v1.5h-1.5zM224.7 504.3h1.5v1.5h-1.5zM226.2 504.0h1.5v1.5h-1.5zM175.6 504.9h1.5v1.5h-1.5zM176.3 504.8h1.5v1.5h-1.5zM177.3 504.7h1.5v1.5h-1.5zM177.5 504.5h1.5v1.5h-1.5zM178.4 504.6h1.5v1.5h-1.5zM180.8 504.5h1.5v1.5h-1.5zM182.1 504.7h1.5v1.5h-1.5zM184.4 504.8h1.5v1.5h-1.5zM187.0 504.7h1.5v1.5h-1.5zM187.9 504.6h1.5v1.5h-1.5zM191.8 504.5h1.5v1.5h-1.5zM191.8 504.8h1.5v1.5h-1.5zM192.2 504.5h1.5v1.5h-1.5zM193.5 504.9h1.5v1.5h-1.5zM195.6 504.9h1.5v1.5h-1.5zM196.6 504.9h1.5v1.5h-1.5zM196.9 504.5h1.5v1.5h-1.5zM196.8 504.9h1.5v1.5h-1.5zM198.9 504.9h1.5v1.5h-1.5zM200.6 504.6h1.5v1.5h-1.5zM201.5 504.6h1.5v1.5h-1.5zM202.3 504.9h1.5v1.5h-1.5zM203.2 504.6h1.5v1.5h-1.5zM203.4 504.7h1.5v1.5h-1.5zM204.9 504.6h1.5v1.5h-1.5zM205.3 504.6h1.5v1.5h-1.5zM208.1 504.5h1.5v1.5h-1.5zM209.4 504.7h1.5v1.5h-1.5zM209.8 504.6h1.5v1.5h-1.5zM213.8 504.7h1.5v1.5h-1.5zM215.4 504.8h1.5v1.5h-1.5zM215.8 504.5h1.5v1.5h-1.5zM217.6 504.7h1.5v1.5h-1.5zM219.3 504.8h1.5v1.5h-1.5zM178.0 505.1h1.5v1.5h-1.5zM179.0 505.0h1.5v1.5h-1.5zM182.8 505.1h1.5v1.5h-1.5zM183.3 505.2h1.5v1.5h-1.5zM185.5 505.2h1.5v1.5h-1.5zM188.6 505.0h1.5v1.5h-1.5zM190.2 505.2h1.5v1.5h-1.5zM191.3 505.2h1.5v1.5h-1.5zM195.6 505.0h1.5v1.5h-1.5zM199.5 505.3h1.5v1.5h-1.5zM199.9 505.1h1.5v1.5h-1.5zM201.9 505.2h1.5v1.5h-1.5zM204.5 505.4h1.5v1.5h-1.5zM205.4 505.0h1.5v1.5h-1.5zM205.4 505.3h1.5v1.5h-1.5zM206.5 505.0h1.5v1.5h-1.5zM208.2 505.4h1.5v1.5h-1.5zM208.7 505.1h1.5v1.5h-1.5zM209.5 505.2h1.5v1.5h-1.5zM216.3 505.0h1.5v1.5h-1.5zM217.7 505.2h1.5v1.5h-1.5zM219.4 505.0h1.5v1.5h-1.5zM221.9 505.1h1.5v1.5h-1.5zM223.0 505.1h1.5v1.5h-1.5zM224.1 505.1h1.5v1.5h-1.5zM223.8 505.1h1.5v1.5h-1.5zM171.4 505.8h1.5v1.5h-1.5zM171.9 505.6h1.5v1.5h-1.5zM175.8 505.5h1.5v1.5h-1.5zM177.8 505.5h1.5v1.5h-1.5zM180.7 505.9h1.5v1.5h-1.5zM181.6 505.6h1.5v1.5h-1.5zM181.7 505.9h1.5v1.5h-1.5zM182.9 505.5h1.5v1.5h-1.5zM183.0 505.6h1.5v1.5h-1.5zM183.6 505.9h1.5v1.5h-1.5zM183.6 505.9h1.5v1.5h-1.5zM184.6 505.7h1.5v1.5h-1.5zM188.2 505.7h1.5v1.5h-1.5zM188.8 505.6h1.5v1.5h-1.5zM189.6 505.9h1.5v1.5h-1.5zM192.6 505.8h1.5v1.5h-1.5zM197.0 505.6h1.5v1.5h-1.5zM197.9 505.5h1.5v1.5h-1.5zM201.8 505.9h1.5v1.5h-1.5zM203.8 505.8h1.5v1.5h-1.5zM206.9 505.7h1.5v1.5h-1.5zM207.8 505.8h1.5v1.5h-1.5zM208.0 505.9h1.5v1.5h-1.5zM208.7 505.8h1.5v1.5h-1.5zM209.4 505.5h1.5v1.5h-1.5zM209.3 505.7h1.5v1.5h-1.5zM210.6 505.5h1.5v1.5h-1.5zM212.6 505.9h1.5v1.5h-1.5zM216.2 505.8h1.5v1.5h-1.5zM216.6 505.9h1.5v1.5h-1.5zM219.0 505.7h1.5v1.5h-1.5zM220.4 505.7h1.5v1.5h-1.5zM171.2 506.3h1.5v1.5h-1.5zM175.5 506.1h1.5v1.5h-1.5zM177.2 506.3h1.5v1.5h-1.5zM176.9 506.2h1.5v1.5h-1.5zM177.3 506.0h1.5v1.5h-1.5zM179.8 506.0h1.5v1.5h-1.5zM180.3 506.4h1.5v1.5h-1.5zM180.9 506.0h1.5v1.5h-1.5zM185.4 506.3h1.5v1.5h-1.5zM185.8 506.0h1.5v1.5h-1.5zM188.2 506.2h1.5v1.5h-1.5zM190.1 506.4h1.5v1.5h-1.5zM190.5 506.0h1.5v1.5h-1.5zM192.9 506.1h1.5v1.5h-1.5zM193.8 506.0h1.5v1.5h-1.5zM195.2 506.3h1.5v1.5h-1.5zM196.2 506.2h1.5v1.5h-1.5zM196.4 506.0h1.5v1.5h-1.5zM196.4 506.1h1.5v1.5h-1.5zM198.1 506.2h1.5v1.5h-1.5zM199.5 506.4h1.5v1.5h-1.5zM201.3 506.1h1.5v1.5h-1.5zM201.5 506.0h1.5v1.5h-1.5zM204.0 506.4h1.5v1.5h-1.5zM206.6 506.1h1.5v1.5h-1.5zM207.7 506.0h1.5v1.5h-1.5zM207.5 506.3h1.5v1.5h-1.5zM212.2 506.1h1.5v1.5h-1.5zM212.4 506.4h1.5v1.5h-1.5zM215.5 506.4h1.5v1.5h-1.5zM215.8 506.0h1.5v1.5h-1.5zM216.2 506.4h1.5v1.5h-1.5zM220.7 506.4h1.5v1.5h-1.5zM175.2 506.5h1.5v1.5h-1.5zM180.9 506.6h1.5v1.5h-1.5zM181.2 506.9h1.5v1.5h-1.5zM180.9 506.8h1.5v1.5h-1.5zM185.1 506.6h1.5v1.5h-1.5zM188.0 506.7h1.5v1.5h-1.5zM190.0 506.7h1.5v1.5h-1.5zM190.6 506.6h1.5v1.5h-1.5zM191.2 506.6h1.5v1.5h-1.5zM191.8 506.6h1.5v1.5h-1.5zM196.2 506.8h1.5v1.5h-1.5zM198.9 506.7h1.5v1.5h-1.5zM201.0 506.7h1.5v1.5h-1.5zM203.1 506.8h1.5v1.5h-1.5zM206.9 506.8h1.5v1.5h-1.5zM207.3 506.7h1.5v1.5h-1.5zM208.0 506.7h1.5v1.5h-1.5zM210.5 506.7h1.5v1.5h-1.5zM213.7 506.5h1.5v1.5h-1.5zM213.5 506.6h1.5v1.5h-1.5zM214.4 506.5h1.5v1.5h-1.5zM215.1 506.8h1.5v1.5h-1.5zM215.7 506.6h1.5v1.5h-1.5zM218.3 506.7h1.5v1.5h-1.5zM218.9 506.8h1.5v1.5h-1.5zM219.5 506.9h1.5v1.5h-1.5zM220.3 506.9h1.5v1.5h-1.5zM221.6 506.6h1.5v1.5h-1.5zM174.0 507.2h1.5v1.5h-1.5zM179.0 507.2h1.5v1.5h-1.5zM181.1 507.3h1.5v1.5h-1.5zM185.3 507.3h1.5v1.5h-1.5zM185.5 507.2h1.5v1.5h-1.5zM186.9 507.2h1.5v1.5h-1.5zM186.9 507.3h1.5v1.5h-1.5zM188.2 507.4h1.5v1.5h-1.5zM189.4 507.2h1.5v1.5h-1.5zM190.7 507.2h1.5v1.5h-1.5zM191.9 507.3h1.5v1.5h-1.5zM192.3 507.0h1.5v1.5h-1.5zM192.8 507.3h1.5v1.5h-1.5zM193.5 507.0h1.5v1.5h-1.5zM196.2 507.2h1.5v1.5h-1.5zM200.3 507.4h1.5v1.5h-1.5zM201.2 507.2h1.5v1.5h-1.5zM201.4 507.2h1.5v1.5h-1.5zM202.6 507.3h1.5v1.5h-1.5zM202.7 507.1h1.5v1.5h-1.5zM205.0 507.2h1.5v1.5h-1.5zM207.5 507.2h1.5v1.5h-1.5zM208.7 507.3h1.5v1.5h-1.5zM209.6 507.3h1.5v1.5h-1.5zM211.3 507.3h1.5v1.5h-1.5zM214.6 507.2h1.5v1.5h-1.5zM215.0 507.3h1.5v1.5h-1.5zM220.7 507.0h1.5v1.5h-1.5zM173.3 507.6h1.5v1.5h-1.5zM174.7 507.7h1.5v1.5h-1.5zM181.5 507.8h1.5v1.5h-1.5zM181.8 507.7h1.5v1.5h-1.5zM185.1 507.7h1.5v1.5h-1.5zM187.3 507.8h1.5v1.5h-1.5zM190.1 507.7h1.5v1.5h-1.5zM191.5 507.9h1.5v1.5h-1.5zM195.1 507.7h1.5v1.5h-1.5zM196.2 507.9h1.5v1.5h-1.5zM196.8 507.8h1.5v1.5h-1.5zM203.5 507.5h1.5v1.5h-1.5zM204.7 507.8h1.5v1.5h-1.5zM205.6 507.5h1.5v1.5h-1.5zM206.4 507.9h1.5v1.5h-1.5zM208.3 507.6h1.5v1.5h-1.5zM212.6 507.7h1.5v1.5h-1.5zM215.9 507.9h1.5v1.5h-1.5zM217.6 507.6h1.5v1.5h-1.5zM218.1 507.9h1.5v1.5h-1.5zM220.2 507.6h1.5v1.5h-1.5zM175.1 508.3h1.5v1.5h-1.5zM176.1 508.3h1.5v1.5h-1.5zM176.4 508.1h1.5v1.5h-1.5zM178.1 508.4h1.5v1.5h-1.5zM179.2 508.1h1.5v1.5h-1.5zM179.6 508.1h1.5v1.5h-1.5zM181.1 508.4h1.5v1.5h-1.5zM181.2 508.0h1.5v1.5h-1.5zM180.9 508.2h1.5v1.5h-1.5zM183.5 508.3h1.5v1.5h-1.5zM186.7 508.4h1.5v1.5h-1.5zM187.1 508.0h1.5v1.5h-1.5zM187.4 508.1h1.5v1.5h-1.5zM188.1 508.4h1.5v1.5h-1.5zM189.4 508.0h1.5v1.5h-1.5zM191.7 508.3h1.5v1.5h-1.5zM196.7 508.3h1.5v1.5h-1.5zM197.6 508.2h1.5v1.5h-1.5zM198.5 508.0h1.5v1.5h-1.5zM199.3 508.0h1.5v1.5h-1.5zM199.3 508.1h1.5v1.5h-1.5zM201.2 508.0h1.5v1.5h-1.5zM200.8 508.1h1.5v1.5h-1.5zM201.3 508.0h1.5v1.5h-1.5zM202.2 508.3h1.5v1.5h-1.5zM207.6 508.3h1.5v1.5h-1.5zM209.2 508.4h1.5v1.5h-1.5zM210.5 508.2h1.5v1.5h-1.5zM210.9 508.0h1.5v1.5h-1.5zM211.3 508.2h1.5v1.5h-1.5zM212.2 508.2h1.5v1.5h-1.5zM212.4 508.2h1.5v1.5h-1.5zM213.4 508.1h1.5v1.5h-1.5zM216.4 508.2h1.5v1.5h-1.5zM217.9 508.2h1.5v1.5h-1.5zM219.1 508.0h1.5v1.5h-1.5zM220.1 508.2h1.5v1.5h-1.5zM171.7 508.5h1.5v1.5h-1.5zM171.3 508.9h1.5v1.5h-1.5zM171.5 508.8h1.5v1.5h-1.5zM171.5 508.7h1.5v1.5h-1.5zM172.2 508.7h1.5v1.5h-1.5zM172.6 508.5h1.5v1.5h-1.5zM175.5 508.8h1.5v1.5h-1.5zM176.8 508.6h1.5v1.5h-1.5zM181.6 508.6h1.5v1.5h-1.5zM181.9 508.6h1.5v1.5h-1.5zM185.2 508.8h1.5v1.5h-1.5zM185.5 508.6h1.5v1.5h-1.5zM185.7 508.9h1.5v1.5h-1.5zM186.8 508.9h1.5v1.5h-1.5zM190.1 508.6h1.5v1.5h-1.5zM190.4 508.6h1.5v1.5h-1.5zM192.7 508.9h1.5v1.5h-1.5zM193.6 508.5h1.5v1.5h-1.5zM197.4 508.9h1.5v1.5h-1.5zM199.0 508.9h1.5v1.5h-1.5zM200.9 508.8h1.5v1.5h-1.5zM202.3 508.8h1.5v1.5h-1.5zM203.8 508.9h1.5v1.5h-1.5zM207.0 508.9h1.5v1.5h-1.5zM211.2 508.8h1.5v1.5h-1.5zM211.2 508.5h1.5v1.5h-1.5zM216.7 508.9h1.5v1.5h-1.5zM218.0 508.7h1.5v1.5h-1.5zM218.7 508.6h1.5v1.5h-1.5zM218.5 508.8h1.5v1.5h-1.5zM170.8 509.2h1.5v1.5h-1.5zM172.6 509.2h1.5v1.5h-1.5zM176.6 509.4h1.5v1.5h-1.5zM176.8 509.4h1.5v1.5h-1.5zM179.0 509.4h1.5v1.5h-1.5zM181.4 509.4h1.5v1.5h-1.5zM186.9 509.0h1.5v1.5h-1.5zM186.9 509.0h1.5v1.5h-1.5zM189.2 509.0h1.5v1.5h-1.5zM191.4 509.3h1.5v1.5h-1.5zM192.8 509.3h1.5v1.5h-1.5zM194.0 509.1h1.5v1.5h-1.5zM196.1 509.4h1.5v1.5h-1.5zM196.0 509.1h1.5v1.5h-1.5zM196.7 509.2h1.5v1.5h-1.5zM196.9 509.0h1.5v1.5h-1.5zM197.6 509.3h1.5v1.5h-1.5zM201.5 509.1h1.5v1.5h-1.5zM204.5 509.1h1.5v1.5h-1.5zM205.1 509.4h1.5v1.5h-1.5zM209.0 509.2h1.5v1.5h-1.5zM208.9 509.2h1.5v1.5h-1.5zM211.2 509.3h1.5v1.5h-1.5zM214.0 509.4h1.5v1.5h-1.5zM215.2 509.1h1.5v1.5h-1.5zM216.0 509.3h1.5v1.5h-1.5zM217.7 509.3h1.5v1.5h-1.5zM170.9 509.5h1.5v1.5h-1.5zM172.1 509.9h1.5v1.5h-1.5zM174.5 509.7h1.5v1.5h-1.5zM175.6 509.5h1.5v1.5h-1.5zM180.6 509.5h1.5v1.5h-1.5zM182.1 509.7h1.5v1.5h-1.5zM181.8 509.8h1.5v1.5h-1.5zM182.6 509.5h1.5v1.5h-1.5zM183.3 509.8h1.5v1.5h-1.5zM184.1 509.9h1.5v1.5h-1.5zM184.4 509.8h1.5v1.5h-1.5zM189.1 509.7h1.5v1.5h-1.5zM192.0 509.9h1.5v1.5h-1.5zM193.3 509.5h1.5v1.5h-1.5zM194.2 509.7h1.5v1.5h-1.5zM195.2 509.7h1.5v1.5h-1.5zM196.3 509.8h1.5v1.5h-1.5zM200.5 509.7h1.5v1.5h-1.5zM203.2 509.5h1.5v1.5h-1.5zM203.0 509.7h1.5v1.5h-1.5zM203.8 509.6h1.5v1.5h-1.5zM205.1 509.6h1.5v1.5h-1.5zM205.1 509.6h1.5v1.5h-1.5zM204.9 509.7h1.5v1.5h-1.5zM206.4 509.6h1.5v1.5h-1.5zM210.2 509.9h1.5v1.5h-1.5zM210.7 509.7h1.5v1.5h-1.5zM211.5 509.7h1.5v1.5h-1.5zM212.5 509.6h1.5v1.5h-1.5zM213.6 509.7h1.5v1.5h-1.5zM214.4 509.7h1.5v1.5h-1.5zM214.7 509.9h1.5v1.5h-1.5zM216.0 509.8h1.5v1.5h-1.5zM218.1 509.7h1.5v1.5h-1.5zM170.7 510.4h1.5v1.5h-1.5zM170.8 510.4h1.5v1.5h-1.5zM170.9 510.4h1.5v1.5h-1.5zM174.6 510.3h1.5v1.5h-1.5zM174.9 510.2h1.5v1.5h-1.5zM177.7 510.1h1.5v1.5h-1.5zM177.8 510.3h1.5v1.5h-1.5zM178.0 510.0h1.5v1.5h-1.5zM183.3 510.3h1.5v1.5h-1.5zM187.4 510.4h1.5v1.5h-1.5zM189.9 510.2h1.5v1.5h-1.5zM191.0 510.4h1.5v1.5h-1.5zM194.4 510.2h1.5v1.5h-1.5zM198.5 510.4h1.5v1.5h-1.5zM204.9 510.0h1.5v1.5h-1.5zM208.2 510.1h1.5v1.5h-1.5zM212.1 510.0h1.5v1.5h-1.5zM211.8 510.2h1.5v1.5h-1.5zM212.8 510.1h1.5v1.5h-1.5zM216.6 510.2h1.5v1.5h-1.5zM173.2 510.8h1.5v1.5h-1.5zM174.8 510.5h1.5v1.5h-1.5zM176.2 510.6h1.5v1.5h-1.5zM178.7 510.7h1.5v1.5h-1.5zM179.0 510.6h1.5v1.5h-1.5zM179.4 510.9h1.5v1.5h-1.5zM180.0 510.9h1.5v1.5h-1.5zM180.6 510.6h1.5v1.5h-1.5zM181.8 510.7h1.5v1.5h-1.5zM183.5 510.7h1.5v1.5h-1.5zM185.3 510.9h1.5v1.5h-1.5zM187.2 510.6h1.5v1.5h-1.5zM190.1 510.7h1.5v1.5h-1.5zM190.7 510.6h1.5v1.5h-1.5zM192.0 510.9h1.5v1.5h-1.5zM192.6 510.5h1.5v1.5h-1.5zM193.2 510.8h1.5v1.5h-1.5zM196.3 510.9h1.5v1.5h-1.5zM197.1 510.8h1.5v1.5h-1.5zM198.5 510.6h1.5v1.5h-1.5zM198.8 510.9h1.5v1.5h-1.5zM199.4 510.9h1.5v1.5h-1.5zM200.9 510.6h1.5v1.5h-1.5zM202.9 510.5h1.5v1.5h-1.5zM204.5 510.5h1.5v1.5h-1.5zM205.4 510.8h1.5v1.5h-1.5zM206.2 510.7h1.5v1.5h-1.5zM206.4 510.7h1.5v1.5h-1.5zM211.3 510.5h1.5v1.5h-1.5zM211.7 510.9h1.5v1.5h-1.5zM215.7 510.5h1.5v1.5h-1.5zM215.5 510.5h1.5v1.5h-1.5zM170.2 511.2h1.5v1.5h-1.5zM172.6 511.2h1.5v1.5h-1.5zM174.5 511.0h1.5v1.5h-1.5zM175.6 511.0h1.5v1.5h-1.5zM177.1 511.1h1.5v1.5h-1.5zM179.5 511.0h1.5v1.5h-1.5zM180.0 511.0h1.5v1.5h-1.5zM179.8 511.3h1.5v1.5h-1.5zM180.5 511.0h1.5v1.5h-1.5zM181.8 511.4h1.5v1.5h-1.5zM181.8 511.1h1.5v1.5h-1.5zM182.8 511.0h1.5v1.5h-1.5zM184.1 511.2h1.5v1.5h-1.5zM184.3 511.1h1.5v1.5h-1.5zM185.2 511.4h1.5v1.5h-1.5zM186.9 511.0h1.5v1.5h-1.5zM189.8 511.2h1.5v1.5h-1.5zM189.8 511.4h1.5v1.5h-1.5zM191.5 511.2h1.5v1.5h-1.5zM192.9 511.2h1.5v1.5h-1.5zM195.2 511.1h1.5v1.5h-1.5zM195.1 511.1h1.5v1.5h-1.5zM196.7 511.3h1.5v1.5h-1.5zM198.5 511.0h1.5v1.5h-1.5zM201.6 511.3h1.5v1.5h-1.5zM202.9 511.4h1.5v1.5h-1.5zM203.6 511.1h1.5v1.5h-1.5zM204.4 511.0h1.5v1.5h-1.5zM206.5 511.2h1.5v1.5h-1.5zM207.2 511.3h1.5v1.5h-1.5zM207.4 511.3h1.5v1.5h-1.5zM211.2 511.0h1.5v1.5h-1.5zM172.7 511.5h1.5v1.5h-1.5zM174.1 511.8h1.5v1.5h-1.5zM174.5 511.8h1.5v1.5h-1.5zM175.1 511.7h1.5v1.5h-1.5zM176.6 511.7h1.5v1.5h-1.5zM177.1 511.8h1.5v1.5h-1.5zM179.6 511.6h1.5v1.5h-1.5zM181.2 511.8h1.5v1.5h-1.5zM181.3 511.6h1.5v1.5h-1.5zM183.6 511.6h1.5v1.5h-1.5zM186.6 511.7h1.5v1.5h-1.5zM187.2 511.6h1.5v1.5h-1.5zM188.3 511.8h1.5v1.5h-1.5zM190.3 511.5h1.5v1.5h-1.5zM191.9 511.6h1.5v1.5h-1.5zM193.5 511.9h1.5v1.5h-1.5zM195.3 511.7h1.5v1.5h-1.5zM196.4 511.6h1.5v1.5h-1.5zM197.4 511.8h1.5v1.5h-1.5zM198.7 511.6h1.5v1.5h-1.5zM200.7 511.7h1.5v1.5h-1.5zM201.2 511.6h1.5v1.5h-1.5zM200.9 511.7h1.5v1.5h-1.5zM201.5 511.8h1.5v1.5h-1.5zM201.3 511.9h1.5v1.5h-1.5zM202.7 511.6h1.5v1.5h-1.5zM206.9 511.8h1.5v1.5h-1.5zM208.2 511.9h1.5v1.5h-1.5zM209.1 511.5h1.5v1.5h-1.5zM213.2 511.9h1.5v1.5h-1.5zM213.2 511.6h1.5v1.5h-1.5zM172.6 512.2h1.5v1.5h-1.5zM173.3 512.1h1.5v1.5h-1.5zM175.3 512.3h1.5v1.5h-1.5zM175.8 512.0h1.5v1.5h-1.5zM179.6 512.1h1.5v1.5h-1.5zM180.2 512.3h1.5v1.5h-1.5zM181.4 512.2h1.5v1.5h-1.5zM183.4 512.1h1.5v1.5h-1.5zM185.6 512.0h1.5v1.5h-1.5zM186.0 512.1h1.5v1.5h-1.5zM187.2 512.0h1.5v1.5h-1.5zM188.0 512.3h1.5v1.5h-1.5zM189.2 512.1h1.5v1.5h-1.5zM192.2 512.4h1.5v1.5h-1.5zM192.0 512.1h1.5v1.5h-1.5zM192.6 512.2h1.5v1.5h-1.5zM195.2 512.2h1.5v1.5h-1.5zM197.5 512.3h1.5v1.5h-1.5zM199.3 512.0h1.5v1.5h-1.5zM200.5 512.0h1.5v1.5h-1.5zM201.1 512.2h1.5v1.5h-1.5zM201.7 512.3h1.5v1.5h-1.5zM202.9 512.4h1.5v1.5h-1.5zM203.8 512.4h1.5v1.5h-1.5zM204.5 512.3h1.5v1.5h-1.5zM207.0 512.3h1.5v1.5h-1.5zM209.7 512.2h1.5v1.5h-1.5zM211.4 512.1h1.5v1.5h-1.5zM212.3 512.0h1.5v1.5h-1.5zM213.7 512.4h1.5v1.5h-1.5zM213.5 512.3h1.5v1.5h-1.5zM213.5 512.0h1.5v1.5h-1.5zM170.9 512.8h1.5v1.5h-1.5zM172.1 512.7h1.5v1.5h-1.5zM175.2 512.9h1.5v1.5h-1.5zM175.8 512.6h1.5v1.5h-1.5zM177.1 512.9h1.5v1.5h-1.5zM176.8 512.8h1.5v1.5h-1.5zM177.7 512.9h1.5v1.5h-1.5zM178.2 512.6h1.5v1.5h-1.5zM180.4 512.8h1.5v1.5h-1.5zM181.9 512.8h1.5v1.5h-1.5zM185.3 512.5h1.5v1.5h-1.5zM186.2 512.7h1.5v1.5h-1.5zM186.7 512.6h1.5v1.5h-1.5zM187.0 512.8h1.5v1.5h-1.5zM187.5 512.5h1.5v1.5h-1.5zM187.4 512.7h1.5v1.5h-1.5zM187.9 512.8h1.5v1.5h-1.5zM194.2 512.7h1.5v1.5h-1.5zM196.2 512.5h1.5v1.5h-1.5zM197.9 512.6h1.5v1.5h-1.5zM199.8 512.8h1.5v1.5h-1.5zM201.7 512.9h1.5v1.5h-1.5zM202.0 512.5h1.5v1.5h-1.5zM204.1 512.5h1.5v1.5h-1.5zM203.8 512.8h1.5v1.5h-1.5zM208.7 512.9h1.5v1.5h-1.5zM210.6 512.6h1.5v1.5h-1.5zM214.1 512.6h1.5v1.5h-1.5zM170.4 513.2h1.5v1.5h-1.5zM173.0 513.3h1.5v1.5h-1.5zM174.9 513.2h1.5v1.5h-1.5zM180.6 513.4h1.5v1.5h-1.5zM180.4 513.4h1.5v1.5h-1.5zM181.2 513.1h1.5v1.5h-1.5zM182.1 513.4h1.5v1.5h-1.5zM182.3 513.4h1.5v1.5h-1.5zM186.5 513.2h1.5v1.5h-1.5zM187.6 513.0h1.5v1.5h-1.5zM188.5 513.4h1.5v1.5h-1.5zM188.3 513.3h1.5v1.5h-1.5zM192.3 513.0h1.5v1.5h-1.5zM193.0 513.2h1.5v1.5h-1.5zM192.9 513.0h1.5v1.5h-1.5zM195.0 513.3h1.5v1.5h-1.5zM196.3 513.2h1.5v1.5h-1.5zM198.3 513.1h1.5v1.5h-1.5zM198.9 513.2h1.5v1.5h-1.5zM205.5 513.4h1.5v1.5h-1.5zM205.5 513.2h1.5v1.5h-1.5zM206.8 513.2h1.5v1.5h-1.5zM207.1 513.1h1.5v1.5h-1.5zM207.0 513.4h1.5v1.5h-1.5zM208.7 513.4h1.5v1.5h-1.5zM208.7 513.0h1.5v1.5h-1.5zM211.0 513.4h1.5v1.5h-1.5zM170.9 513.8h1.5v1.5h-1.5zM172.1 513.8h1.5v1.5h-1.5zM173.3 513.9h1.5v1.5h-1.5zM179.4 513.5h1.5v1.5h-1.5zM181.9 513.9h1.5v1.5h-1.5zM184.5 513.5h1.5v1.5h-1.5zM186.2 513.7h1.5v1.5h-1.5zM186.3 513.7h1.5v1.5h-1.5zM192.6 513.8h1.5v1.5h-1.5zM193.2 513.8h1.5v1.5h-1.5zM192.8 513.5h1.5v1.5h-1.5zM194.3 513.9h1.5v1.5h-1.5zM194.9 513.6h1.5v1.5h-1.5zM198.6 513.5h1.5v1.5h-1.5zM207.2 513.9h1.5v1.5h-1.5zM208.6 513.7h1.5v1.5h-1.5zM171.7 514.3h1.5v1.5h-1.5zM174.2 514.2h1.5v1.5h-1.5zM175.8 514.0h1.5v1.5h-1.5zM177.6 514.3h1.5v1.5h-1.5zM178.1 514.3h1.5v1.5h-1.5zM180.0 514.4h1.5v1.5h-1.5zM181.8 514.4h1.5v1.5h-1.5zM184.4 514.3h1.5v1.5h-1.5zM185.2 514.4h1.5v1.5h-1.5zM186.5 514.1h1.5v1.5h-1.5zM186.7 514.1h1.5v1.5h-1.5zM186.8 514.1h1.5v1.5h-1.5zM188.4 514.3h1.5v1.5h-1.5zM188.3 514.2h1.5v1.5h-1.5zM194.6 514.3h1.5v1.5h-1.5zM194.7 514.0h1.5v1.5h-1.5zM196.6 514.2h1.5v1.5h-1.5zM198.9 514.4h1.5v1.5h-1.5zM199.4 514.2h1.5v1.5h-1.5zM202.5 514.0h1.5v1.5h-1.5zM202.8 514.4h1.5v1.5h-1.5zM203.1 514.3h1.5v1.5h-1.5zM209.3 514.0h1.5v1.5h-1.5zM210.0 514.3h1.5v1.5h-1.5zM173.7 514.7h1.5v1.5h-1.5zM175.1 514.5h1.5v1.5h-1.5zM175.9 514.6h1.5v1.5h-1.5zM177.0 514.6h1.5v1.5h-1.5zM179.0 514.9h1.5v1.5h-1.5zM180.8 514.8h1.5v1.5h-1.5zM186.4 514.6h1.5v1.5h-1.5zM188.0 514.5h1.5v1.5h-1.5zM189.1 514.7h1.5v1.5h-1.5zM194.1 514.7h1.5v1.5h-1.5zM194.9 514.9h1.5v1.5h-1.5zM196.5 514.7h1.5v1.5h-1.5zM196.4 514.6h1.5v1.5h-1.5zM197.4 514.5h1.5v1.5h-1.5zM199.0 514.7h1.5v1.5h-1.5zM201.0 514.9h1.5v1.5h-1.5zM202.7 514.9h1.5v1.5h-1.5zM203.2 514.5h1.5v1.5h-1.5zM202.8 514.7h1.5v1.5h-1.5zM203.5 514.5h1.5v1.5h-1.5zM204.7 514.9h1.5v1.5h-1.5zM205.2 514.5h1.5v1.5h-1.5zM206.7 514.9h1.5v1.5h-1.5zM207.1 514.6h1.5v1.5h-1.5zM207.2 514.6h1.5v1.5h-1.5zM207.5 514.6h1.5v1.5h-1.5zM207.6 514.5h1.5v1.5h-1.5zM210.0 514.8h1.5v1.5h-1.5zM171.2 515.4h1.5v1.5h-1.5zM173.1 515.1h1.5v1.5h-1.5zM175.2 515.0h1.5v1.5h-1.5zM175.8 515.4h1.5v1.5h-1.5zM178.6 515.1h1.5v1.5h-1.5zM179.8 515.2h1.5v1.5h-1.5zM180.6 515.4h1.5v1.5h-1.5zM181.1 515.1h1.5v1.5h-1.5zM182.3 515.4h1.5v1.5h-1.5zM184.3 515.0h1.5v1.5h-1.5zM185.2 515.1h1.5v1.5h-1.5zM186.8 515.4h1.5v1.5h-1.5zM187.6 515.1h1.5v1.5h-1.5zM189.7 515.4h1.5v1.5h-1.5zM189.5 515.4h1.5v1.5h-1.5zM193.9 515.3h1.5v1.5h-1.5zM194.9 515.1h1.5v1.5h-1.5zM198.1 515.1h1.5v1.5h-1.5zM198.9 515.4h1.5v1.5h-1.5zM201.0 515.3h1.5v1.5h-1.5zM204.8 515.4h1.5v1.5h-1.5zM207.0 515.0h1.5v1.5h-1.5zM209.3 515.0h1.5v1.5h-1.5zM210.1 515.0h1.5v1.5h-1.5zM210.2 515.4h1.5v1.5h-1.5zM171.7 515.8h1.5v1.5h-1.5zM172.7 515.9h1.5v1.5h-1.5zM175.4 515.9h1.5v1.5h-1.5zM176.7 515.7h1.5v1.5h-1.5zM176.9 515.9h1.5v1.5h-1.5zM179.5 515.5h1.5v1.5h-1.5zM179.9 515.9h1.5v1.5h-1.5zM180.1 515.5h1.5v1.5h-1.5zM182.0 515.6h1.5v1.5h-1.5zM183.3 515.6h1.5v1.5h-1.5zM188.0 515.7h1.5v1.5h-1.5zM188.5 515.8h1.5v1.5h-1.5zM188.6 515.5h1.5v1.5h-1.5zM188.7 515.9h1.5v1.5h-1.5zM189.0 515.6h1.5v1.5h-1.5zM189.7 515.8h1.5v1.5h-1.5zM189.5 515.7h1.5v1.5h-1.5zM191.5 515.5h1.5v1.5h-1.5zM193.8 515.6h1.5v1.5h-1.5zM195.7 515.8h1.5v1.5h-1.5zM198.1 515.9h1.5v1.5h-1.5zM199.7 515.8h1.5v1.5h-1.5zM200.7 515.9h1.5v1.5h-1.5zM202.6 515.8h1.5v1.5h-1.5zM205.2 515.7h1.5v1.5h-1.5zM205.5 515.9h1.5v1.5h-1.5zM208.4 515.5h1.5v1.5h-1.5zM170.7 516.4h1.5v1.5h-1.5zM171.5 516.3h1.5v1.5h-1.5zM172.4 516.3h1.5v1.5h-1.5zM172.6 516.3h1.5v1.5h-1.5zM172.8 516.1h1.5v1.5h-1.5zM174.6 516.2h1.5v1.5h-1.5zM175.5 516.4h1.5v1.5h-1.5zM175.7 516.0h1.5v1.5h-1.5zM176.6 516.2h1.5v1.5h-1.5zM180.4 516.0h1.5v1.5h-1.5zM181.6 516.1h1.5v1.5h-1.5zM182.2 516.0h1.5v1.5h-1.5zM184.6 516.1h1.5v1.5h-1.5zM185.0 516.0h1.5v1.5h-1.5zM184.9 516.4h1.5v1.5h-1.5zM186.0 516.3h1.5v1.5h-1.5zM186.4 516.3h1.5v1.5h-1.5zM189.2 516.2h1.5v1.5h-1.5zM190.1 516.4h1.5v1.5h-1.5zM190.9 516.4h1.5v1.5h-1.5zM194.3 516.2h1.5v1.5h-1.5zM194.8 516.1h1.5v1.5h-1.5zM194.8 516.4h1.5v1.5h-1.5zM196.1 516.3h1.5v1.5h-1.5zM198.2 516.1h1.5v1.5h-1.5zM198.8 516.2h1.5v1.5h-1.5zM198.9 516.1h1.5v1.5h-1.5zM200.5 516.0h1.5v1.5h-1.5zM202.5 516.0h1.5v1.5h-1.5zM203.0 516.4h1.5v1.5h-1.5zM204.0 516.1h1.5v1.5h-1.5zM205.1 516.0h1.5v1.5h-1.5zM207.4 516.3h1.5v1.5h-1.5zM172.6 516.9h1.5v1.5h-1.5zM173.4 516.8h1.5v1.5h-1.5zM174.1 516.6h1.5v1.5h-1.5zM175.4 516.5h1.5v1.5h-1.5zM179.1 516.8h1.5v1.5h-1.5zM181.0 516.6h1.5v1.5h-1.5zM181.6 516.6h1.5v1.5h-1.5zM181.7 516.7h1.5v1.5h-1.5zM182.2 516.8h1.5v1.5h-1.5zM182.7 516.6h1.5v1.5h-1.5zM183.8 516.9h1.5v1.5h-1.5zM185.4 516.5h1.5v1.5h-1.5zM185.9 516.9h1.5v1.5h-1.5zM190.5 516.9h1.5v1.5h-1.5zM193.5 516.9h1.5v1.5h-1.5zM194.5 516.7h1.5v1.5h-1.5zM195.6 516.5h1.5v1.5h-1.5zM197.2 516.6h1.5v1.5h-1.5zM197.2 516.6h1.5v1.5h-1.5zM198.3 516.8h1.5v1.5h-1.5zM201.8 516.7h1.5v1.5h-1.5zM202.8 516.8h1.5v1.5h-1.5zM203.5 516.6h1.5v1.5h-1.5zM204.9 516.8h1.5v1.5h-1.5zM205.0 516.6h1.5v1.5h-1.5zM206.2 516.5h1.5v1.5h-1.5zM207.8 516.5h1.5v1.5h-1.5zM171.5 517.3h1.5v1.5h-1.5zM174.2 517.2h1.5v1.5h-1.5zM174.0 517.0h1.5v1.5h-1.5zM177.0 517.4h1.5v1.5h-1.5zM178.3 517.3h1.5v1.5h-1.5zM180.6 517.4h1.5v1.5h-1.5zM184.1 517.3h1.5v1.5h-1.5zM186.4 517.4h1.5v1.5h-1.5zM188.5 517.4h1.5v1.5h-1.5zM188.9 517.2h1.5v1.5h-1.5zM193.3 517.0h1.5v1.5h-1.5zM194.1 517.0h1.5v1.5h-1.5zM195.2 517.1h1.5v1.5h-1.5zM195.3 517.0h1.5v1.5h-1.5zM197.3 517.1h1.5v1.5h-1.5zM199.9 517.1h1.5v1.5h-1.5zM200.7 517.4h1.5v1.5h-1.5zM201.1 517.4h1.5v1.5h-1.5zM203.7 517.0h1.5v1.5h-1.5zM171.2 517.7h1.5v1.5h-1.5zM179.0 517.8h1.5v1.5h-1.5zM181.5 517.7h1.5v1.5h-1.5zM181.9 517.9h1.5v1.5h-1.5zM186.0 517.8h1.5v1.5h-1.5zM191.3 517.8h1.5v1.5h-1.5zM192.3 517.7h1.5v1.5h-1.5zM192.8 517.6h1.5v1.5h-1.5zM195.1 517.9h1.5v1.5h-1.5zM194.9 517.5h1.5v1.5h-1.5zM195.2 517.5h1.5v1.5h-1.5zM197.6 517.6h1.5v1.5h-1.5zM200.2 517.5h1.5v1.5h-1.5zM171.2 518.4h1.5v1.5h-1.5zM174.2 518.2h1.5v1.5h-1.5zM175.4 518.1h1.5v1.5h-1.5zM175.4 518.0h1.5v1.5h-1.5zM175.9 518.0h1.5v1.5h-1.5zM176.7 518.3h1.5v1.5h-1.5zM177.9 518.0h1.5v1.5h-1.5zM178.6 518.1h1.5v1.5h-1.5zM179.1 518.0h1.5v1.5h-1.5zM179.3 518.4h1.5v1.5h-1.5zM182.2 518.0h1.5v1.5h-1.5zM184.3 518.2h1.5v1.5h-1.5zM184.5 518.2h1.5v1.5h-1.5zM186.5 518.2h1.5v1.5h-1.5zM189.4 518.0h1.5v1.5h-1.5zM192.6 518.0h1.5v1.5h-1.5zM195.1 518.2h1.5v1.5h-1.5zM200.7 518.3h1.5v1.5h-1.5zM202.1 518.2h1.5v1.5h-1.5zM202.6 518.3h1.5v1.5h-1.5zM203.8 518.4h1.5v1.5h-1.5zM204.9 518.4h1.5v1.5h-1.5zM172.2 518.7h1.5v1.5h-1.5zM172.4 518.7h1.5v1.5h-1.5zM176.8 518.8h1.5v1.5h-1.5zM178.3 518.6h1.5v1.5h-1.5zM179.2 518.7h1.5v1.5h-1.5zM180.6 518.7h1.5v1.5h-1.5zM183.0 518.9h1.5v1.5h-1.5zM184.3 518.5h1.5v1.5h-1.5zM184.6 518.6h1.5v1.5h-1.5zM185.8 518.9h1.5v1.5h-1.5zM187.2 518.5h1.5v1.5h-1.5zM188.0 518.8h1.5v1.5h-1.5zM190.7 518.8h1.5v1.5h-1.5zM192.3 518.5h1.5v1.5h-1.5zM193.8 518.8h1.5v1.5h-1.5zM197.2 518.7h1.5v1.5h-1.5zM197.3 518.8h1.5v1.5h-1.5zM197.3 518.7h1.5v1.5h-1.5zM204.6 518.8h1.5v1.5h-1.5zM205.5 518.6h1.5v1.5h-1.5zM170.6 519.0h1.5v1.5h-1.5zM172.7 519.4h1.5v1.5h-1.5zM174.2 519.0h1.5v1.5h-1.5zM180.5 519.2h1.5v1.5h-1.5zM184.7 519.3h1.5v1.5h-1.5zM185.3 519.4h1.5v1.5h-1.5zM186.5 519.0h1.5v1.5h-1.5zM186.8 519.1h1.5v1.5h-1.5zM188.8 519.0h1.5v1.5h-1.5zM190.0 519.1h1.5v1.5h-1.5zM190.1 519.0h1.5v1.5h-1.5zM192.2 519.0h1.5v1.5h-1.5zM193.9 519.1h1.5v1.5h-1.5zM194.4 519.3h1.5v1.5h-1.5zM196.9 519.2h1.5v1.5h-1.5zM197.0 519.3h1.5v1.5h-1.5zM197.4 519.1h1.5v1.5h-1.5zM197.4 519.4h1.5v1.5h-1.5zM200.6 519.2h1.5v1.5h-1.5zM200.4 519.1h1.5v1.5h-1.5zM200.7 519.2h1.5v1.5h-1.5zM201.5 519.2h1.5v1.5h-1.5zM202.2 519.4h1.5v1.5h-1.5zM203.5 519.2h1.5v1.5h-1.5zM205.6 519.2h1.5v1.5h-1.5zM206.3 519.4h1.5v1.5h-1.5zM172.9 519.9h1.5v1.5h-1.5zM175.4 519.7h1.5v1.5h-1.5zM180.6 519.9h1.5v1.5h-1.5zM180.5 519.7h1.5v1.5h-1.5zM182.9 519.6h1.5v1.5h-1.5zM190.7 519.9h1.5v1.5h-1.5zM192.1 519.5h1.5v1.5h-1.5zM194.3 519.6h1.5v1.5h-1.5zM195.3 519.6h1.5v1.5h-1.5zM197.3 519.7h1.5v1.5h-1.5zM197.9 519.7h1.5v1.5h-1.5zM199.4 519.7h1.5v1.5h-1.5zM200.5 519.9h1.5v1.5h-1.5zM203.6 519.9h1.5v1.5h-1.5zM206.6 519.7h1.5v1.5h-1.5zM170.7 520.1h1.5v1.5h-1.5zM174.6 520.3h1.5v1.5h-1.5zM176.8 520.3h1.5v1.5h-1.5zM178.5 520.2h1.5v1.5h-1.5zM179.0 520.2h1.5v1.5h-1.5zM183.5 520.1h1.5v1.5h-1.5zM184.5 520.4h1.5v1.5h-1.5zM187.8 520.4h1.5v1.5h-1.5zM188.3 520.4h1.5v1.5h-1.5zM190.9 520.3h1.5v1.5h-1.5zM194.5 520.3h1.5v1.5h-1.5zM195.8 520.4h1.5v1.5h-1.5zM197.5 520.0h1.5v1.5h-1.5zM198.6 520.0h1.5v1.5h-1.5zM205.2 520.1h1.5v1.5h-1.5zM205.7 520.0h1.5v1.5h-1.5zM170.9 520.5h1.5v1.5h-1.5zM171.0 520.5h1.5v1.5h-1.5zM171.7 520.6h1.5v1.5h-1.5zM171.9 520.5h1.5v1.5h-1.5zM173.9 520.7h1.5v1.5h-1.5zM175.2 520.7h1.5v1.5h-1.5zM181.9 520.5h1.5v1.5h-1.5zM182.5 520.6h1.5v1.5h-1.5zM182.8 520.8h1.5v1.5h-1.5zM183.0 520.9h1.5v1.5h-1.5zM188.2 520.5h1.5v1.5h-1.5zM190.3 520.7h1.5v1.5h-1.5zM193.2 520.9h1.5v1.5h-1.5zM195.3 520.8h1.5v1.5h-1.5zM195.3 520.7h1.5v1.5h-1.5zM199.2 520.9h1.5v1.5h-1.5zM198.8 520.5h1.5v1.5h-1.5zM200.0 520.5h1.5v1.5h-1.5zM206.2 520.6h1.5v1.5h-1.5z" fill="#000"/>
<path d="M73.8 365.7h1.7v1.7h-1.7zM128.3 373.8h1.7v1.7h-1.7zM50.9 386.5h1.7v1.7h-1.7zM70.7 387.3h1.7v1.7h-1.7zM79.3 384.0h1.7v1.7h-1.7zM83.9 383.5h1.7v1.7h-1.7zM85.2 384.5h1.7v1.7h-1.7zM87.7 385.3h1.7v1.7h-1.7zM99.1 380.9h1.7v1.7h-1.7zM99.6 383.5h1.7v1.7h-1.7zM105.5 380.9h1.7v1.7h-1.7zM109.3 378.9h1.7v1.7h-1.7zM111.3 378.4h1.7v1.7h-1.7zM113.1 379.4h1.7v1.7h-1.7zM114.4 378.9h1.7v1.7h-1.7zM118.9 379.4h1.7v1.7h-1.7zM107.5 384.0h1.7v1.7h-1.7zM108.3 386.0h1.7v1.7h-1.7zM111.3 384.5h1.7v1.7h-1.7zM114.4 382.7h1.7v1.7h-1.7zM92.8 394.1h1.7v1.7h-1.7zM99.6 392.9h1.7v1.7h-1.7zM101.2 391.6h1.7v1.7h-1.7zM100.4 394.1h1.7v1.7h-1.7zM109.3 392.9h1.7v1.7h-1.7zM111.3 394.1h1.7v1.7h-1.7zM113.9 394.9h1.7v1.7h-1.7zM114.9 396.7h1.7v1.7h-1.7zM118.2 394.1h1.7v1.7h-1.7zM106.8 401.8h1.7v1.7h-1.7zM104.7 403.8h1.7v1.7h-1.7zM102.9 406.8h1.7v1.7h-1.7zM98.6 408.1h1.7v1.7h-1.7zM101.7 406.3h1.7v1.7h-1.7zM94.1 410.6h1.7v1.7h-1.7zM89.0 410.6h1.7v1.7h-1.7zM85.2 412.7h1.7v1.7h-1.7zM95.3 414.4h1.7v1.7h-1.7zM103.7 414.4h1.7v1.7h-1.7zM107.3 414.4h1.7v1.7h-1.7zM96.6 417.0h1.7v1.7h-1.7zM100.4 418.3h1.7v1.7h-1.7zM97.9 420.8h1.7v1.7h-1.7zM94.1 422.1h1.7v1.7h-1.7zM91.0 423.3h1.7v1.7h-1.7zM87.0 422.1h1.7v1.7h-1.7zM83.9 425.1h1.7v1.7h-1.7zM81.4 426.6h1.7v1.7h-1.7zM78.3 427.6h1.7v1.7h-1.7zM75.8 426.6h1.7v1.7h-1.7zM72.5 422.1h1.7v1.7h-1.7zM71.2 424.6h1.7v1.7h-1.7zM77.6 429.7h1.7v1.7h-1.7zM75.0 432.2h1.7v1.7h-1.7zM71.2 432.2h1.7v1.7h-1.7zM223.4 375.0h1.7v1.7h-1.7zM242.9 372.8h1.7v1.7h-1.7zM235.8 375.9h1.7v1.7h-1.7zM237.2 376.6h1.7v1.7h-1.7zM232.1 379.3h1.7v1.7h-1.7zM233.5 380.0h1.7v1.7h-1.7zM234.8 380.6h1.7v1.7h-1.7zM236.2 379.3h1.7v1.7h-1.7zM238.2 378.6h1.7v1.7h-1.7zM240.9 378.0h1.7v1.7h-1.7zM243.6 378.2h1.7v1.7h-1.7zM245.6 377.3h1.7v1.7h-1.7zM247.6 379.3h1.7v1.7h-1.7zM251.0 382.0h1.7v1.7h-1.7zM258.4 382.0h1.7v1.7h-1.7zM216.6 383.3h1.7v1.7h-1.7zM225.4 383.3h1.7v1.7h-1.7zM227.4 383.3h1.7v1.7h-1.7zM229.4 383.6h1.7v1.7h-1.7zM231.5 383.3h1.7v1.7h-1.7zM233.5 382.7h1.7v1.7h-1.7zM236.2 383.3h1.7v1.7h-1.7zM238.2 384.7h1.7v1.7h-1.7zM240.2 385.4h1.7v1.7h-1.7zM241.5 386.7h1.7v1.7h-1.7zM242.9 387.4h1.7v1.7h-1.7zM244.9 388.0h1.7v1.7h-1.7zM247.6 388.7h1.7v1.7h-1.7zM254.3 392.1h1.7v1.7h-1.7zM259.0 396.8h1.7v1.7h-1.7zM220.7 388.0h1.7v1.7h-1.7zM227.4 388.0h1.7v1.7h-1.7zM233.5 390.7h1.7v1.7h-1.7zM238.2 390.7h1.7v1.7h-1.7zM232.8 395.5h1.7v1.7h-1.7zM234.8 396.8h1.7v1.7h-1.7zM238.2 396.8h1.7v1.7h-1.7zM238.9 398.1h1.7v1.7h-1.7zM240.9 399.5h1.7v1.7h-1.7zM242.2 394.8h1.7v1.7h-1.7zM243.6 396.1h1.7v1.7h-1.7zM244.9 397.5h1.7v1.7h-1.7zM246.3 399.5h1.7v1.7h-1.7zM247.6 401.5h1.7v1.7h-1.7zM248.9 402.9h1.7v1.7h-1.7zM248.9 406.2h1.7v1.7h-1.7zM247.6 407.6h1.7v1.7h-1.7zM227.4 399.5h1.7v1.7h-1.7zM224.0 402.9h1.7v1.7h-1.7zM225.4 403.5h1.7v1.7h-1.7zM226.7 404.2h1.7v1.7h-1.7zM228.1 404.9h1.7v1.7h-1.7zM230.1 403.5h1.7v1.7h-1.7zM232.1 404.9h1.7v1.7h-1.7zM233.5 406.2h1.7v1.7h-1.7zM231.5 406.9h1.7v1.7h-1.7zM236.8 404.9h1.7v1.7h-1.7zM238.9 406.2h1.7v1.7h-1.7zM240.9 406.9h1.7v1.7h-1.7zM242.2 407.6h1.7v1.7h-1.7zM244.2 406.2h1.7v1.7h-1.7zM245.6 407.6h1.7v1.7h-1.7zM222.7 407.6h1.7v1.7h-1.7zM222.0 409.6h1.7v1.7h-1.7zM239.5 410.3h1.7v1.7h-1.7zM240.9 411.6h1.7v1.7h-1.7zM242.2 410.9h1.7v1.7h-1.7zM198.5 406.7h1.7v1.7h-1.7zM198.8 406.0h1.7v1.7h-1.7zM188.0 412.2h1.7v1.7h-1.7zM192.4 409.3h1.7v1.7h-1.7zM202.3 405.7h1.7v1.7h-1.7zM200.7 404.6h1.7v1.7h-1.7zM198.2 408.0h1.7v1.7h-1.7zM190.8 412.9h1.7v1.7h-1.7zM202.6 403.7h1.7v1.7h-1.7zM190.8 410.6h1.7v1.7h-1.7zM194.1 410.6h1.7v1.7h-1.7zM200.4 404.4h1.7v1.7h-1.7zM198.4 406.9h1.7v1.7h-1.7zM202.2 403.0h1.7v1.7h-1.7zM236.8 411.3h1.7v1.7h-1.7zM227.8 416.4h1.7v1.7h-1.7zM231.2 417.5h1.7v1.7h-1.7zM217.3 421.9h1.7v1.7h-1.7zM220.1 422.3h1.7v1.7h-1.7zM237.5 409.8h1.7v1.7h-1.7zM216.4 423.8h1.7v1.7h-1.7zM221.2 424.1h1.7v1.7h-1.7zM236.1 414.9h1.7v1.7h-1.7zM232.8 413.9h1.7v1.7h-1.7zM236.4 418.4h1.7v1.7h-1.7zM236.1 413.3h1.7v1.7h-1.7zM222.3 416.9h1.7v1.7h-1.7zM223.2 418.5h1.7v1.7h-1.7zM208.5 424.3h1.7v1.7h-1.7zM229.3 417.4h1.7v1.7h-1.7zM229.5 413.8h1.7v1.7h-1.7zM240.1 405.8h1.7v1.7h-1.7zM238.7 414.3h1.7v1.7h-1.7zM224.4 411.7h1.7v1.7h-1.7zM224.7 422.2h1.7v1.7h-1.7zM221.7 417.0h1.7v1.7h-1.7zM211.8 426.0h1.7v1.7h-1.7zM227.4 418.6h1.7v1.7h-1.7zM211.5 418.1h1.7v1.7h-1.7zM239.6 412.0h1.7v1.7h-1.7zM226.2 412.1h1.7v1.7h-1.7zM219.9 414.3h1.7v1.7h-1.7zM213.1 420.6h1.7v1.7h-1.7zM209.2 425.7h1.7v1.7h-1.7zM241.8 414.1h1.7v1.7h-1.7zM222.2 421.7h1.7v1.7h-1.7zM239.5 408.3h1.7v1.7h-1.7zM237.4 412.7h1.7v1.7h-1.7zM210.8 423.3h1.7v1.7h-1.7zM241.8 411.0h1.7v1.7h-1.7zM215.7 422.5h1.7v1.7h-1.7zM241.2 409.3h1.7v1.7h-1.7zM217.4 422.8h1.7v1.7h-1.7zM242.5 412.2h1.7v1.7h-1.7zM91.0 494.4h1.7v1.7h-1.7zM90.1 469.6h1.7v1.7h-1.7zM86.5 464.1h1.7v1.7h-1.7zM87.9 476.3h1.7v1.7h-1.7zM92.5 488.6h1.7v1.7h-1.7zM85.9 462.3h1.7v1.7h-1.7zM93.0 490.5h1.7v1.7h-1.7zM93.2 464.2h1.7v1.7h-1.7zM86.4 488.5h1.7v1.7h-1.7zM93.2 468.0h1.7v1.7h-1.7zM89.9 486.3h1.7v1.7h-1.7zM93.1 492.2h1.7v1.7h-1.7zM90.7 473.8h1.7v1.7h-1.7zM86.7 479.1h1.7v1.7h-1.7zM86.8 466.4h1.7v1.7h-1.7zM93.2 465.4h1.7v1.7h-1.7zM86.6 466.2h1.7v1.7h-1.7zM91.8 478.4h1.7v1.7h-1.7zM85.2 489.3h1.7v1.7h-1.7zM85.2 466.6h1.7v1.7h-1.7zM92.2 496.4h1.7v1.7h-1.7zM91.4 474.9h1.7v1.7h-1.7zM107.2 479.0h1.7v1.7h-1.7zM110.2 465.5h1.7v1.7h-1.7zM112.8 478.8h1.7v1.7h-1.7zM107.5 473.7h1.7v1.7h-1.7zM109.4 468.1h1.7v1.7h-1.7zM110.2 470.2h1.7v1.7h-1.7zM107.2 479.3h1.7v1.7h-1.7zM107.5 468.5h1.7v1.7h-1.7zM107.2 475.5h1.7v1.7h-1.7zM110.0 465.0h1.7v1.7h-1.7zM80.7 479.6h1.7v1.7h-1.7zM73.7 484.7h1.7v1.7h-1.7zM75.3 489.0h1.7v1.7h-1.7zM79.5 494.0h1.7v1.7h-1.7zM81.0 493.2h1.7v1.7h-1.7zM82.6 494.5h1.7v1.7h-1.7zM77.2 486.0h1.7v1.7h-1.7zM79.5 497.2h1.7v1.7h-1.7zM84.7 486.5h1.7v1.7h-1.7zM88.2 456.2h1.7v1.7h-1.7zM61.5 507.1h1.7v1.7h-1.7zM55.9 509.1h1.7v1.7h-1.7zM65.0 509.1h1.7v1.7h-1.7zM70.7 456.6h1.7v1.7h-1.7zM72.2 458.6h1.7v1.7h-1.7zM70.2 502.1h1.7v1.7h-1.7zM72.2 511.1h1.7v1.7h-1.7zM194.8 461.2h1.7v1.7h-1.7zM242.8 483.3h1.7v1.7h-1.7zM247.2 461.4h1.7v1.7h-1.7zM185.0 470.9h1.7v1.7h-1.7zM207.5 464.6h1.7v1.7h-1.7zM207.1 482.3h1.7v1.7h-1.7zM240.4 473.3h1.7v1.7h-1.7zM208.6 460.8h1.7v1.7h-1.7zM225.9 454.4h1.7v1.7h-1.7zM242.3 463.7h1.7v1.7h-1.7zM201.1 488.8h1.7v1.7h-1.7zM177.5 459.1h1.7v1.7h-1.7zM217.8 484.9h1.7v1.7h-1.7zM247.8 480.7h1.7v1.7h-1.7zM209.8 456.1h1.7v1.7h-1.7zM224.8 487.6h1.7v1.7h-1.7zM207.4 480.0h1.7v1.7h-1.7zM247.7 476.2h1.7v1.7h-1.7zM226.0 461.0h1.7v1.7h-1.7zM214.8 483.0h1.7v1.7h-1.7zM225.1 475.5h1.7v1.7h-1.7zM232.1 477.9h1.7v1.7h-1.7zM221.2 456.4h1.7v1.7h-1.7zM251.4 471.6h1.7v1.7h-1.7zM188.8 459.7h1.7v1.7h-1.7zM225.2 452.6h1.7v1.7h-1.7zM231.2 456.1h1.7v1.7h-1.7zM236.7 454.6h1.7v1.7h-1.7zM253.2 465.1h1.7v1.7h-1.7zM255.7 465.6h1.7v1.7h-1.7zM247.2 482.1h1.7v1.7h-1.7zM248.2 491.1h1.7v1.7h-1.7z" fill="#000"/>
<text x="0.4" y="348.0" font-family="Liberation Sans" font-size="16.4" font-weight="bold">B</text>
<text x="79.20" y="360.00" font-size="10.9" font-weight="bold" stroke="#000" stroke-width="0.3">Jurkat</text>
<text x="219.70" y="359.40" font-size="11.0" font-weight="bold" stroke="#000" stroke-width="0.3">Raji</text>
<path d="M32.30 441.50L36.70 441.50" stroke="#000" stroke-width="1.3"/>
<path d="M34.10 435.73L36.70 435.73" stroke="#000" stroke-width="1.0"/>
<path d="M34.10 432.35L36.70 432.35" stroke="#000" stroke-width="1.0"/>
<path d="M34.10 429.96L36.70 429.96" stroke="#000" stroke-width="1.0"/>
<path d="M34.10 428.10L36.70 428.10" stroke="#000" stroke-width="1.0"/>
<path d="M34.10 426.58L36.70 426.58" stroke="#000" stroke-width="1.0"/>
<path d="M34.10 425.30L36.70 425.30" stroke="#000" stroke-width="1.0"/>
<path d="M34.10 424.18L36.70 424.18" stroke="#000" stroke-width="1.0"/>
<path d="M34.10 423.20L36.70 423.20" stroke="#000" stroke-width="1.0"/>
<path d="M32.30 422.32L36.70 422.32" stroke="#000" stroke-width="1.3"/>
<path d="M34.10 416.55L36.70 416.55" stroke="#000" stroke-width="1.0"/>
<path d="M34.10 413.18L36.70 413.18" stroke="#000" stroke-width="1.0"/>
<path d="M34.10 410.78L36.70 410.78" stroke="#000" stroke-width="1.0"/>
<path d="M34.10 408.92L36.70 408.92" stroke="#000" stroke-width="1.0"/>
<path d="M34.10 407.40L36.70 407.40" stroke="#000" stroke-width="1.0"/>
<path d="M34.10 406.12L36.70 406.12" stroke="#000" stroke-width="1.0"/>
<path d="M34.10 405.01L36.70 405.01" stroke="#000" stroke-width="1.0"/>
<path d="M34.10 404.03L36.70 404.03" stroke="#000" stroke-width="1.0"/>
<path d="M32.30 403.15L36.70 403.15" stroke="#000" stroke-width="1.3"/>
<path d="M34.10 397.38L36.70 397.38" stroke="#000" stroke-width="1.0"/>
<path d="M34.10 394.00L36.70 394.00" stroke="#000" stroke-width="1.0"/>
<path d="M34.10 391.61L36.70 391.61" stroke="#000" stroke-width="1.0"/>
<path d="M34.10 389.75L36.70 389.75" stroke="#000" stroke-width="1.0"/>
<path d="M34.10 388.23L36.70 388.23" stroke="#000" stroke-width="1.0"/>
<path d="M34.10 386.95L36.70 386.95" stroke="#000" stroke-width="1.0"/>
<path d="M34.10 385.83L36.70 385.83" stroke="#000" stroke-width="1.0"/>
<path d="M34.10 384.85L36.70 384.85" stroke="#000" stroke-width="1.0"/>
<path d="M32.30 383.98L36.70 383.98" stroke="#000" stroke-width="1.3"/>
<path d="M34.10 378.20L36.70 378.20" stroke="#000" stroke-width="1.0"/>
<path d="M34.10 374.83L36.70 374.83" stroke="#000" stroke-width="1.0"/>
<path d="M34.10 372.43L36.70 372.43" stroke="#000" stroke-width="1.0"/>
<path d="M34.10 370.57L36.70 370.57" stroke="#000" stroke-width="1.0"/>
<path d="M34.10 369.05L36.70 369.05" stroke="#000" stroke-width="1.0"/>
<path d="M34.10 367.77L36.70 367.77" stroke="#000" stroke-width="1.0"/>
<path d="M34.10 366.66L36.70 366.66" stroke="#000" stroke-width="1.0"/>
<path d="M34.10 365.68L36.70 365.68" stroke="#000" stroke-width="1.0"/>
<path d="M32.30 364.80L36.70 364.80" stroke="#000" stroke-width="1.3"/>
<path d="M36.70 441.50L36.70 445.50" stroke="#000" stroke-width="1.3"/>
<path d="M46.21 441.50L46.21 444.10" stroke="#000" stroke-width="1.0"/>
<path d="M51.78 441.50L51.78 444.10" stroke="#000" stroke-width="1.0"/>
<path d="M55.73 441.50L55.73 444.10" stroke="#000" stroke-width="1.0"/>
<path d="M58.79 441.50L58.79 444.10" stroke="#000" stroke-width="1.0"/>
<path d="M61.29 441.50L61.29 444.10" stroke="#000" stroke-width="1.0"/>
<path d="M63.41 441.50L63.41 444.10" stroke="#000" stroke-width="1.0"/>
<path d="M65.24 441.50L65.24 444.10" stroke="#000" stroke-width="1.0"/>
<path d="M66.85 441.50L66.85 444.10" stroke="#000" stroke-width="1.0"/>
<path d="M68.30 441.50L68.30 445.50" stroke="#000" stroke-width="1.3"/>
<path d="M77.81 441.50L77.81 444.10" stroke="#000" stroke-width="1.0"/>
<path d="M83.38 441.50L83.38 444.10" stroke="#000" stroke-width="1.0"/>
<path d="M87.33 441.50L87.33 444.10" stroke="#000" stroke-width="1.0"/>
<path d="M90.39 441.50L90.39 444.10" stroke="#000" stroke-width="1.0"/>
<path d="M92.89 441.50L92.89 444.10" stroke="#000" stroke-width="1.0"/>
<path d="M95.01 441.50L95.01 444.10" stroke="#000" stroke-width="1.0"/>
<path d="M96.84 441.50L96.84 444.10" stroke="#000" stroke-width="1.0"/>
<path d="M98.45 441.50L98.45 444.10" stroke="#000" stroke-width="1.0"/>
<path d="M99.90 441.50L99.90 445.50" stroke="#000" stroke-width="1.3"/>
<path d="M109.41 441.50L109.41 444.10" stroke="#000" stroke-width="1.0"/>
<path d="M114.98 441.50L114.98 444.10" stroke="#000" stroke-width="1.0"/>
<path d="M118.93 441.50L118.93 444.10" stroke="#000" stroke-width="1.0"/>
<path d="M121.99 441.50L121.99 444.10" stroke="#000" stroke-width="1.0"/>
<path d="M124.49 441.50L124.49 444.10" stroke="#000" stroke-width="1.0"/>
<path d="M126.61 441.50L126.61 444.10" stroke="#000" stroke-width="1.0"/>
<path d="M128.44 441.50L128.44 444.10" stroke="#000" stroke-width="1.0"/>
<path d="M130.05 441.50L130.05 444.10" stroke="#000" stroke-width="1.0"/>
<path d="M131.50 441.50L131.50 445.50" stroke="#000" stroke-width="1.3"/>
<path d="M141.01 441.50L141.01 444.10" stroke="#000" stroke-width="1.0"/>
<path d="M146.58 441.50L146.58 444.10" stroke="#000" stroke-width="1.0"/>
<path d="M150.53 441.50L150.53 444.10" stroke="#000" stroke-width="1.0"/>
<path d="M153.59 441.50L153.59 444.10" stroke="#000" stroke-width="1.0"/>
<path d="M156.09 441.50L156.09 444.10" stroke="#000" stroke-width="1.0"/>
<path d="M158.21 441.50L158.21 444.10" stroke="#000" stroke-width="1.0"/>
<path d="M160.04 441.50L160.04 444.10" stroke="#000" stroke-width="1.0"/>
<path d="M161.65 441.50L161.65 444.10" stroke="#000" stroke-width="1.0"/>
<path d="M163.10 441.50L163.10 445.50" stroke="#000" stroke-width="1.3"/>
<rect x="36.70" y="364.80" width="126.40" height="76.70" fill="none" stroke="#000" stroke-width="1.4"/>
<path d="M36.70 364.20L36.70 442.10" stroke="#000" stroke-width="1.8"/>
<path d="M36.70 441.50L163.10 441.50" stroke="#000" stroke-width="1.7"/>
<path d="M69.10 364.80L69.10 441.50" stroke="#000" stroke-width="1.5"/>
<path d="M36.70 417.60L163.10 417.60" stroke="#000" stroke-width="1.5"/>
<path d="M162.70 441.60L167.10 441.60" stroke="#000" stroke-width="1.3"/>
<path d="M164.50 435.82L167.10 435.82" stroke="#000" stroke-width="1.0"/>
<path d="M164.50 432.44L167.10 432.44" stroke="#000" stroke-width="1.0"/>
<path d="M164.50 430.04L167.10 430.04" stroke="#000" stroke-width="1.0"/>
<path d="M164.50 428.18L167.10 428.18" stroke="#000" stroke-width="1.0"/>
<path d="M164.50 426.66L167.10 426.66" stroke="#000" stroke-width="1.0"/>
<path d="M164.50 425.37L167.10 425.37" stroke="#000" stroke-width="1.0"/>
<path d="M164.50 424.26L167.10 424.26" stroke="#000" stroke-width="1.0"/>
<path d="M164.50 423.28L167.10 423.28" stroke="#000" stroke-width="1.0"/>
<path d="M162.70 422.40L167.10 422.40" stroke="#000" stroke-width="1.3"/>
<path d="M164.50 416.62L167.10 416.62" stroke="#000" stroke-width="1.0"/>
<path d="M164.50 413.24L167.10 413.24" stroke="#000" stroke-width="1.0"/>
<path d="M164.50 410.84L167.10 410.84" stroke="#000" stroke-width="1.0"/>
<path d="M164.50 408.98L167.10 408.98" stroke="#000" stroke-width="1.0"/>
<path d="M164.50 407.46L167.10 407.46" stroke="#000" stroke-width="1.0"/>
<path d="M164.50 406.17L167.10 406.17" stroke="#000" stroke-width="1.0"/>
<path d="M164.50 405.06L167.10 405.06" stroke="#000" stroke-width="1.0"/>
<path d="M164.50 404.08L167.10 404.08" stroke="#000" stroke-width="1.0"/>
<path d="M162.70 403.20L167.10 403.20" stroke="#000" stroke-width="1.3"/>
<path d="M164.50 397.42L167.10 397.42" stroke="#000" stroke-width="1.0"/>
<path d="M164.50 394.04L167.10 394.04" stroke="#000" stroke-width="1.0"/>
<path d="M164.50 391.64L167.10 391.64" stroke="#000" stroke-width="1.0"/>
<path d="M164.50 389.78L167.10 389.78" stroke="#000" stroke-width="1.0"/>
<path d="M164.50 388.26L167.10 388.26" stroke="#000" stroke-width="1.0"/>
<path d="M164.50 386.97L167.10 386.97" stroke="#000" stroke-width="1.0"/>
<path d="M164.50 385.86L167.10 385.86" stroke="#000" stroke-width="1.0"/>
<path d="M164.50 384.88L167.10 384.88" stroke="#000" stroke-width="1.0"/>
<path d="M162.70 384.00L167.10 384.00" stroke="#000" stroke-width="1.3"/>
<path d="M164.50 378.22L167.10 378.22" stroke="#000" stroke-width="1.0"/>
<path d="M164.50 374.84L167.10 374.84" stroke="#000" stroke-width="1.0"/>
<path d="M164.50 372.44L167.10 372.44" stroke="#000" stroke-width="1.0"/>
<path d="M164.50 370.58L167.10 370.58" stroke="#000" stroke-width="1.0"/>
<path d="M164.50 369.06L167.10 369.06" stroke="#000" stroke-width="1.0"/>
<path d="M164.50 367.77L167.10 367.77" stroke="#000" stroke-width="1.0"/>
<path d="M164.50 366.66L167.10 366.66" stroke="#000" stroke-width="1.0"/>
<path d="M164.50 365.68L167.10 365.68" stroke="#000" stroke-width="1.0"/>
<path d="M162.70 364.80L167.10 364.80" stroke="#000" stroke-width="1.3"/>
<path d="M167.10 441.60L167.10 445.60" stroke="#000" stroke-width="1.3"/>
<path d="M176.46 441.60L176.46 444.20" stroke="#000" stroke-width="1.0"/>
<path d="M181.94 441.60L181.94 444.20" stroke="#000" stroke-width="1.0"/>
<path d="M185.82 441.60L185.82 444.20" stroke="#000" stroke-width="1.0"/>
<path d="M188.84 441.60L188.84 444.20" stroke="#000" stroke-width="1.0"/>
<path d="M191.30 441.60L191.30 444.20" stroke="#000" stroke-width="1.0"/>
<path d="M193.38 441.60L193.38 444.20" stroke="#000" stroke-width="1.0"/>
<path d="M195.19 441.60L195.19 444.20" stroke="#000" stroke-width="1.0"/>
<path d="M196.78 441.60L196.78 444.20" stroke="#000" stroke-width="1.0"/>
<path d="M198.20 441.60L198.20 445.60" stroke="#000" stroke-width="1.3"/>
<path d="M207.56 441.60L207.56 444.20" stroke="#000" stroke-width="1.0"/>
<path d="M213.04 441.60L213.04 444.20" stroke="#000" stroke-width="1.0"/>
<path d="M216.92 441.60L216.92 444.20" stroke="#000" stroke-width="1.0"/>
<path d="M219.94 441.60L219.94 444.20" stroke="#000" stroke-width="1.0"/>
<path d="M222.40 441.60L222.40 444.20" stroke="#000" stroke-width="1.0"/>
<path d="M224.48 441.60L224.48 444.20" stroke="#000" stroke-width="1.0"/>
<path d="M226.29 441.60L226.29 444.20" stroke="#000" stroke-width="1.0"/>
<path d="M227.88 441.60L227.88 444.20" stroke="#000" stroke-width="1.0"/>
<path d="M229.30 441.60L229.30 445.60" stroke="#000" stroke-width="1.3"/>
<path d="M238.66 441.60L238.66 444.20" stroke="#000" stroke-width="1.0"/>
<path d="M244.14 441.60L244.14 444.20" stroke="#000" stroke-width="1.0"/>
<path d="M248.02 441.60L248.02 444.20" stroke="#000" stroke-width="1.0"/>
<path d="M251.04 441.60L251.04 444.20" stroke="#000" stroke-width="1.0"/>
<path d="M253.50 441.60L253.50 444.20" stroke="#000" stroke-width="1.0"/>
<path d="M255.58 441.60L255.58 444.20" stroke="#000" stroke-width="1.0"/>
<path d="M257.39 441.60L257.39 444.20" stroke="#000" stroke-width="1.0"/>
<path d="M258.98 441.60L258.98 444.20" stroke="#000" stroke-width="1.0"/>
<path d="M260.40 441.60L260.40 445.60" stroke="#000" stroke-width="1.3"/>
<path d="M269.76 441.60L269.76 444.20" stroke="#000" stroke-width="1.0"/>
<path d="M275.24 441.60L275.24 444.20" stroke="#000" stroke-width="1.0"/>
<path d="M279.12 441.60L279.12 444.20" stroke="#000" stroke-width="1.0"/>
<path d="M282.14 441.60L282.14 444.20" stroke="#000" stroke-width="1.0"/>
<path d="M284.60 441.60L284.60 444.20" stroke="#000" stroke-width="1.0"/>
<path d="M286.68 441.60L286.68 444.20" stroke="#000" stroke-width="1.0"/>
<path d="M288.49 441.60L288.49 444.20" stroke="#000" stroke-width="1.0"/>
<path d="M290.08 441.60L290.08 444.20" stroke="#000" stroke-width="1.0"/>
<path d="M291.50 441.60L291.50 445.60" stroke="#000" stroke-width="1.3"/>
<rect x="167.10" y="364.80" width="124.40" height="76.80" fill="none" stroke="#000" stroke-width="1.4"/>
<path d="M167.10 364.20L167.10 442.20" stroke="#000" stroke-width="1.8"/>
<path d="M167.10 441.60L291.50 441.60" stroke="#000" stroke-width="1.7"/>
<path d="M208.20 364.80L208.20 441.60" stroke="#000" stroke-width="1.5"/>
<path d="M167.10 412.60L291.50 412.60" stroke="#000" stroke-width="1.5"/>
<path d="M34.20 523.60L38.60 523.60" stroke="#000" stroke-width="1.3"/>
<path d="M36.00 517.88L38.60 517.88" stroke="#000" stroke-width="1.0"/>
<path d="M36.00 514.53L38.60 514.53" stroke="#000" stroke-width="1.0"/>
<path d="M36.00 512.16L38.60 512.16" stroke="#000" stroke-width="1.0"/>
<path d="M36.00 510.32L38.60 510.32" stroke="#000" stroke-width="1.0"/>
<path d="M36.00 508.82L38.60 508.82" stroke="#000" stroke-width="1.0"/>
<path d="M36.00 507.54L38.60 507.54" stroke="#000" stroke-width="1.0"/>
<path d="M36.00 506.44L38.60 506.44" stroke="#000" stroke-width="1.0"/>
<path d="M36.00 505.47L38.60 505.47" stroke="#000" stroke-width="1.0"/>
<path d="M34.20 504.60L38.60 504.60" stroke="#000" stroke-width="1.3"/>
<path d="M36.00 498.88L38.60 498.88" stroke="#000" stroke-width="1.0"/>
<path d="M36.00 495.53L38.60 495.53" stroke="#000" stroke-width="1.0"/>
<path d="M36.00 493.16L38.60 493.16" stroke="#000" stroke-width="1.0"/>
<path d="M36.00 491.32L38.60 491.32" stroke="#000" stroke-width="1.0"/>
<path d="M36.00 489.82L38.60 489.82" stroke="#000" stroke-width="1.0"/>
<path d="M36.00 488.54L38.60 488.54" stroke="#000" stroke-width="1.0"/>
<path d="M36.00 487.44L38.60 487.44" stroke="#000" stroke-width="1.0"/>
<path d="M36.00 486.47L38.60 486.47" stroke="#000" stroke-width="1.0"/>
<path d="M34.20 485.60L38.60 485.60" stroke="#000" stroke-width="1.3"/>
<path d="M36.00 479.88L38.60 479.88" stroke="#000" stroke-width="1.0"/>
<path d="M36.00 476.53L38.60 476.53" stroke="#000" stroke-width="1.0"/>
<path d="M36.00 474.16L38.60 474.16" stroke="#000" stroke-width="1.0"/>
<path d="M36.00 472.32L38.60 472.32" stroke="#000" stroke-width="1.0"/>
<path d="M36.00 470.82L38.60 470.82" stroke="#000" stroke-width="1.0"/>
<path d="M36.00 469.54L38.60 469.54" stroke="#000" stroke-width="1.0"/>
<path d="M36.00 468.44L38.60 468.44" stroke="#000" stroke-width="1.0"/>
<path d="M36.00 467.47L38.60 467.47" stroke="#000" stroke-width="1.0"/>
<path d="M34.20 466.60L38.60 466.60" stroke="#000" stroke-width="1.3"/>
<path d="M36.00 460.88L38.60 460.88" stroke="#000" stroke-width="1.0"/>
<path d="M36.00 457.53L38.60 457.53" stroke="#000" stroke-width="1.0"/>
<path d="M36.00 455.16L38.60 455.16" stroke="#000" stroke-width="1.0"/>
<path d="M36.00 453.32L38.60 453.32" stroke="#000" stroke-width="1.0"/>
<path d="M36.00 451.82L38.60 451.82" stroke="#000" stroke-width="1.0"/>
<path d="M36.00 450.54L38.60 450.54" stroke="#000" stroke-width="1.0"/>
<path d="M36.00 449.44L38.60 449.44" stroke="#000" stroke-width="1.0"/>
<path d="M36.00 448.47L38.60 448.47" stroke="#000" stroke-width="1.0"/>
<path d="M34.20 447.60L38.60 447.60" stroke="#000" stroke-width="1.3"/>
<path d="M38.60 523.60L38.60 527.60" stroke="#000" stroke-width="1.3"/>
<path d="M47.80 523.60L47.80 526.20" stroke="#000" stroke-width="1.0"/>
<path d="M53.19 523.60L53.19 526.20" stroke="#000" stroke-width="1.0"/>
<path d="M57.01 523.60L57.01 526.20" stroke="#000" stroke-width="1.0"/>
<path d="M59.97 523.60L59.97 526.20" stroke="#000" stroke-width="1.0"/>
<path d="M62.39 523.60L62.39 526.20" stroke="#000" stroke-width="1.0"/>
<path d="M64.44 523.60L64.44 526.20" stroke="#000" stroke-width="1.0"/>
<path d="M66.21 523.60L66.21 526.20" stroke="#000" stroke-width="1.0"/>
<path d="M67.78 523.60L67.78 526.20" stroke="#000" stroke-width="1.0"/>
<path d="M69.18 523.60L69.18 527.60" stroke="#000" stroke-width="1.3"/>
<path d="M78.38 523.60L78.38 526.20" stroke="#000" stroke-width="1.0"/>
<path d="M83.76 523.60L83.76 526.20" stroke="#000" stroke-width="1.0"/>
<path d="M87.58 523.60L87.58 526.20" stroke="#000" stroke-width="1.0"/>
<path d="M90.55 523.60L90.55 526.20" stroke="#000" stroke-width="1.0"/>
<path d="M92.97 523.60L92.97 526.20" stroke="#000" stroke-width="1.0"/>
<path d="M95.01 523.60L95.01 526.20" stroke="#000" stroke-width="1.0"/>
<path d="M96.79 523.60L96.79 526.20" stroke="#000" stroke-width="1.0"/>
<path d="M98.35 523.60L98.35 526.20" stroke="#000" stroke-width="1.0"/>
<path d="M99.75 523.60L99.75 527.60" stroke="#000" stroke-width="1.3"/>
<path d="M108.95 523.60L108.95 526.20" stroke="#000" stroke-width="1.0"/>
<path d="M114.34 523.60L114.34 526.20" stroke="#000" stroke-width="1.0"/>
<path d="M118.16 523.60L118.16 526.20" stroke="#000" stroke-width="1.0"/>
<path d="M121.12 523.60L121.12 526.20" stroke="#000" stroke-width="1.0"/>
<path d="M123.54 523.60L123.54 526.20" stroke="#000" stroke-width="1.0"/>
<path d="M125.59 523.60L125.59 526.20" stroke="#000" stroke-width="1.0"/>
<path d="M127.36 523.60L127.36 526.20" stroke="#000" stroke-width="1.0"/>
<path d="M128.93 523.60L128.93 526.20" stroke="#000" stroke-width="1.0"/>
<path d="M130.33 523.60L130.33 527.60" stroke="#000" stroke-width="1.3"/>
<path d="M139.53 523.60L139.53 526.20" stroke="#000" stroke-width="1.0"/>
<path d="M144.91 523.60L144.91 526.20" stroke="#000" stroke-width="1.0"/>
<path d="M148.73 523.60L148.73 526.20" stroke="#000" stroke-width="1.0"/>
<path d="M151.70 523.60L151.70 526.20" stroke="#000" stroke-width="1.0"/>
<path d="M154.12 523.60L154.12 526.20" stroke="#000" stroke-width="1.0"/>
<path d="M156.16 523.60L156.16 526.20" stroke="#000" stroke-width="1.0"/>
<path d="M157.94 523.60L157.94 526.20" stroke="#000" stroke-width="1.0"/>
<path d="M159.50 523.60L159.50 526.20" stroke="#000" stroke-width="1.0"/>
<path d="M160.90 523.60L160.90 527.60" stroke="#000" stroke-width="1.3"/>
<rect x="38.60" y="447.60" width="122.30" height="76.00" fill="none" stroke="#000" stroke-width="1.4"/>
<path d="M38.60 447.00L38.60 524.20" stroke="#000" stroke-width="1.8"/>
<path d="M38.60 523.60L160.90 523.60" stroke="#000" stroke-width="1.7"/>
<path d="M69.40 447.60L69.40 523.60" stroke="#000" stroke-width="1.5"/>
<path d="M38.60 500.30L160.90 500.30" stroke="#000" stroke-width="1.5"/>
<path d="M165.60 523.00L170.00 523.00" stroke="#000" stroke-width="1.3"/>
<path d="M167.40 517.30L170.00 517.30" stroke="#000" stroke-width="1.0"/>
<path d="M167.40 513.96L170.00 513.96" stroke="#000" stroke-width="1.0"/>
<path d="M167.40 511.59L170.00 511.59" stroke="#000" stroke-width="1.0"/>
<path d="M167.40 509.75L170.00 509.75" stroke="#000" stroke-width="1.0"/>
<path d="M167.40 508.25L170.00 508.25" stroke="#000" stroke-width="1.0"/>
<path d="M167.40 506.99L170.00 506.99" stroke="#000" stroke-width="1.0"/>
<path d="M167.40 505.89L170.00 505.89" stroke="#000" stroke-width="1.0"/>
<path d="M167.40 504.92L170.00 504.92" stroke="#000" stroke-width="1.0"/>
<path d="M165.60 504.05L170.00 504.05" stroke="#000" stroke-width="1.3"/>
<path d="M167.40 498.35L170.00 498.35" stroke="#000" stroke-width="1.0"/>
<path d="M167.40 495.01L170.00 495.01" stroke="#000" stroke-width="1.0"/>
<path d="M167.40 492.64L170.00 492.64" stroke="#000" stroke-width="1.0"/>
<path d="M167.40 490.80L170.00 490.80" stroke="#000" stroke-width="1.0"/>
<path d="M167.40 489.30L170.00 489.30" stroke="#000" stroke-width="1.0"/>
<path d="M167.40 488.04L170.00 488.04" stroke="#000" stroke-width="1.0"/>
<path d="M167.40 486.94L170.00 486.94" stroke="#000" stroke-width="1.0"/>
<path d="M167.40 485.97L170.00 485.97" stroke="#000" stroke-width="1.0"/>
<path d="M165.60 485.10L170.00 485.10" stroke="#000" stroke-width="1.3"/>
<path d="M167.40 479.40L170.00 479.40" stroke="#000" stroke-width="1.0"/>
<path d="M167.40 476.06L170.00 476.06" stroke="#000" stroke-width="1.0"/>
<path d="M167.40 473.69L170.00 473.69" stroke="#000" stroke-width="1.0"/>
<path d="M167.40 471.85L170.00 471.85" stroke="#000" stroke-width="1.0"/>
<path d="M167.40 470.35L170.00 470.35" stroke="#000" stroke-width="1.0"/>
<path d="M167.40 469.09L170.00 469.09" stroke="#000" stroke-width="1.0"/>
<path d="M167.40 467.99L170.00 467.99" stroke="#000" stroke-width="1.0"/>
<path d="M167.40 467.02L170.00 467.02" stroke="#000" stroke-width="1.0"/>
<path d="M165.60 466.15L170.00 466.15" stroke="#000" stroke-width="1.3"/>
<path d="M167.40 460.45L170.00 460.45" stroke="#000" stroke-width="1.0"/>
<path d="M167.40 457.11L170.00 457.11" stroke="#000" stroke-width="1.0"/>
<path d="M167.40 454.74L170.00 454.74" stroke="#000" stroke-width="1.0"/>
<path d="M167.40 452.90L170.00 452.90" stroke="#000" stroke-width="1.0"/>
<path d="M167.40 451.40L170.00 451.40" stroke="#000" stroke-width="1.0"/>
<path d="M167.40 450.14L170.00 450.14" stroke="#000" stroke-width="1.0"/>
<path d="M167.40 449.04L170.00 449.04" stroke="#000" stroke-width="1.0"/>
<path d="M167.40 448.07L170.00 448.07" stroke="#000" stroke-width="1.0"/>
<path d="M165.60 447.20L170.00 447.20" stroke="#000" stroke-width="1.3"/>
<path d="M170.00 523.00L170.00 527.00" stroke="#000" stroke-width="1.3"/>
<path d="M179.05 523.00L179.05 525.60" stroke="#000" stroke-width="1.0"/>
<path d="M184.34 523.00L184.34 525.60" stroke="#000" stroke-width="1.0"/>
<path d="M188.09 523.00L188.09 525.60" stroke="#000" stroke-width="1.0"/>
<path d="M191.00 523.00L191.00 525.60" stroke="#000" stroke-width="1.0"/>
<path d="M193.38 523.00L193.38 525.60" stroke="#000" stroke-width="1.0"/>
<path d="M195.40 523.00L195.40 525.60" stroke="#000" stroke-width="1.0"/>
<path d="M197.14 523.00L197.14 525.60" stroke="#000" stroke-width="1.0"/>
<path d="M198.67 523.00L198.67 525.60" stroke="#000" stroke-width="1.0"/>
<path d="M200.05 523.00L200.05 527.00" stroke="#000" stroke-width="1.3"/>
<path d="M209.10 523.00L209.10 525.60" stroke="#000" stroke-width="1.0"/>
<path d="M214.39 523.00L214.39 525.60" stroke="#000" stroke-width="1.0"/>
<path d="M218.14 523.00L218.14 525.60" stroke="#000" stroke-width="1.0"/>
<path d="M221.05 523.00L221.05 525.60" stroke="#000" stroke-width="1.0"/>
<path d="M223.43 523.00L223.43 525.60" stroke="#000" stroke-width="1.0"/>
<path d="M225.45 523.00L225.45 525.60" stroke="#000" stroke-width="1.0"/>
<path d="M227.19 523.00L227.19 525.60" stroke="#000" stroke-width="1.0"/>
<path d="M228.72 523.00L228.72 525.60" stroke="#000" stroke-width="1.0"/>
<path d="M230.10 523.00L230.10 527.00" stroke="#000" stroke-width="1.3"/>
<path d="M239.15 523.00L239.15 525.60" stroke="#000" stroke-width="1.0"/>
<path d="M244.44 523.00L244.44 525.60" stroke="#000" stroke-width="1.0"/>
<path d="M248.19 523.00L248.19 525.60" stroke="#000" stroke-width="1.0"/>
<path d="M251.10 523.00L251.10 525.60" stroke="#000" stroke-width="1.0"/>
<path d="M253.48 523.00L253.48 525.60" stroke="#000" stroke-width="1.0"/>
<path d="M255.50 523.00L255.50 525.60" stroke="#000" stroke-width="1.0"/>
<path d="M257.24 523.00L257.24 525.60" stroke="#000" stroke-width="1.0"/>
<path d="M258.77 523.00L258.77 525.60" stroke="#000" stroke-width="1.0"/>
<path d="M260.15 523.00L260.15 527.00" stroke="#000" stroke-width="1.3"/>
<path d="M269.20 523.00L269.20 525.60" stroke="#000" stroke-width="1.0"/>
<path d="M274.49 523.00L274.49 525.60" stroke="#000" stroke-width="1.0"/>
<path d="M278.24 523.00L278.24 525.60" stroke="#000" stroke-width="1.0"/>
<path d="M281.15 523.00L281.15 525.60" stroke="#000" stroke-width="1.0"/>
<path d="M283.53 523.00L283.53 525.60" stroke="#000" stroke-width="1.0"/>
<path d="M285.55 523.00L285.55 525.60" stroke="#000" stroke-width="1.0"/>
<path d="M287.29 523.00L287.29 525.60" stroke="#000" stroke-width="1.0"/>
<path d="M288.82 523.00L288.82 525.60" stroke="#000" stroke-width="1.0"/>
<path d="M290.20 523.00L290.20 527.00" stroke="#000" stroke-width="1.3"/>
<rect x="170.00" y="447.20" width="120.20" height="75.80" fill="none" stroke="#000" stroke-width="1.4"/>
<path d="M170.00 446.60L170.00 523.60" stroke="#000" stroke-width="1.8"/>
<path d="M170.00 523.00L290.20 523.00" stroke="#000" stroke-width="1.7"/>
<path d="M208.50 447.20L208.50 523.00" stroke="#000" stroke-width="1.5"/>
<path d="M170.00 494.10L290.20 494.10" stroke="#000" stroke-width="1.5"/>
<text x="31.00" y="438.00" font-family="Liberation Sans" font-size="10.2" stroke="#000" stroke-width="0.25" text-anchor="middle" transform="rotate(-90 31.00 438.00)"><tspan dy="0">10<tspan font-size="8.4" dy="-5.4">0</tspan></tspan></text>
<text x="31.00" y="421.30" font-family="Liberation Sans" font-size="10.2" stroke="#000" stroke-width="0.25" text-anchor="middle" transform="rotate(-90 31.00 421.30)"><tspan dy="0">10<tspan font-size="8.4" dy="-5.4">1</tspan></tspan></text>
<text x="31.00" y="402.40" font-family="Liberation Sans" font-size="10.2" stroke="#000" stroke-width="0.25" text-anchor="middle" transform="rotate(-90 31.00 402.40)"><tspan dy="0">10<tspan font-size="8.4" dy="-5.4">2</tspan></tspan></text>
<text x="31.00" y="383.80" font-family="Liberation Sans" font-size="10.2" stroke="#000" stroke-width="0.25" text-anchor="middle" transform="rotate(-90 31.00 383.80)"><tspan dy="0">10<tspan font-size="8.4" dy="-5.4">3</tspan></tspan></text>
<text x="31.00" y="367.00" font-family="Liberation Sans" font-size="10.2" stroke="#000" stroke-width="0.25" text-anchor="middle" transform="rotate(-90 31.00 367.00)"><tspan dy="0">10</tspan></text>
<text x="28.30" y="520.60" font-family="Liberation Sans" font-size="10.2" stroke="#000" stroke-width="0.25" text-anchor="middle" transform="rotate(-90 28.30 520.60)"><tspan dy="0">10<tspan font-size="8.4" dy="-5.4">0</tspan></tspan></text>
<text x="28.30" y="505.20" font-family="Liberation Sans" font-size="10.2" stroke="#000" stroke-width="0.25" text-anchor="middle" transform="rotate(-90 28.30 505.20)"><tspan dy="0">10<tspan font-size="8.4" dy="-5.4">1</tspan></tspan></text>
<text x="28.30" y="486.60" font-family="Liberation Sans" font-size="10.2" stroke="#000" stroke-width="0.25" text-anchor="middle" transform="rotate(-90 28.30 486.60)"><tspan dy="0">10<tspan font-size="8.4" dy="-5.4">2</tspan></tspan></text>
<text x="28.30" y="468.60" font-family="Liberation Sans" font-size="10.2" stroke="#000" stroke-width="0.25" text-anchor="middle" transform="rotate(-90 28.30 468.60)"><tspan dy="0">10<tspan font-size="8.4" dy="-5.4">3</tspan></tspan></text>
<text x="28.30" y="451.40" font-family="Liberation Sans" font-size="10.2" stroke="#000" stroke-width="0.25" text-anchor="middle" transform="rotate(-90 28.30 451.40)"><tspan dy="0">10</tspan></text>
<text x="39.90" y="537.60" font-family="Liberation Sans" font-size="9.6" stroke="#000" stroke-width="0.25" text-anchor="middle">10<tspan font-size="8.0" dy="-5.0">0</tspan></text>
<text x="69.60" y="537.60" font-family="Liberation Sans" font-size="9.6" stroke="#000" stroke-width="0.25" text-anchor="middle">10<tspan font-size="8.0" dy="-5.0">1</tspan></text>
<text x="99.90" y="537.60" font-family="Liberation Sans" font-size="9.6" stroke="#000" stroke-width="0.25" text-anchor="middle">10<tspan font-size="8.0" dy="-5.0">2</tspan></text>
<text x="130.30" y="537.60" font-family="Liberation Sans" font-size="9.6" stroke="#000" stroke-width="0.25" text-anchor="middle">10<tspan font-size="8.0" dy="-5.0">3</tspan></text>
<text x="156.40" y="537.60" font-family="Liberation Sans" font-size="9.6" stroke="#000" stroke-width="0.25" text-anchor="middle">10</text>
<text x="170.60" y="537.60" font-family="Liberation Sans" font-size="9.6" stroke="#000" stroke-width="0.25" text-anchor="middle">10<tspan font-size="8.0" dy="-5.0">0</tspan></text>
<text x="200.60" y="537.60" font-family="Liberation Sans" font-size="9.6" stroke="#000" stroke-width="0.25" text-anchor="middle">10<tspan font-size="8.0" dy="-5.0">1</tspan></text>
<text x="230.70" y="537.60" font-family="Liberation Sans" font-size="9.6" stroke="#000" stroke-width="0.25" text-anchor="middle">10<tspan font-size="8.0" dy="-5.0">2</tspan></text>
<text x="260.60" y="537.60" font-family="Liberation Sans" font-size="9.6" stroke="#000" stroke-width="0.25" text-anchor="middle">10<tspan font-size="8.0" dy="-5.0">3</tspan></text>
<text x="287.00" y="537.60" font-family="Liberation Sans" font-size="9.6" stroke="#000" stroke-width="0.25" text-anchor="middle">10</text>
<text x="42.30" y="378.00" font-size="10.2" stroke="#000" stroke-width="0.22">0.13%</text>
<text x="163.40" y="377.50" font-size="10.2" stroke="#000" stroke-width="0.22" text-anchor="end">1.86%</text>
<text x="163.40" y="438.30" font-size="10.2" stroke="#000" stroke-width="0.22" text-anchor="end">0.7%</text>
<text x="175.80" y="381.00" font-size="10.2" stroke="#000" stroke-width="0.22">0.16%</text>
<text x="263.20" y="380.20" font-size="10.2" stroke="#000" stroke-width="0.22">2.52</text>
<text x="263.80" y="393.70" font-size="10.2" stroke="#000" stroke-width="0.22">%</text>
<text x="291.60" y="438.10" font-size="10.2" stroke="#000" stroke-width="0.22" text-anchor="end">1.82%</text>
<text x="42.90" y="462.90" font-size="10.2" stroke="#000" stroke-width="0.22">0.88%</text>
<text x="163.40" y="462.90" font-size="10.2" stroke="#000" stroke-width="0.22" text-anchor="end">6.49%</text>
<text x="163.40" y="519.50" font-size="10.2" stroke="#000" stroke-width="0.22" text-anchor="end">2.14%</text>
<text x="175.90" y="463.60" font-size="10.2" stroke="#000" stroke-width="0.22">5.55%</text>
<text x="293.10" y="463.60" font-size="10.2" stroke="#000" stroke-width="0.22" text-anchor="end">12.27%</text>
<text x="291.00" y="520.30" font-size="10.2" stroke="#000" stroke-width="0.22" text-anchor="end">16.18%</text>
<text x="8.40" y="395.10" font-size="10.3" font-weight="bold" stroke="#000" stroke-width="0.3" text-anchor="middle" transform="rotate(-90 8.40 395.10)" letter-spacing="0.25">Untreated</text>
<text x="8.40" y="482.60" font-size="10.4" font-weight="bold" stroke="#000" stroke-width="0.3" text-anchor="middle" transform="rotate(-90 8.40 482.60)" letter-spacing="0.3">2&#956;M As2O3</text>
<path d="M300.00 537.60L300.00 370.00" stroke="#000" stroke-width="1.3"/>
<polygon points="300,362.9 304.6,371.3 295.4,371.3" fill="#000"/>
<text x="311.20" y="437.60" font-size="10.6" font-weight="bold" stroke="#000" stroke-width="0.3" text-anchor="middle" transform="rotate(-90 311.20 437.60)">PI Intensity</text>
<path d="M27.50 541.50L284.00 541.50" stroke="#000" stroke-width="1.3"/>
<polygon points="291,541.5 282.3,537.6 282.3,545.4" fill="#000"/>
<text x="190.80" y="553.90" font-size="10.6" font-weight="bold" stroke="#000" stroke-width="0.3" text-anchor="middle">Annexin-V Intensity</text>
<text x="338.6" y="351.3" font-family="Liberation Sans" font-size="16.5" font-weight="bold">C</text>
<text x="417.50" y="378.00" font-size="10.9" font-weight="bold" stroke="#000" stroke-width="0.3">Jurkat</text>
<text x="470.60" y="378.00" font-size="11.2" font-weight="bold" stroke="#000" stroke-width="0.3">Raji</text>
<path d="M421.00 382.90L452.70 382.90" stroke="#000" stroke-width="1.3"/>
<path d="M467.80 382.90L500.10 382.90" stroke="#000" stroke-width="1.3"/>
<text x="428.00" y="431.90" font-size="10.5" font-weight="bold" stroke="#000" stroke-width="0.3" transform="rotate(-90 428.00 431.90)">untreated</text>
<text x="451.60" y="431.90" font-size="11.2" stroke="#000" stroke-width="0.22" transform="rotate(-90 451.60 431.90)">2&#956;M As</text>
<text x="474.80" y="431.90" font-size="10.5" font-weight="bold" stroke="#000" stroke-width="0.3" transform="rotate(-90 474.80 431.90)">untreated</text>
<text x="499.20" y="431.90" font-size="11.2" stroke="#000" stroke-width="0.22" transform="rotate(-90 499.20 431.90)">2&#956;M As</text>
<rect x="401.1" y="434.0" width="116.4" height="46.6" fill="#fff" stroke="#000" stroke-width="1.4"/>
<text x="346.50" y="451.50" font-size="10.6" font-weight="bold" stroke="#000" stroke-width="0.3">PARP</text>
<text x="340.30" y="472.80" font-size="10.6" font-weight="bold" stroke="#000" stroke-width="0.3">&#916;PARP</text>
<path d="M388.00 450.80L394.00 450.80" stroke="#000" stroke-width="1.4"/>
<polygon points="400.8,450.8 392.3,446.90000000000003 392.3,454.7" fill="#000"/>
<path d="M388.00 470.30L394.00 470.30" stroke="#000" stroke-width="1.4"/>
<polygon points="400.8,470.3 392.3,466.40000000000003 392.3,474.2" fill="#000"/>
<path d="M419.20,445.50 L436.50,446.90 A2.80,2.80 0 0 1 436.50,452.50 L419.20,451.10 A2.80,2.80 0 0 1 419.20,445.50 Z" fill="#303030" fill-opacity="0.9" filter="url(#bb)"/>
<path d="M442.00,447.90 L459.10,448.70 A3.00,3.00 0 0 1 459.10,454.70 L442.00,453.90 A3.00,3.00 0 0 1 442.00,447.90 Z" fill="#303030" fill-opacity="0.9" filter="url(#bb)"/>
<path d="M466.10,448.60 L479.70,449.00 A2.80,2.80 0 0 1 479.70,454.60 L466.10,454.20 A2.80,2.80 0 0 1 466.10,448.60 Z" fill="#303030" fill-opacity="0.9" filter="url(#bb)"/>
<path d="M488.30,449.90 L502.30,449.90 A2.10,2.10 0 0 1 502.30,454.10 L488.30,454.10 A2.10,2.10 0 0 1 488.30,449.90 Z" fill="#303030" fill-opacity="0.9" filter="url(#bb)"/>
<path d="M489.20,468.40 L502.60,467.80 A1.80,1.80 0 0 1 502.60,471.40 L489.20,472.00 A1.80,1.80 0 0 1 489.20,468.40 Z" fill="#303030" fill-opacity="0.9" filter="url(#bb)"/>
<ellipse cx="419.3" cy="474.3" rx="1.26" ry="0.7200000000000001" fill="#000" fill-opacity="0.5"/>
<ellipse cx="435.7" cy="474.6" rx="1.1199999999999999" ry="0.6400000000000001" fill="#000" fill-opacity="0.35"/>
<ellipse cx="445.3" cy="474.6" rx="1.1199999999999999" ry="0.6400000000000001" fill="#000" fill-opacity="0.3"/>
<ellipse cx="492.9" cy="472.6" rx="1.4" ry="0.8" fill="#000" fill-opacity="0.6"/>
</g>
</svg>
</body></html>
